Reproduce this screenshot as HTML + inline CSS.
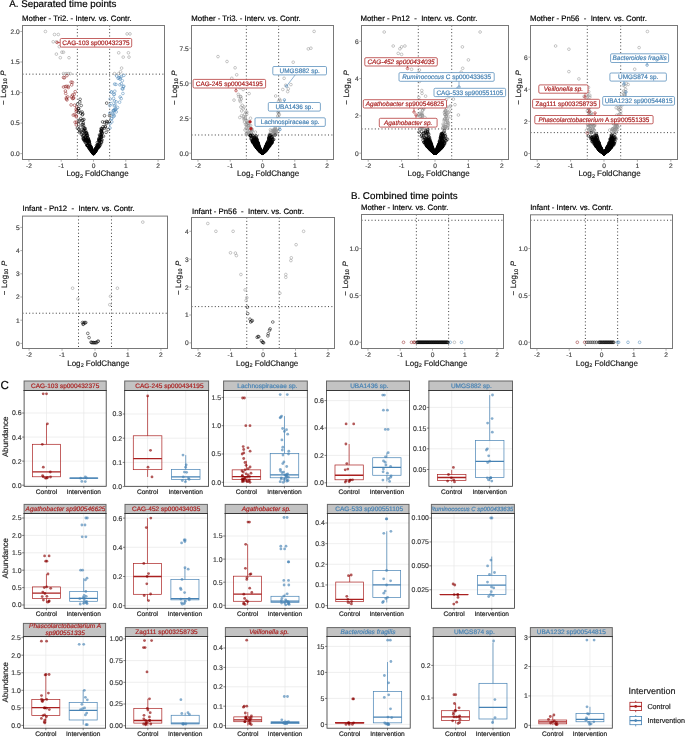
<!DOCTYPE html>
<html><head><meta charset="utf-8"><style>
html,body{margin:0;padding:0;background:#fff;width:685px;height:737px;overflow:hidden}
svg{display:block;will-change:transform}
text{font-family:"Liberation Sans", sans-serif;stroke-width:0.18px}
</style></head><body>
<svg width="685" height="737" viewBox="0 0 685 737" text-rendering="geometricPrecision">
<rect width="685" height="737" fill="#fff"/>
<text x="9.2" y="7.1" font-size="9.8" fill="#000" stroke="#000" text-anchor="start">A. Separated time points</text>
<text x="350.9" y="198.8" font-size="9.8" fill="#000" stroke="#000" text-anchor="start">B. Combined time points</text>
<text x="0.5" y="388.7" font-size="11.6" fill="#000" stroke="#000" text-anchor="start">C</text>
<g>
<clipPath id="c1"><rect x="22.5" y="25.5" width="142" height="134"/></clipPath>
<text x="22.1" y="20.7" font-size="7.8" fill="#000" stroke="#000" text-anchor="start">Mother - Tri2. - Interv. vs. Contr.</text>
<line x1="77.36" y1="25.5" x2="77.36" y2="159.5" stroke="#333" stroke-width="0.95" stroke-dasharray="1 2.33" fill="none"/>
<line x1="109.64" y1="25.5" x2="109.64" y2="159.5" stroke="#333" stroke-width="0.95" stroke-dasharray="1 2.33" fill="none"/>
<line x1="22.5" y1="74.15" x2="164.5" y2="74.15" stroke="#333" stroke-width="0.95" stroke-dasharray="1 2.33" fill="none"/>
<g clip-path="url(#c1)" fill="none" stroke-width="0.5">
<g stroke="#8E8E8E">
<circle cx="45.4" cy="31.5" r="1.35"/>
<circle cx="54.5" cy="34.5" r="1.35"/>
<circle cx="58.3" cy="34.5" r="1.35"/>
<circle cx="53.2" cy="41.8" r="1.35"/>
<circle cx="56.4" cy="41.8" r="1.35"/>
<circle cx="59.3" cy="46.7" r="1.35"/>
<circle cx="56.4" cy="54.1" r="1.35"/>
<circle cx="61.9" cy="52.2" r="1.35"/>
<circle cx="63.5" cy="52.2" r="1.35"/>
<circle cx="60.3" cy="57.7" r="1.35"/>
<circle cx="69.0" cy="57.7" r="1.35"/>
<circle cx="63.5" cy="73.6" r="1.35"/>
<circle cx="66.1" cy="73.6" r="1.35"/>
<circle cx="68.3" cy="73.6" r="1.35"/>
<circle cx="70.3" cy="73.6" r="1.35"/>
<circle cx="127.1" cy="33.9" r="1.35"/>
<circle cx="130.0" cy="33.9" r="1.35"/>
<circle cx="118.7" cy="52.8" r="1.35"/>
<circle cx="128.4" cy="52.8" r="1.35"/>
<circle cx="123.2" cy="57.1" r="1.35"/>
<circle cx="129.0" cy="57.1" r="1.35"/>
<circle cx="121.6" cy="68.1" r="1.35"/>
<circle cx="120.6" cy="71.8" r="1.35"/>
<circle cx="118.7" cy="73.6" r="1.35"/>
<circle cx="114.5" cy="73.6" r="1.35"/>
</g>
<g stroke="#8B1A1A">
<circle cx="63.5" cy="87.0" r="1.35"/>
<circle cx="66.9" cy="75.6" r="1.35"/>
<circle cx="68.1" cy="86.4" r="1.35"/>
<circle cx="65.2" cy="86.6" r="1.35"/>
<circle cx="71.1" cy="104.9" r="1.35"/>
<circle cx="73.3" cy="115.1" r="1.35"/>
<circle cx="74.1" cy="94.4" r="1.35"/>
<circle cx="75.2" cy="91.7" r="1.35"/>
<circle cx="71.1" cy="82.1" r="1.35"/>
<circle cx="72.4" cy="82.4" r="1.35"/>
<circle cx="63.5" cy="77.5" r="1.35"/>
<circle cx="76.1" cy="109.2" r="1.35"/>
<circle cx="76.9" cy="110.6" r="1.35"/>
<circle cx="76.7" cy="122.1" r="1.35"/>
<circle cx="72.5" cy="95.0" r="1.35"/>
<circle cx="71.7" cy="84.9" r="1.35"/>
<circle cx="76.3" cy="115.8" r="1.35"/>
<circle cx="67.0" cy="99.9" r="1.35"/>
<circle cx="66.4" cy="99.0" r="1.35"/>
<circle cx="76.2" cy="111.3" r="1.35"/>
<circle cx="66.5" cy="86.4" r="1.35"/>
<circle cx="74.7" cy="114.6" r="1.35"/>
<circle cx="65.7" cy="93.4" r="1.35"/>
<circle cx="72.5" cy="98.5" r="1.35"/>
<circle cx="76.3" cy="124.9" r="1.35"/>
<circle cx="68.3" cy="87.5" r="1.35"/>
<circle cx="66.4" cy="97.8" r="1.35"/>
<circle cx="74.6" cy="105.2" r="1.35"/>
<circle cx="73.4" cy="98.3" r="1.35"/>
<circle cx="67.7" cy="96.9" r="1.35"/>
<circle cx="76.7" cy="107.1" r="1.35"/>
<circle cx="65.4" cy="91.0" r="1.35"/>
<circle cx="71.5" cy="96.9" r="1.35"/>
<circle cx="76.3" cy="116.8" r="1.35"/>
<circle cx="75.1" cy="122.2" r="1.35"/>
<circle cx="73.5" cy="97.7" r="1.35"/>
<circle cx="64.4" cy="77.8" r="1.35"/>
</g>
<g stroke="#4682B4">
<circle cx="110.0" cy="128.0" r="1.35"/>
<circle cx="109.9" cy="113.0" r="1.35"/>
<circle cx="113.2" cy="114.3" r="1.35"/>
<circle cx="113.9" cy="110.8" r="1.35"/>
<circle cx="114.9" cy="109.3" r="1.35"/>
<circle cx="113.8" cy="116.3" r="1.35"/>
<circle cx="111.6" cy="91.9" r="1.35"/>
<circle cx="116.7" cy="76.0" r="1.35"/>
<circle cx="114.8" cy="91.2" r="1.35"/>
<circle cx="115.9" cy="84.4" r="1.35"/>
<circle cx="123.2" cy="86.8" r="1.35"/>
<circle cx="116.1" cy="108.8" r="1.35"/>
<circle cx="121.3" cy="83.8" r="1.35"/>
<circle cx="113.8" cy="94.6" r="1.35"/>
<circle cx="113.6" cy="98.4" r="1.35"/>
<circle cx="114.2" cy="115.5" r="1.35"/>
<circle cx="120.1" cy="97.0" r="1.35"/>
<circle cx="110.2" cy="99.0" r="1.35"/>
<circle cx="114.3" cy="105.8" r="1.35"/>
<circle cx="121.2" cy="98.6" r="1.35"/>
<circle cx="114.3" cy="94.3" r="1.35"/>
<circle cx="120.4" cy="77.7" r="1.35"/>
<circle cx="115.0" cy="105.0" r="1.35"/>
<circle cx="114.0" cy="110.0" r="1.35"/>
<circle cx="112.1" cy="113.2" r="1.35"/>
<circle cx="122.3" cy="80.7" r="1.35"/>
<circle cx="119.6" cy="102.2" r="1.35"/>
<circle cx="122.2" cy="88.8" r="1.35"/>
<circle cx="115.3" cy="110.1" r="1.35"/>
<circle cx="111.6" cy="118.3" r="1.35"/>
<circle cx="119.9" cy="84.8" r="1.35"/>
<circle cx="114.6" cy="84.1" r="1.35"/>
<circle cx="111.2" cy="92.1" r="1.35"/>
<circle cx="116.1" cy="101.8" r="1.35"/>
<circle cx="111.2" cy="103.6" r="1.35"/>
<circle cx="117.5" cy="107.5" r="1.35"/>
<circle cx="118.1" cy="78.3" r="1.35"/>
<circle cx="111.7" cy="118.7" r="1.35"/>
<circle cx="122.9" cy="88.9" r="1.35"/>
<circle cx="120.0" cy="79.1" r="1.35"/>
<circle cx="113.1" cy="110.7" r="1.35"/>
<circle cx="121.3" cy="76.5" r="1.35"/>
<circle cx="119.0" cy="77.7" r="1.35"/>
<circle cx="116.2" cy="111.9" r="1.35"/>
<circle cx="123.8" cy="86.2" r="1.35"/>
<circle cx="122.9" cy="93.5" r="1.35"/>
<circle cx="111.8" cy="121.9" r="1.35"/>
<circle cx="123.8" cy="75.4" r="1.35"/>
<circle cx="110.0" cy="123.6" r="1.35"/>
<circle cx="109.8" cy="105.5" r="1.35"/>
<circle cx="114.4" cy="101.1" r="1.35"/>
</g>
<g stroke="#000">
<circle cx="96.6" cy="149.1" r="1.35"/>
<circle cx="100.9" cy="130.9" r="1.35"/>
<circle cx="96.5" cy="149.5" r="1.35"/>
<circle cx="81.7" cy="134.5" r="1.35"/>
<circle cx="101.7" cy="129.1" r="1.35"/>
<circle cx="97.5" cy="146.9" r="1.35"/>
<circle cx="88.6" cy="141.0" r="1.35"/>
<circle cx="98.8" cy="140.3" r="1.35"/>
<circle cx="96.8" cy="147.5" r="1.35"/>
<circle cx="96.2" cy="148.9" r="1.35"/>
<circle cx="93.8" cy="153.2" r="1.35"/>
<circle cx="98.4" cy="144.5" r="1.35"/>
<circle cx="86.8" cy="135.4" r="1.35"/>
<circle cx="92.0" cy="151.6" r="1.35"/>
<circle cx="89.1" cy="143.3" r="1.35"/>
<circle cx="98.9" cy="146.5" r="1.35"/>
<circle cx="93.9" cy="153.0" r="1.35"/>
<circle cx="90.9" cy="147.9" r="1.35"/>
<circle cx="86.4" cy="133.2" r="1.35"/>
<circle cx="91.2" cy="149.4" r="1.35"/>
<circle cx="93.6" cy="153.5" r="1.35"/>
<circle cx="91.0" cy="149.6" r="1.35"/>
<circle cx="105.2" cy="126.4" r="1.35"/>
<circle cx="102.6" cy="121.9" r="1.35"/>
<circle cx="91.9" cy="151.5" r="1.35"/>
<circle cx="89.7" cy="148.3" r="1.35"/>
<circle cx="95.4" cy="151.3" r="1.35"/>
<circle cx="95.5" cy="150.6" r="1.35"/>
<circle cx="83.5" cy="129.7" r="1.35"/>
<circle cx="90.1" cy="146.9" r="1.35"/>
<circle cx="99.3" cy="140.5" r="1.35"/>
<circle cx="99.5" cy="143.6" r="1.35"/>
<circle cx="88.9" cy="141.7" r="1.35"/>
<circle cx="78.6" cy="108.6" r="1.35"/>
<circle cx="95.0" cy="151.1" r="1.35"/>
<circle cx="94.5" cy="151.8" r="1.35"/>
<circle cx="82.4" cy="114.8" r="1.35"/>
<circle cx="87.3" cy="145.7" r="1.35"/>
<circle cx="92.8" cy="152.7" r="1.35"/>
<circle cx="85.0" cy="140.7" r="1.35"/>
<circle cx="92.6" cy="151.9" r="1.35"/>
<circle cx="94.4" cy="152.6" r="1.35"/>
<circle cx="93.8" cy="153.2" r="1.35"/>
<circle cx="88.9" cy="148.0" r="1.35"/>
<circle cx="98.9" cy="139.4" r="1.35"/>
<circle cx="101.6" cy="136.2" r="1.35"/>
<circle cx="96.4" cy="147.7" r="1.35"/>
<circle cx="86.1" cy="140.0" r="1.35"/>
<circle cx="100.1" cy="136.2" r="1.35"/>
<circle cx="89.0" cy="140.9" r="1.35"/>
<circle cx="101.4" cy="136.5" r="1.35"/>
<circle cx="83.8" cy="135.3" r="1.35"/>
<circle cx="101.8" cy="133.7" r="1.35"/>
<circle cx="93.3" cy="153.4" r="1.35"/>
<circle cx="82.2" cy="124.7" r="1.35"/>
<circle cx="90.7" cy="147.4" r="1.35"/>
<circle cx="94.0" cy="153.0" r="1.35"/>
<circle cx="96.0" cy="149.0" r="1.35"/>
<circle cx="84.6" cy="129.0" r="1.35"/>
<circle cx="83.5" cy="125.3" r="1.35"/>
<circle cx="95.3" cy="151.5" r="1.35"/>
<circle cx="89.3" cy="148.4" r="1.35"/>
<circle cx="95.6" cy="150.3" r="1.35"/>
<circle cx="100.4" cy="135.9" r="1.35"/>
<circle cx="78.6" cy="124.3" r="1.35"/>
<circle cx="95.8" cy="148.3" r="1.35"/>
<circle cx="104.6" cy="122.5" r="1.35"/>
<circle cx="90.8" cy="148.9" r="1.35"/>
<circle cx="86.2" cy="136.8" r="1.35"/>
<circle cx="100.3" cy="137.4" r="1.35"/>
<circle cx="95.8" cy="150.9" r="1.35"/>
<circle cx="101.6" cy="129.3" r="1.35"/>
<circle cx="90.4" cy="148.5" r="1.35"/>
<circle cx="80.1" cy="99.3" r="1.35"/>
<circle cx="92.5" cy="151.2" r="1.35"/>
<circle cx="89.5" cy="143.5" r="1.35"/>
<circle cx="100.5" cy="144.7" r="1.35"/>
<circle cx="95.2" cy="151.1" r="1.35"/>
<circle cx="78.8" cy="129.2" r="1.35"/>
<circle cx="82.7" cy="113.9" r="1.35"/>
<circle cx="101.5" cy="139.7" r="1.35"/>
<circle cx="99.6" cy="140.5" r="1.35"/>
<circle cx="87.7" cy="141.1" r="1.35"/>
<circle cx="93.5" cy="153.6" r="1.35"/>
<circle cx="97.5" cy="144.5" r="1.35"/>
<circle cx="97.7" cy="145.7" r="1.35"/>
<circle cx="101.4" cy="132.0" r="1.35"/>
<circle cx="95.8" cy="149.0" r="1.35"/>
<circle cx="92.6" cy="152.2" r="1.35"/>
<circle cx="91.2" cy="147.9" r="1.35"/>
<circle cx="103.0" cy="126.7" r="1.35"/>
<circle cx="92.2" cy="151.4" r="1.35"/>
<circle cx="93.8" cy="153.2" r="1.35"/>
<circle cx="80.6" cy="127.4" r="1.35"/>
<circle cx="96.5" cy="148.4" r="1.35"/>
<circle cx="87.6" cy="145.5" r="1.35"/>
<circle cx="101.3" cy="131.0" r="1.35"/>
<circle cx="92.4" cy="150.8" r="1.35"/>
<circle cx="99.5" cy="140.2" r="1.35"/>
<circle cx="104.5" cy="115.7" r="1.35"/>
<circle cx="97.0" cy="147.6" r="1.35"/>
<circle cx="85.6" cy="138.3" r="1.35"/>
<circle cx="79.8" cy="102.0" r="1.35"/>
<circle cx="109.3" cy="121.9" r="1.35"/>
<circle cx="92.5" cy="152.0" r="1.35"/>
<circle cx="87.3" cy="140.1" r="1.35"/>
<circle cx="94.8" cy="152.0" r="1.35"/>
<circle cx="91.8" cy="151.4" r="1.35"/>
<circle cx="101.2" cy="131.9" r="1.35"/>
<circle cx="93.8" cy="152.9" r="1.35"/>
<circle cx="93.6" cy="153.5" r="1.35"/>
<circle cx="87.0" cy="135.1" r="1.35"/>
<circle cx="97.7" cy="147.3" r="1.35"/>
<circle cx="84.2" cy="128.4" r="1.35"/>
<circle cx="99.5" cy="139.8" r="1.35"/>
<circle cx="107.3" cy="121.9" r="1.35"/>
<circle cx="79.7" cy="132.5" r="1.35"/>
<circle cx="99.1" cy="138.2" r="1.35"/>
<circle cx="84.5" cy="131.6" r="1.35"/>
<circle cx="82.2" cy="120.3" r="1.35"/>
<circle cx="98.8" cy="146.9" r="1.35"/>
<circle cx="85.9" cy="133.2" r="1.35"/>
<circle cx="88.9" cy="146.5" r="1.35"/>
<circle cx="90.4" cy="149.8" r="1.35"/>
<circle cx="98.3" cy="146.5" r="1.35"/>
<circle cx="89.8" cy="148.0" r="1.35"/>
<circle cx="96.0" cy="149.9" r="1.35"/>
<circle cx="91.9" cy="151.5" r="1.35"/>
<circle cx="85.9" cy="133.2" r="1.35"/>
<circle cx="90.6" cy="149.0" r="1.35"/>
<circle cx="84.9" cy="140.2" r="1.35"/>
<circle cx="93.6" cy="153.5" r="1.35"/>
<circle cx="83.3" cy="138.8" r="1.35"/>
<circle cx="83.6" cy="139.3" r="1.35"/>
<circle cx="106.7" cy="103.1" r="1.35"/>
<circle cx="93.0" cy="152.7" r="1.35"/>
<circle cx="93.0" cy="152.7" r="1.35"/>
<circle cx="98.1" cy="147.5" r="1.35"/>
<circle cx="89.7" cy="145.9" r="1.35"/>
<circle cx="91.4" cy="149.0" r="1.35"/>
<circle cx="97.3" cy="142.6" r="1.35"/>
<circle cx="96.1" cy="148.0" r="1.35"/>
<circle cx="83.0" cy="136.2" r="1.35"/>
<circle cx="101.0" cy="128.6" r="1.35"/>
<circle cx="88.2" cy="139.0" r="1.35"/>
<circle cx="84.0" cy="127.7" r="1.35"/>
<circle cx="85.4" cy="137.0" r="1.35"/>
<circle cx="90.0" cy="146.1" r="1.35"/>
<circle cx="108.2" cy="129.6" r="1.35"/>
<circle cx="82.9" cy="120.1" r="1.35"/>
<circle cx="94.9" cy="151.2" r="1.35"/>
<circle cx="93.5" cy="153.6" r="1.35"/>
<circle cx="101.6" cy="141.9" r="1.35"/>
<circle cx="91.4" cy="148.3" r="1.35"/>
<circle cx="87.8" cy="145.2" r="1.35"/>
<circle cx="95.6" cy="150.5" r="1.35"/>
<circle cx="99.8" cy="139.8" r="1.35"/>
<circle cx="99.5" cy="134.9" r="1.35"/>
<circle cx="95.4" cy="151.0" r="1.35"/>
<circle cx="88.1" cy="137.9" r="1.35"/>
<circle cx="92.4" cy="151.3" r="1.35"/>
<circle cx="92.8" cy="152.2" r="1.35"/>
<circle cx="94.5" cy="152.2" r="1.35"/>
<circle cx="93.2" cy="153.1" r="1.35"/>
<circle cx="95.1" cy="149.7" r="1.35"/>
<circle cx="78.4" cy="108.7" r="1.35"/>
<circle cx="101.0" cy="134.8" r="1.35"/>
<circle cx="88.3" cy="145.5" r="1.35"/>
<circle cx="82.9" cy="124.2" r="1.35"/>
<circle cx="99.3" cy="144.2" r="1.35"/>
<circle cx="105.4" cy="127.0" r="1.35"/>
<circle cx="98.0" cy="147.7" r="1.35"/>
<circle cx="95.0" cy="151.6" r="1.35"/>
<circle cx="85.1" cy="133.8" r="1.35"/>
<circle cx="101.5" cy="136.4" r="1.35"/>
<circle cx="83.2" cy="138.0" r="1.35"/>
<circle cx="86.5" cy="132.6" r="1.35"/>
<circle cx="94.3" cy="152.2" r="1.35"/>
<circle cx="79.5" cy="120.3" r="1.35"/>
<circle cx="95.0" cy="150.8" r="1.35"/>
<circle cx="89.4" cy="146.5" r="1.35"/>
<circle cx="104.6" cy="128.2" r="1.35"/>
<circle cx="102.2" cy="133.1" r="1.35"/>
<circle cx="93.9" cy="152.9" r="1.35"/>
<circle cx="78.9" cy="121.4" r="1.35"/>
<circle cx="103.5" cy="136.2" r="1.35"/>
<circle cx="95.0" cy="149.9" r="1.35"/>
<circle cx="98.5" cy="142.2" r="1.35"/>
<circle cx="83.9" cy="140.2" r="1.35"/>
<circle cx="83.9" cy="119.5" r="1.35"/>
<circle cx="96.9" cy="149.0" r="1.35"/>
<circle cx="87.4" cy="145.7" r="1.35"/>
<circle cx="93.3" cy="153.3" r="1.35"/>
<circle cx="82.1" cy="132.8" r="1.35"/>
<circle cx="84.7" cy="138.7" r="1.35"/>
<circle cx="90.8" cy="149.1" r="1.35"/>
<circle cx="98.0" cy="147.1" r="1.35"/>
<circle cx="87.6" cy="142.0" r="1.35"/>
<circle cx="91.3" cy="148.6" r="1.35"/>
<circle cx="88.4" cy="139.0" r="1.35"/>
<circle cx="92.3" cy="152.1" r="1.35"/>
<circle cx="82.9" cy="135.5" r="1.35"/>
<circle cx="89.5" cy="143.4" r="1.35"/>
<circle cx="91.6" cy="151.1" r="1.35"/>
<circle cx="90.5" cy="146.9" r="1.35"/>
<circle cx="94.0" cy="152.8" r="1.35"/>
<circle cx="90.9" cy="148.1" r="1.35"/>
<circle cx="100.3" cy="134.9" r="1.35"/>
<circle cx="90.6" cy="146.4" r="1.35"/>
<circle cx="92.3" cy="150.5" r="1.35"/>
<circle cx="87.5" cy="135.4" r="1.35"/>
<circle cx="88.7" cy="139.9" r="1.35"/>
<circle cx="82.1" cy="112.0" r="1.35"/>
<circle cx="98.2" cy="147.1" r="1.35"/>
<circle cx="83.2" cy="130.9" r="1.35"/>
<circle cx="86.8" cy="133.5" r="1.35"/>
<circle cx="96.7" cy="147.8" r="1.35"/>
<circle cx="97.1" cy="147.1" r="1.35"/>
<circle cx="89.9" cy="146.9" r="1.35"/>
<circle cx="97.3" cy="146.0" r="1.35"/>
<circle cx="95.8" cy="150.6" r="1.35"/>
<circle cx="80.7" cy="118.6" r="1.35"/>
<circle cx="100.5" cy="139.4" r="1.35"/>
<circle cx="87.2" cy="145.2" r="1.35"/>
<circle cx="83.3" cy="122.8" r="1.35"/>
<circle cx="94.4" cy="152.4" r="1.35"/>
<circle cx="91.9" cy="150.7" r="1.35"/>
<circle cx="95.3" cy="151.1" r="1.35"/>
<circle cx="79.0" cy="110.6" r="1.35"/>
<circle cx="88.1" cy="141.4" r="1.35"/>
<circle cx="79.6" cy="130.9" r="1.35"/>
<circle cx="99.1" cy="146.2" r="1.35"/>
<circle cx="90.3" cy="148.4" r="1.35"/>
<circle cx="96.4" cy="150.1" r="1.35"/>
<circle cx="90.4" cy="149.1" r="1.35"/>
<circle cx="93.0" cy="152.9" r="1.35"/>
<circle cx="95.7" cy="150.8" r="1.35"/>
<circle cx="86.8" cy="136.1" r="1.35"/>
<circle cx="99.6" cy="145.9" r="1.35"/>
<circle cx="89.3" cy="144.6" r="1.35"/>
<circle cx="85.6" cy="137.1" r="1.35"/>
<circle cx="94.2" cy="152.0" r="1.35"/>
<circle cx="97.5" cy="148.0" r="1.35"/>
<circle cx="91.4" cy="149.3" r="1.35"/>
<circle cx="85.7" cy="140.2" r="1.35"/>
<circle cx="99.1" cy="138.9" r="1.35"/>
<circle cx="77.6" cy="104.1" r="1.35"/>
<circle cx="84.2" cy="130.5" r="1.35"/>
<circle cx="93.9" cy="152.8" r="1.35"/>
<circle cx="81.2" cy="105.5" r="1.35"/>
<circle cx="93.8" cy="153.3" r="1.35"/>
<circle cx="93.0" cy="153.0" r="1.35"/>
<circle cx="101.6" cy="130.5" r="1.35"/>
<circle cx="85.2" cy="128.4" r="1.35"/>
<circle cx="87.8" cy="140.6" r="1.35"/>
<circle cx="96.5" cy="145.6" r="1.35"/>
<circle cx="87.2" cy="141.7" r="1.35"/>
<circle cx="86.9" cy="144.7" r="1.35"/>
<circle cx="101.3" cy="142.3" r="1.35"/>
<circle cx="93.1" cy="153.2" r="1.35"/>
<circle cx="77.4" cy="128.1" r="1.35"/>
<circle cx="99.2" cy="143.4" r="1.35"/>
<circle cx="101.2" cy="137.5" r="1.35"/>
<circle cx="89.4" cy="142.0" r="1.35"/>
<circle cx="91.0" cy="147.0" r="1.35"/>
<circle cx="97.9" cy="145.5" r="1.35"/>
<circle cx="85.3" cy="141.5" r="1.35"/>
<circle cx="97.5" cy="145.7" r="1.35"/>
<circle cx="95.3" cy="148.9" r="1.35"/>
<circle cx="87.4" cy="137.2" r="1.35"/>
<circle cx="80.9" cy="131.3" r="1.35"/>
<circle cx="91.5" cy="148.7" r="1.35"/>
<circle cx="85.6" cy="130.7" r="1.35"/>
<circle cx="102.5" cy="128.7" r="1.35"/>
<circle cx="94.8" cy="151.6" r="1.35"/>
<circle cx="100.6" cy="143.3" r="1.35"/>
<circle cx="94.7" cy="150.9" r="1.35"/>
<circle cx="95.9" cy="149.7" r="1.35"/>
<circle cx="86.4" cy="139.6" r="1.35"/>
<circle cx="99.5" cy="140.9" r="1.35"/>
<circle cx="109.6" cy="115.6" r="1.35"/>
<circle cx="90.7" cy="149.8" r="1.35"/>
<circle cx="88.1" cy="139.7" r="1.35"/>
<circle cx="92.1" cy="151.1" r="1.35"/>
<circle cx="89.2" cy="141.5" r="1.35"/>
<circle cx="87.2" cy="141.1" r="1.35"/>
<circle cx="94.7" cy="151.9" r="1.35"/>
<circle cx="90.9" cy="150.6" r="1.35"/>
<circle cx="106.5" cy="121.4" r="1.35"/>
<circle cx="93.5" cy="153.6" r="1.35"/>
<circle cx="96.4" cy="148.7" r="1.35"/>
<circle cx="102.1" cy="132.4" r="1.35"/>
<circle cx="90.8" cy="146.6" r="1.35"/>
<circle cx="106.5" cy="123.3" r="1.35"/>
<circle cx="87.8" cy="145.2" r="1.35"/>
<circle cx="86.2" cy="143.4" r="1.35"/>
<circle cx="90.2" cy="149.7" r="1.35"/>
<circle cx="92.5" cy="151.6" r="1.35"/>
<circle cx="80.8" cy="113.1" r="1.35"/>
<circle cx="93.2" cy="152.9" r="1.35"/>
<circle cx="78.4" cy="112.3" r="1.35"/>
<circle cx="106.1" cy="132.3" r="1.35"/>
<circle cx="92.8" cy="152.0" r="1.35"/>
<circle cx="87.7" cy="145.5" r="1.35"/>
<circle cx="85.3" cy="139.7" r="1.35"/>
<circle cx="90.0" cy="145.0" r="1.35"/>
<circle cx="91.5" cy="150.4" r="1.35"/>
<circle cx="84.1" cy="138.9" r="1.35"/>
<circle cx="85.2" cy="142.2" r="1.35"/>
<circle cx="91.8" cy="149.6" r="1.35"/>
<circle cx="88.8" cy="147.0" r="1.35"/>
<circle cx="102.0" cy="140.0" r="1.35"/>
</g>
</g>
<rect x="22.5" y="25.5" width="142" height="134" fill="none" stroke="#787878" stroke-width="1"/>
<line x1="28.95" y1="159.5" x2="28.95" y2="161.7" stroke="#787878" stroke-width="0.6"/>
<text x="28.95" y="167.6" font-size="6.6" fill="#444" stroke="#444" text-anchor="middle">-2</text>
<line x1="61.23" y1="159.5" x2="61.23" y2="161.7" stroke="#787878" stroke-width="0.6"/>
<text x="61.23" y="167.6" font-size="6.6" fill="#444" stroke="#444" text-anchor="middle">-1</text>
<line x1="93.5" y1="159.5" x2="93.5" y2="161.7" stroke="#787878" stroke-width="0.6"/>
<text x="93.5" y="167.6" font-size="6.6" fill="#444" stroke="#444" text-anchor="middle">0</text>
<line x1="125.77" y1="159.5" x2="125.77" y2="161.7" stroke="#787878" stroke-width="0.6"/>
<text x="125.77" y="167.6" font-size="6.6" fill="#444" stroke="#444" text-anchor="middle">1</text>
<line x1="158.05" y1="159.5" x2="158.05" y2="161.7" stroke="#787878" stroke-width="0.6"/>
<text x="158.05" y="167.6" font-size="6.6" fill="#444" stroke="#444" text-anchor="middle">2</text>
<line x1="20.3" y1="153.6" x2="22.5" y2="153.6" stroke="#787878" stroke-width="0.6"/>
<text x="19.7" y="156" font-size="6.6" fill="#444" stroke="#444" text-anchor="end">0.0</text>
<line x1="20.3" y1="123.06" x2="22.5" y2="123.06" stroke="#787878" stroke-width="0.6"/>
<text x="19.7" y="125.47" font-size="6.6" fill="#444" stroke="#444" text-anchor="end">0.5</text>
<line x1="20.3" y1="92.53" x2="22.5" y2="92.53" stroke="#787878" stroke-width="0.6"/>
<text x="19.7" y="94.93" font-size="6.6" fill="#444" stroke="#444" text-anchor="end">1.0</text>
<line x1="20.3" y1="61.99" x2="22.5" y2="61.99" stroke="#787878" stroke-width="0.6"/>
<text x="19.7" y="64.39" font-size="6.6" fill="#444" stroke="#444" text-anchor="end">1.5</text>
<line x1="20.3" y1="31.46" x2="22.5" y2="31.46" stroke="#787878" stroke-width="0.6"/>
<text x="19.7" y="33.86" font-size="6.6" fill="#444" stroke="#444" text-anchor="end">2.0</text>
<text y="176.4" font-size="8" fill="#1a1a1a" stroke="#1a1a1a"><tspan x="66.4">Log</tspan><tspan x="79.9" dy="1.4" font-size="5.4">2</tspan><tspan x="85" dy="-1.4">FoldChange</tspan></text>
<text transform="translate(5.9,104.9) rotate(-90)" font-size="7.85" fill="#1a1a1a" stroke="#1a1a1a"><tspan x="0">−</tspan><tspan x="7.2">Log</tspan><tspan x="20.6" dy="1.5" font-size="5.3">10</tspan><tspan x="29.2" dy="-1.5" font-style="italic">P</tspan></text>
<line x1="60.2" y1="42.5" x2="57.2" y2="42.5" stroke="#AA2020" stroke-width="0.6"/>
<circle cx="57.2" cy="42.5" r="1.25" fill="none" stroke="#AA2020" stroke-width="0.6"/>
<rect x="60.2" y="38.5" width="71.5" height="8.6" rx="1.2" fill="#fff" stroke="#AA2020" stroke-width="0.7"/>
<text x="95.95" y="45" font-size="6.4" fill="#AA2020" stroke="#AA2020" text-anchor="middle">CAG-103 sp000432375</text>
</g>
<g>
<clipPath id="c2"><rect x="191.5" y="25.5" width="142" height="134"/></clipPath>
<text x="191.3" y="20.7" font-size="7.8" fill="#000" stroke="#000" text-anchor="start">Mother - Tri3. - Interv. vs. Contr.</text>
<line x1="246.36" y1="25.5" x2="246.36" y2="159.5" stroke="#333" stroke-width="0.95" stroke-dasharray="1 2.33" fill="none"/>
<line x1="278.64" y1="25.5" x2="278.64" y2="159.5" stroke="#333" stroke-width="0.95" stroke-dasharray="1 2.33" fill="none"/>
<line x1="191.5" y1="134.99" x2="333.5" y2="134.99" stroke="#333" stroke-width="0.95" stroke-dasharray="1 2.33" fill="none"/>
<g clip-path="url(#c2)" fill="none" stroke-width="0.5">
<g stroke="#8E8E8E">
<circle cx="252.2" cy="131.0" r="1.35"/>
<circle cx="249.1" cy="93.6" r="1.35"/>
<circle cx="251.7" cy="129.9" r="1.35"/>
<circle cx="251.7" cy="128.8" r="1.35"/>
<circle cx="274.2" cy="132.1" r="1.35"/>
<circle cx="270.4" cy="129.7" r="1.35"/>
<circle cx="248.4" cy="133.8" r="1.35"/>
<circle cx="279.3" cy="124.4" r="1.35"/>
<circle cx="270.5" cy="132.7" r="1.35"/>
<circle cx="251.4" cy="131.6" r="1.35"/>
<circle cx="269.1" cy="134.8" r="1.35"/>
<circle cx="255.4" cy="132.1" r="1.35"/>
<circle cx="270.6" cy="134.4" r="1.35"/>
<circle cx="278.2" cy="108.2" r="1.35"/>
<circle cx="275.7" cy="96.0" r="1.35"/>
<circle cx="271.1" cy="130.8" r="1.35"/>
<circle cx="269.9" cy="134.2" r="1.35"/>
<circle cx="218.0" cy="56.6" r="1.35"/>
<circle cx="227.0" cy="61.5" r="1.35"/>
<circle cx="235.1" cy="67.8" r="1.35"/>
<circle cx="236.7" cy="74.8" r="1.35"/>
<circle cx="231.8" cy="78.3" r="1.35"/>
<circle cx="314.1" cy="31.4" r="1.35"/>
<circle cx="310.9" cy="48.2" r="1.35"/>
<circle cx="308.3" cy="48.9" r="1.35"/>
<circle cx="293.2" cy="62.2" r="1.35"/>
<circle cx="284.1" cy="78.3" r="1.35"/>
<circle cx="285.7" cy="85.3" r="1.35"/>
<circle cx="290.9" cy="84.6" r="1.35"/>
<circle cx="288.3" cy="88.8" r="1.35"/>
<circle cx="282.8" cy="89.5" r="1.35"/>
<circle cx="287.7" cy="91.6" r="1.35"/>
<circle cx="243.1" cy="89.5" r="1.35"/>
<circle cx="238.3" cy="94.4" r="1.35"/>
<circle cx="240.6" cy="96.5" r="1.35"/>
<circle cx="277.7" cy="116.1" r="1.35"/>
<circle cx="278.6" cy="114.0" r="1.35"/>
<circle cx="279.3" cy="114.7" r="1.35"/>
<circle cx="278.3" cy="112.6" r="1.35"/>
<circle cx="280.2" cy="100.7" r="1.35"/>
<circle cx="279.6" cy="99.3" r="1.35"/>
<circle cx="278.6" cy="101.4" r="1.35"/>
<circle cx="277.0" cy="119.6" r="1.35"/>
<circle cx="245.0" cy="130.0" r="1.35"/>
<circle cx="251.6" cy="129.5" r="1.35"/>
<circle cx="246.8" cy="133.5" r="1.35"/>
<circle cx="245.6" cy="124.5" r="1.35"/>
<circle cx="243.2" cy="108.9" r="1.35"/>
<circle cx="243.9" cy="118.3" r="1.35"/>
<circle cx="247.0" cy="132.8" r="1.35"/>
<circle cx="246.3" cy="127.5" r="1.35"/>
<circle cx="240.9" cy="107.1" r="1.35"/>
<circle cx="248.1" cy="134.2" r="1.35"/>
<circle cx="247.1" cy="124.6" r="1.35"/>
<circle cx="251.5" cy="128.7" r="1.35"/>
<circle cx="249.1" cy="130.3" r="1.35"/>
<circle cx="250.6" cy="125.4" r="1.35"/>
<circle cx="248.0" cy="123.3" r="1.35"/>
<circle cx="251.0" cy="133.2" r="1.35"/>
<circle cx="248.4" cy="126.0" r="1.35"/>
<circle cx="248.1" cy="132.0" r="1.35"/>
<circle cx="244.8" cy="114.3" r="1.35"/>
<circle cx="250.1" cy="134.3" r="1.35"/>
<circle cx="241.7" cy="115.6" r="1.35"/>
<circle cx="248.6" cy="125.3" r="1.35"/>
<circle cx="247.7" cy="123.4" r="1.35"/>
<circle cx="242.2" cy="105.3" r="1.35"/>
<circle cx="244.1" cy="119.6" r="1.35"/>
<circle cx="234.0" cy="100.1" r="1.35"/>
<circle cx="239.9" cy="87.8" r="1.35"/>
<circle cx="239.8" cy="100.1" r="1.35"/>
<circle cx="239.8" cy="117.5" r="1.35"/>
<circle cx="249.5" cy="129.2" r="1.35"/>
<circle cx="246.2" cy="128.5" r="1.35"/>
<circle cx="240.6" cy="96.9" r="1.35"/>
<circle cx="238.7" cy="96.5" r="1.35"/>
<circle cx="249.5" cy="125.5" r="1.35"/>
<circle cx="248.2" cy="128.2" r="1.35"/>
<circle cx="246.7" cy="122.3" r="1.35"/>
<circle cx="245.2" cy="117.8" r="1.35"/>
<circle cx="246.7" cy="114.4" r="1.35"/>
<circle cx="246.3" cy="133.8" r="1.35"/>
<circle cx="245.9" cy="112.1" r="1.35"/>
<circle cx="247.2" cy="120.7" r="1.35"/>
<circle cx="241.7" cy="110.9" r="1.35"/>
<circle cx="240.4" cy="101.6" r="1.35"/>
<circle cx="243.4" cy="116.4" r="1.35"/>
<circle cx="245.1" cy="118.4" r="1.35"/>
<circle cx="251.1" cy="132.6" r="1.35"/>
<circle cx="244.5" cy="122.1" r="1.35"/>
<circle cx="241.3" cy="98.9" r="1.35"/>
<circle cx="244.0" cy="107.0" r="1.35"/>
<circle cx="249.8" cy="130.4" r="1.35"/>
<circle cx="246.8" cy="112.2" r="1.35"/>
<circle cx="246.6" cy="124.9" r="1.35"/>
<circle cx="247.5" cy="121.8" r="1.35"/>
<circle cx="250.5" cy="118.2" r="1.35"/>
<circle cx="275.1" cy="133.5" r="1.35"/>
<circle cx="274.3" cy="130.3" r="1.35"/>
<circle cx="280.4" cy="124.2" r="1.35"/>
<circle cx="273.9" cy="129.8" r="1.35"/>
<circle cx="274.8" cy="134.4" r="1.35"/>
<circle cx="276.9" cy="119.2" r="1.35"/>
<circle cx="273.2" cy="131.3" r="1.35"/>
<circle cx="276.7" cy="130.2" r="1.35"/>
<circle cx="277.5" cy="127.9" r="1.35"/>
<circle cx="275.4" cy="129.8" r="1.35"/>
<circle cx="275.6" cy="129.9" r="1.35"/>
<circle cx="275.0" cy="131.1" r="1.35"/>
<circle cx="272.5" cy="130.5" r="1.35"/>
<circle cx="275.2" cy="134.7" r="1.35"/>
<circle cx="273.3" cy="131.2" r="1.35"/>
<circle cx="275.3" cy="120.0" r="1.35"/>
<circle cx="276.0" cy="131.0" r="1.35"/>
<circle cx="278.6" cy="117.7" r="1.35"/>
<circle cx="273.6" cy="133.5" r="1.35"/>
<circle cx="276.7" cy="134.0" r="1.35"/>
<circle cx="278.1" cy="131.6" r="1.35"/>
<circle cx="275.3" cy="132.8" r="1.35"/>
<circle cx="274.7" cy="134.3" r="1.35"/>
<circle cx="278.3" cy="112.1" r="1.35"/>
<circle cx="275.1" cy="128.1" r="1.35"/>
<circle cx="274.2" cy="129.2" r="1.35"/>
<circle cx="276.3" cy="131.6" r="1.35"/>
<circle cx="277.8" cy="121.4" r="1.35"/>
<circle cx="275.2" cy="126.1" r="1.35"/>
<circle cx="274.4" cy="133.0" r="1.35"/>
<circle cx="273.9" cy="134.2" r="1.35"/>
<circle cx="274.2" cy="130.7" r="1.35"/>
<circle cx="273.6" cy="132.5" r="1.35"/>
</g>
<g stroke="#8B1A1A">
</g>
<g stroke="#4682B4">
</g>
<g stroke="#000">
<circle cx="263.5" cy="152.4" r="1.35"/>
<circle cx="259.6" cy="150.1" r="1.35"/>
<circle cx="260.2" cy="151.4" r="1.35"/>
<circle cx="268.8" cy="142.7" r="1.35"/>
<circle cx="260.7" cy="151.8" r="1.35"/>
<circle cx="266.7" cy="147.9" r="1.35"/>
<circle cx="264.0" cy="151.4" r="1.35"/>
<circle cx="259.5" cy="148.0" r="1.35"/>
<circle cx="267.9" cy="142.0" r="1.35"/>
<circle cx="260.8" cy="151.2" r="1.35"/>
<circle cx="260.7" cy="151.2" r="1.35"/>
<circle cx="258.2" cy="148.9" r="1.35"/>
<circle cx="265.0" cy="149.0" r="1.35"/>
<circle cx="262.0" cy="152.6" r="1.35"/>
<circle cx="265.5" cy="148.0" r="1.35"/>
<circle cx="259.2" cy="148.1" r="1.35"/>
<circle cx="263.2" cy="152.5" r="1.35"/>
<circle cx="257.6" cy="148.5" r="1.35"/>
<circle cx="267.1" cy="143.9" r="1.35"/>
<circle cx="263.5" cy="151.8" r="1.35"/>
<circle cx="264.3" cy="151.5" r="1.35"/>
<circle cx="264.8" cy="150.8" r="1.35"/>
<circle cx="257.0" cy="140.3" r="1.35"/>
<circle cx="266.8" cy="148.5" r="1.35"/>
<circle cx="273.8" cy="139.4" r="1.35"/>
<circle cx="253.5" cy="141.2" r="1.35"/>
<circle cx="253.0" cy="142.8" r="1.35"/>
<circle cx="254.2" cy="142.6" r="1.35"/>
<circle cx="267.1" cy="146.0" r="1.35"/>
<circle cx="263.2" cy="152.6" r="1.35"/>
<circle cx="268.4" cy="145.4" r="1.35"/>
<circle cx="266.5" cy="145.2" r="1.35"/>
<circle cx="263.7" cy="151.9" r="1.35"/>
<circle cx="264.1" cy="152.0" r="1.35"/>
<circle cx="261.6" cy="152.4" r="1.35"/>
<circle cx="267.3" cy="146.0" r="1.35"/>
<circle cx="256.3" cy="145.9" r="1.35"/>
<circle cx="260.2" cy="151.0" r="1.35"/>
<circle cx="263.8" cy="151.3" r="1.35"/>
<circle cx="258.3" cy="149.1" r="1.35"/>
<circle cx="256.6" cy="139.6" r="1.35"/>
<circle cx="259.4" cy="149.7" r="1.35"/>
<circle cx="267.8" cy="141.6" r="1.35"/>
<circle cx="261.2" cy="151.6" r="1.35"/>
<circle cx="269.8" cy="144.5" r="1.35"/>
<circle cx="268.7" cy="146.5" r="1.35"/>
<circle cx="268.2" cy="146.8" r="1.35"/>
<circle cx="254.7" cy="142.5" r="1.35"/>
<circle cx="263.3" cy="152.0" r="1.35"/>
<circle cx="269.2" cy="142.8" r="1.35"/>
<circle cx="263.0" cy="152.8" r="1.35"/>
<circle cx="268.0" cy="146.5" r="1.35"/>
<circle cx="264.0" cy="151.6" r="1.35"/>
<circle cx="261.0" cy="151.5" r="1.35"/>
<circle cx="258.3" cy="147.8" r="1.35"/>
<circle cx="266.1" cy="148.5" r="1.35"/>
<circle cx="261.4" cy="152.3" r="1.35"/>
<circle cx="261.5" cy="152.2" r="1.35"/>
<circle cx="261.9" cy="152.8" r="1.35"/>
<circle cx="266.1" cy="150.2" r="1.35"/>
<circle cx="256.6" cy="147.4" r="1.35"/>
<circle cx="254.1" cy="142.7" r="1.35"/>
<circle cx="262.9" cy="152.7" r="1.35"/>
<circle cx="270.8" cy="140.0" r="1.35"/>
<circle cx="262.5" cy="153.1" r="1.35"/>
<circle cx="258.4" cy="145.4" r="1.35"/>
<circle cx="265.1" cy="151.0" r="1.35"/>
<circle cx="262.1" cy="152.8" r="1.35"/>
<circle cx="255.6" cy="138.2" r="1.35"/>
<circle cx="257.6" cy="146.8" r="1.35"/>
<circle cx="272.2" cy="142.4" r="1.35"/>
<circle cx="264.4" cy="151.4" r="1.35"/>
<circle cx="264.8" cy="151.3" r="1.35"/>
<circle cx="261.0" cy="150.9" r="1.35"/>
<circle cx="258.7" cy="149.4" r="1.35"/>
<circle cx="267.4" cy="145.5" r="1.35"/>
<circle cx="261.9" cy="152.6" r="1.35"/>
<circle cx="258.3" cy="147.7" r="1.35"/>
<circle cx="261.8" cy="152.4" r="1.35"/>
<circle cx="257.5" cy="148.1" r="1.35"/>
<circle cx="263.5" cy="151.9" r="1.35"/>
<circle cx="268.7" cy="143.9" r="1.35"/>
<circle cx="257.9" cy="146.8" r="1.35"/>
<circle cx="270.3" cy="142.2" r="1.35"/>
<circle cx="258.8" cy="148.9" r="1.35"/>
<circle cx="263.3" cy="151.9" r="1.35"/>
<circle cx="257.9" cy="148.8" r="1.35"/>
<circle cx="261.3" cy="152.1" r="1.35"/>
<circle cx="262.8" cy="152.9" r="1.35"/>
<circle cx="260.1" cy="150.5" r="1.35"/>
<circle cx="258.6" cy="149.7" r="1.35"/>
<circle cx="258.8" cy="149.8" r="1.35"/>
<circle cx="258.0" cy="146.8" r="1.35"/>
<circle cx="261.1" cy="152.1" r="1.35"/>
<circle cx="264.7" cy="151.2" r="1.35"/>
<circle cx="267.5" cy="147.5" r="1.35"/>
<circle cx="266.1" cy="148.5" r="1.35"/>
<circle cx="264.2" cy="150.7" r="1.35"/>
<circle cx="260.0" cy="151.0" r="1.35"/>
<circle cx="272.8" cy="139.5" r="1.35"/>
<circle cx="256.8" cy="145.3" r="1.35"/>
<circle cx="267.8" cy="144.8" r="1.35"/>
<circle cx="257.3" cy="147.2" r="1.35"/>
<circle cx="264.4" cy="150.9" r="1.35"/>
<circle cx="267.4" cy="144.7" r="1.35"/>
<circle cx="261.6" cy="152.5" r="1.35"/>
<circle cx="257.2" cy="142.2" r="1.35"/>
<circle cx="271.7" cy="137.3" r="1.35"/>
<circle cx="266.7" cy="147.6" r="1.35"/>
<circle cx="262.8" cy="153.0" r="1.35"/>
<circle cx="258.4" cy="145.1" r="1.35"/>
<circle cx="262.3" cy="153.0" r="1.35"/>
<circle cx="261.6" cy="152.0" r="1.35"/>
<circle cx="266.5" cy="149.7" r="1.35"/>
<circle cx="266.9" cy="144.5" r="1.35"/>
<circle cx="258.8" cy="150.0" r="1.35"/>
<circle cx="259.5" cy="150.1" r="1.35"/>
<circle cx="259.6" cy="148.5" r="1.35"/>
<circle cx="255.1" cy="140.6" r="1.35"/>
<circle cx="259.3" cy="148.3" r="1.35"/>
<circle cx="262.0" cy="152.7" r="1.35"/>
<circle cx="266.3" cy="149.6" r="1.35"/>
<circle cx="269.7" cy="141.9" r="1.35"/>
<circle cx="258.1" cy="149.3" r="1.35"/>
<circle cx="265.5" cy="150.6" r="1.35"/>
<circle cx="260.1" cy="149.5" r="1.35"/>
<circle cx="262.2" cy="153.0" r="1.35"/>
<circle cx="265.3" cy="149.6" r="1.35"/>
<circle cx="257.4" cy="144.2" r="1.35"/>
<circle cx="258.1" cy="149.2" r="1.35"/>
<circle cx="263.6" cy="152.1" r="1.35"/>
<circle cx="260.4" cy="150.3" r="1.35"/>
<circle cx="264.4" cy="151.2" r="1.35"/>
<circle cx="253.9" cy="139.8" r="1.35"/>
<circle cx="266.1" cy="149.7" r="1.35"/>
<circle cx="257.6" cy="146.0" r="1.35"/>
<circle cx="271.9" cy="136.9" r="1.35"/>
<circle cx="260.9" cy="150.8" r="1.35"/>
<circle cx="268.5" cy="146.9" r="1.35"/>
<circle cx="254.8" cy="145.0" r="1.35"/>
<circle cx="264.9" cy="148.6" r="1.35"/>
<circle cx="257.6" cy="148.0" r="1.35"/>
<circle cx="259.8" cy="151.1" r="1.35"/>
<circle cx="262.6" cy="153.1" r="1.35"/>
<circle cx="260.8" cy="151.7" r="1.35"/>
<circle cx="263.9" cy="151.2" r="1.35"/>
<circle cx="266.6" cy="149.7" r="1.35"/>
<circle cx="266.1" cy="148.3" r="1.35"/>
<circle cx="262.0" cy="152.8" r="1.35"/>
<circle cx="255.0" cy="144.3" r="1.35"/>
<circle cx="258.1" cy="148.0" r="1.35"/>
<circle cx="261.4" cy="152.4" r="1.35"/>
<circle cx="250.9" cy="138.8" r="1.35"/>
<circle cx="266.6" cy="147.7" r="1.35"/>
<circle cx="261.2" cy="151.8" r="1.35"/>
<circle cx="261.1" cy="152.1" r="1.35"/>
<circle cx="267.7" cy="145.8" r="1.35"/>
<circle cx="266.2" cy="149.9" r="1.35"/>
<circle cx="263.7" cy="151.6" r="1.35"/>
<circle cx="257.0" cy="143.1" r="1.35"/>
<circle cx="264.2" cy="151.2" r="1.35"/>
<circle cx="264.4" cy="150.7" r="1.35"/>
<circle cx="257.6" cy="146.5" r="1.35"/>
<circle cx="268.2" cy="142.1" r="1.35"/>
<circle cx="265.3" cy="148.6" r="1.35"/>
<circle cx="263.2" cy="152.3" r="1.35"/>
<circle cx="255.6" cy="140.7" r="1.35"/>
<circle cx="268.7" cy="143.1" r="1.35"/>
<circle cx="266.9" cy="149.2" r="1.35"/>
<circle cx="256.4" cy="143.7" r="1.35"/>
<circle cx="257.6" cy="147.3" r="1.35"/>
<circle cx="263.1" cy="152.8" r="1.35"/>
<circle cx="261.2" cy="151.8" r="1.35"/>
<circle cx="270.9" cy="135.1" r="1.35"/>
<circle cx="266.6" cy="148.4" r="1.35"/>
<circle cx="261.0" cy="151.9" r="1.35"/>
<circle cx="265.7" cy="148.5" r="1.35"/>
<circle cx="251.4" cy="136.7" r="1.35"/>
<circle cx="264.2" cy="151.4" r="1.35"/>
<circle cx="267.3" cy="147.1" r="1.35"/>
<circle cx="261.5" cy="152.3" r="1.35"/>
<circle cx="258.6" cy="148.2" r="1.35"/>
<circle cx="265.6" cy="148.1" r="1.35"/>
<circle cx="263.6" cy="151.4" r="1.35"/>
<circle cx="256.4" cy="146.9" r="1.35"/>
<circle cx="270.4" cy="142.3" r="1.35"/>
<circle cx="252.2" cy="140.9" r="1.35"/>
<circle cx="265.3" cy="149.4" r="1.35"/>
<circle cx="259.3" cy="149.6" r="1.35"/>
<circle cx="267.6" cy="146.8" r="1.35"/>
<circle cx="257.8" cy="143.9" r="1.35"/>
<circle cx="269.8" cy="142.7" r="1.35"/>
<circle cx="264.1" cy="151.6" r="1.35"/>
<circle cx="253.0" cy="135.4" r="1.35"/>
<circle cx="260.8" cy="150.8" r="1.35"/>
<circle cx="263.2" cy="152.6" r="1.35"/>
<circle cx="262.9" cy="152.7" r="1.35"/>
<circle cx="261.2" cy="151.2" r="1.35"/>
<circle cx="266.5" cy="149.7" r="1.35"/>
<circle cx="264.6" cy="151.5" r="1.35"/>
<circle cx="264.0" cy="151.4" r="1.35"/>
<circle cx="257.1" cy="145.6" r="1.35"/>
<circle cx="269.0" cy="139.5" r="1.35"/>
<circle cx="270.0" cy="145.6" r="1.35"/>
<circle cx="255.4" cy="139.4" r="1.35"/>
<circle cx="275.1" cy="135.1" r="1.35"/>
<circle cx="266.5" cy="149.2" r="1.35"/>
<circle cx="259.8" cy="147.9" r="1.35"/>
<circle cx="266.1" cy="148.5" r="1.35"/>
<circle cx="265.6" cy="147.0" r="1.35"/>
<circle cx="259.2" cy="150.4" r="1.35"/>
<circle cx="252.7" cy="142.0" r="1.35"/>
<circle cx="268.7" cy="145.3" r="1.35"/>
<circle cx="259.3" cy="148.5" r="1.35"/>
<circle cx="259.9" cy="149.3" r="1.35"/>
<circle cx="267.7" cy="142.5" r="1.35"/>
<circle cx="260.0" cy="149.5" r="1.35"/>
<circle cx="266.1" cy="149.6" r="1.35"/>
<circle cx="250.0" cy="135.8" r="1.35"/>
<circle cx="263.1" cy="152.7" r="1.35"/>
<circle cx="258.3" cy="149.5" r="1.35"/>
<circle cx="255.4" cy="145.2" r="1.35"/>
<circle cx="253.8" cy="137.6" r="1.35"/>
<circle cx="265.4" cy="149.4" r="1.35"/>
<circle cx="263.0" cy="152.6" r="1.35"/>
<circle cx="263.4" cy="152.5" r="1.35"/>
<circle cx="267.1" cy="147.2" r="1.35"/>
<circle cx="257.9" cy="148.8" r="1.35"/>
<circle cx="255.7" cy="143.0" r="1.35"/>
<circle cx="252.8" cy="141.3" r="1.35"/>
<circle cx="260.7" cy="151.5" r="1.35"/>
<circle cx="266.7" cy="148.2" r="1.35"/>
<circle cx="261.7" cy="152.5" r="1.35"/>
<circle cx="266.0" cy="149.7" r="1.35"/>
<circle cx="256.0" cy="135.8" r="1.35"/>
<circle cx="259.9" cy="150.9" r="1.35"/>
<circle cx="258.3" cy="144.8" r="1.35"/>
<circle cx="255.7" cy="143.4" r="1.35"/>
<circle cx="267.2" cy="148.3" r="1.35"/>
<circle cx="258.3" cy="146.0" r="1.35"/>
<circle cx="258.3" cy="148.7" r="1.35"/>
<circle cx="262.2" cy="153.0" r="1.35"/>
<circle cx="254.6" cy="138.1" r="1.35"/>
<circle cx="264.9" cy="150.7" r="1.35"/>
<circle cx="255.4" cy="141.3" r="1.35"/>
<circle cx="260.5" cy="151.4" r="1.35"/>
<circle cx="256.9" cy="147.6" r="1.35"/>
<circle cx="259.9" cy="150.2" r="1.35"/>
<circle cx="253.9" cy="143.5" r="1.35"/>
<circle cx="257.2" cy="146.6" r="1.35"/>
<circle cx="258.8" cy="146.7" r="1.35"/>
<circle cx="260.9" cy="151.8" r="1.35"/>
<circle cx="262.9" cy="152.8" r="1.35"/>
<circle cx="267.0" cy="146.4" r="1.35"/>
<circle cx="261.1" cy="151.9" r="1.35"/>
<circle cx="266.5" cy="147.3" r="1.35"/>
<circle cx="258.7" cy="146.2" r="1.35"/>
<circle cx="265.5" cy="149.3" r="1.35"/>
<circle cx="255.1" cy="144.0" r="1.35"/>
<circle cx="266.6" cy="147.1" r="1.35"/>
<circle cx="267.0" cy="146.9" r="1.35"/>
<circle cx="258.4" cy="148.6" r="1.35"/>
<circle cx="259.9" cy="151.1" r="1.35"/>
<circle cx="251.9" cy="139.3" r="1.35"/>
<circle cx="256.6" cy="147.5" r="1.35"/>
<circle cx="257.3" cy="146.2" r="1.35"/>
<circle cx="265.3" cy="150.6" r="1.35"/>
<circle cx="264.1" cy="152.0" r="1.35"/>
<circle cx="260.3" cy="150.7" r="1.35"/>
<circle cx="268.8" cy="145.9" r="1.35"/>
<circle cx="262.9" cy="152.7" r="1.35"/>
<circle cx="264.0" cy="150.8" r="1.35"/>
<circle cx="256.1" cy="144.0" r="1.35"/>
<circle cx="258.3" cy="145.3" r="1.35"/>
<circle cx="266.7" cy="144.0" r="1.35"/>
<circle cx="271.2" cy="141.7" r="1.35"/>
<circle cx="265.8" cy="146.5" r="1.35"/>
<circle cx="265.2" cy="150.9" r="1.35"/>
<circle cx="257.9" cy="147.5" r="1.35"/>
<circle cx="270.9" cy="137.7" r="1.35"/>
<circle cx="269.9" cy="135.3" r="1.35"/>
<circle cx="259.6" cy="149.4" r="1.35"/>
<circle cx="262.2" cy="152.9" r="1.35"/>
<circle cx="257.0" cy="147.7" r="1.35"/>
<circle cx="270.5" cy="140.4" r="1.35"/>
<circle cx="264.7" cy="149.0" r="1.35"/>
<circle cx="262.0" cy="152.8" r="1.35"/>
<circle cx="264.7" cy="151.5" r="1.35"/>
<circle cx="264.9" cy="151.3" r="1.35"/>
<circle cx="260.2" cy="150.1" r="1.35"/>
<circle cx="255.7" cy="143.0" r="1.35"/>
<circle cx="255.5" cy="144.5" r="1.35"/>
<circle cx="265.0" cy="150.1" r="1.35"/>
<circle cx="253.2" cy="141.9" r="1.35"/>
<circle cx="263.3" cy="152.0" r="1.35"/>
<circle cx="264.8" cy="151.4" r="1.35"/>
<circle cx="257.1" cy="139.3" r="1.35"/>
<circle cx="263.6" cy="152.3" r="1.35"/>
<circle cx="256.5" cy="144.2" r="1.35"/>
<circle cx="269.1" cy="138.9" r="1.35"/>
<circle cx="259.2" cy="148.5" r="1.35"/>
<circle cx="263.1" cy="152.8" r="1.35"/>
<circle cx="266.3" cy="146.7" r="1.35"/>
<circle cx="260.1" cy="151.1" r="1.35"/>
<circle cx="252.7" cy="141.3" r="1.35"/>
<circle cx="259.6" cy="149.1" r="1.35"/>
<circle cx="266.7" cy="148.3" r="1.35"/>
<circle cx="262.0" cy="152.8" r="1.35"/>
<circle cx="263.8" cy="152.2" r="1.35"/>
<circle cx="256.6" cy="140.9" r="1.35"/>
<circle cx="263.3" cy="152.3" r="1.35"/>
<circle cx="266.5" cy="148.9" r="1.35"/>
<circle cx="262.7" cy="152.9" r="1.35"/>
<circle cx="261.4" cy="152.2" r="1.35"/>
<circle cx="256.8" cy="146.2" r="1.35"/>
<circle cx="253.6" cy="139.3" r="1.35"/>
<circle cx="268.8" cy="146.6" r="1.35"/>
<circle cx="262.2" cy="152.8" r="1.35"/>
<circle cx="268.1" cy="147.8" r="1.35"/>
<circle cx="265.0" cy="149.8" r="1.35"/>
<circle cx="271.4" cy="143.1" r="1.35"/>
<circle cx="269.4" cy="144.8" r="1.35"/>
<circle cx="260.4" cy="151.3" r="1.35"/>
<circle cx="264.0" cy="151.8" r="1.35"/>
<circle cx="268.5" cy="146.6" r="1.35"/>
<circle cx="255.7" cy="140.6" r="1.35"/>
<circle cx="270.5" cy="143.1" r="1.35"/>
<circle cx="269.1" cy="137.1" r="1.35"/>
<circle cx="267.9" cy="146.8" r="1.35"/>
<circle cx="261.4" cy="152.4" r="1.35"/>
<circle cx="264.2" cy="151.9" r="1.35"/>
<circle cx="256.4" cy="141.3" r="1.35"/>
<circle cx="262.8" cy="153.0" r="1.35"/>
<circle cx="259.3" cy="149.7" r="1.35"/>
<circle cx="263.0" cy="152.7" r="1.35"/>
<circle cx="259.8" cy="149.7" r="1.35"/>
<circle cx="264.1" cy="151.5" r="1.35"/>
<circle cx="269.0" cy="143.2" r="1.35"/>
<circle cx="255.3" cy="145.8" r="1.35"/>
<circle cx="267.6" cy="147.8" r="1.35"/>
<circle cx="250.6" cy="135.9" r="1.35"/>
<circle cx="261.8" cy="152.6" r="1.35"/>
<circle cx="262.5" cy="153.2" r="1.35"/>
<circle cx="264.9" cy="149.8" r="1.35"/>
<circle cx="253.5" cy="141.2" r="1.35"/>
<circle cx="262.2" cy="152.9" r="1.35"/>
<circle cx="263.2" cy="152.3" r="1.35"/>
<circle cx="269.4" cy="136.3" r="1.35"/>
<circle cx="261.9" cy="152.8" r="1.35"/>
<circle cx="265.4" cy="147.3" r="1.35"/>
<circle cx="257.1" cy="143.5" r="1.35"/>
<circle cx="261.5" cy="152.1" r="1.35"/>
<circle cx="260.1" cy="149.8" r="1.35"/>
<circle cx="266.4" cy="148.6" r="1.35"/>
<circle cx="257.1" cy="142.3" r="1.35"/>
<circle cx="257.9" cy="148.5" r="1.35"/>
<circle cx="265.7" cy="149.7" r="1.35"/>
<circle cx="272.3" cy="138.3" r="1.35"/>
<circle cx="264.6" cy="151.6" r="1.35"/>
<circle cx="264.2" cy="150.7" r="1.35"/>
<circle cx="260.6" cy="151.1" r="1.35"/>
<circle cx="268.5" cy="140.3" r="1.35"/>
<circle cx="265.5" cy="149.0" r="1.35"/>
<circle cx="272.0" cy="136.7" r="1.35"/>
<circle cx="264.3" cy="151.6" r="1.35"/>
<circle cx="257.3" cy="143.0" r="1.35"/>
<circle cx="259.4" cy="150.3" r="1.35"/>
<circle cx="257.1" cy="147.2" r="1.35"/>
<circle cx="255.6" cy="142.6" r="1.35"/>
<circle cx="269.4" cy="145.8" r="1.35"/>
<circle cx="266.9" cy="147.0" r="1.35"/>
<circle cx="255.7" cy="146.5" r="1.35"/>
<circle cx="272.3" cy="142.1" r="1.35"/>
<circle cx="263.8" cy="151.7" r="1.35"/>
<circle cx="257.3" cy="148.3" r="1.35"/>
<circle cx="264.6" cy="151.3" r="1.35"/>
<circle cx="262.1" cy="152.8" r="1.35"/>
<circle cx="258.3" cy="148.3" r="1.35"/>
<circle cx="251.8" cy="138.7" r="1.35"/>
<circle cx="262.7" cy="153.1" r="1.35"/>
<circle cx="264.1" cy="151.9" r="1.35"/>
<circle cx="265.5" cy="149.3" r="1.35"/>
<circle cx="265.9" cy="145.8" r="1.35"/>
<circle cx="259.9" cy="148.9" r="1.35"/>
<circle cx="263.1" cy="152.5" r="1.35"/>
<circle cx="261.0" cy="150.8" r="1.35"/>
<circle cx="257.9" cy="147.5" r="1.35"/>
<circle cx="260.5" cy="150.0" r="1.35"/>
<circle cx="269.9" cy="138.7" r="1.35"/>
<circle cx="254.5" cy="137.1" r="1.35"/>
<circle cx="263.8" cy="152.2" r="1.35"/>
<circle cx="263.5" cy="152.1" r="1.35"/>
<circle cx="258.6" cy="145.7" r="1.35"/>
<circle cx="260.1" cy="151.0" r="1.35"/>
<circle cx="254.8" cy="145.1" r="1.35"/>
<circle cx="257.8" cy="148.1" r="1.35"/>
<circle cx="262.6" cy="153.1" r="1.35"/>
<circle cx="264.3" cy="151.7" r="1.35"/>
<circle cx="257.6" cy="144.1" r="1.35"/>
<circle cx="259.4" cy="150.3" r="1.35"/>
<circle cx="263.2" cy="152.6" r="1.35"/>
<circle cx="261.2" cy="151.2" r="1.35"/>
<circle cx="260.3" cy="150.5" r="1.35"/>
<circle cx="269.6" cy="135.6" r="1.35"/>
<circle cx="259.9" cy="150.8" r="1.35"/>
<circle cx="268.8" cy="143.6" r="1.35"/>
<circle cx="256.8" cy="146.8" r="1.35"/>
<circle cx="268.2" cy="147.3" r="1.35"/>
<circle cx="258.9" cy="148.5" r="1.35"/>
<circle cx="260.4" cy="151.4" r="1.35"/>
<circle cx="257.3" cy="144.5" r="1.35"/>
<circle cx="259.3" cy="148.6" r="1.35"/>
<circle cx="257.0" cy="148.0" r="1.35"/>
<circle cx="255.8" cy="145.1" r="1.35"/>
<circle cx="258.7" cy="149.3" r="1.35"/>
<circle cx="261.4" cy="152.1" r="1.35"/>
<circle cx="259.5" cy="150.7" r="1.35"/>
<circle cx="257.3" cy="141.8" r="1.35"/>
<circle cx="254.2" cy="141.7" r="1.35"/>
<circle cx="255.6" cy="141.1" r="1.35"/>
<circle cx="257.5" cy="147.8" r="1.35"/>
<circle cx="266.4" cy="145.9" r="1.35"/>
<circle cx="261.4" cy="151.6" r="1.35"/>
<circle cx="259.5" cy="149.9" r="1.35"/>
<circle cx="265.9" cy="148.0" r="1.35"/>
<circle cx="264.0" cy="151.9" r="1.35"/>
<circle cx="261.3" cy="152.3" r="1.35"/>
<circle cx="264.6" cy="149.8" r="1.35"/>
<circle cx="258.0" cy="145.4" r="1.35"/>
<circle cx="265.9" cy="147.3" r="1.35"/>
<circle cx="265.1" cy="150.0" r="1.35"/>
<circle cx="260.2" cy="149.9" r="1.35"/>
<circle cx="255.8" cy="144.3" r="1.35"/>
<circle cx="270.8" cy="137.5" r="1.35"/>
<circle cx="263.0" cy="152.7" r="1.35"/>
<circle cx="258.9" cy="149.9" r="1.35"/>
<circle cx="267.2" cy="144.3" r="1.35"/>
<circle cx="260.1" cy="149.8" r="1.35"/>
<circle cx="263.9" cy="151.8" r="1.35"/>
<circle cx="267.1" cy="147.1" r="1.35"/>
<circle cx="258.1" cy="143.1" r="1.35"/>
<circle cx="262.0" cy="152.7" r="1.35"/>
<circle cx="263.4" cy="152.5" r="1.35"/>
<circle cx="263.1" cy="152.6" r="1.35"/>
<circle cx="265.8" cy="147.3" r="1.35"/>
<circle cx="268.1" cy="146.7" r="1.35"/>
<circle cx="267.1" cy="143.1" r="1.35"/>
<circle cx="263.9" cy="150.8" r="1.35"/>
<circle cx="260.6" cy="151.3" r="1.35"/>
<circle cx="256.3" cy="143.6" r="1.35"/>
<circle cx="258.5" cy="149.7" r="1.35"/>
<circle cx="259.6" cy="148.9" r="1.35"/>
<circle cx="266.2" cy="146.7" r="1.35"/>
<circle cx="260.5" cy="150.6" r="1.35"/>
<circle cx="255.7" cy="145.9" r="1.35"/>
<circle cx="265.9" cy="149.7" r="1.35"/>
<circle cx="258.1" cy="142.6" r="1.35"/>
<circle cx="258.3" cy="145.0" r="1.35"/>
<circle cx="261.3" cy="152.3" r="1.35"/>
<circle cx="265.1" cy="150.4" r="1.35"/>
<circle cx="256.3" cy="137.9" r="1.35"/>
<circle cx="263.5" cy="151.9" r="1.35"/>
<circle cx="260.5" cy="149.5" r="1.35"/>
<circle cx="257.8" cy="148.6" r="1.35"/>
<circle cx="259.5" cy="150.7" r="1.35"/>
<circle cx="270.1" cy="141.7" r="1.35"/>
<circle cx="260.0" cy="151.0" r="1.35"/>
<circle cx="266.4" cy="145.8" r="1.35"/>
<circle cx="266.8" cy="146.1" r="1.35"/>
<circle cx="260.0" cy="150.7" r="1.35"/>
<circle cx="264.9" cy="150.8" r="1.35"/>
<circle cx="260.0" cy="150.6" r="1.35"/>
<circle cx="259.2" cy="146.8" r="1.35"/>
<circle cx="256.3" cy="147.1" r="1.35"/>
<circle cx="267.3" cy="144.8" r="1.35"/>
<circle cx="260.3" cy="151.1" r="1.35"/>
<circle cx="259.5" cy="150.5" r="1.35"/>
<circle cx="256.3" cy="139.1" r="1.35"/>
<circle cx="266.6" cy="148.6" r="1.35"/>
<circle cx="261.8" cy="152.7" r="1.35"/>
<circle cx="258.7" cy="149.3" r="1.35"/>
<circle cx="254.1" cy="138.3" r="1.35"/>
<circle cx="264.1" cy="151.7" r="1.35"/>
<circle cx="264.1" cy="151.5" r="1.35"/>
<circle cx="268.9" cy="140.2" r="1.35"/>
<circle cx="266.8" cy="148.4" r="1.35"/>
<circle cx="257.2" cy="147.1" r="1.35"/>
<circle cx="259.5" cy="149.4" r="1.35"/>
<circle cx="260.2" cy="149.9" r="1.35"/>
<circle cx="263.4" cy="151.8" r="1.35"/>
<circle cx="261.7" cy="152.5" r="1.35"/>
<circle cx="270.6" cy="142.7" r="1.35"/>
<circle cx="264.2" cy="151.8" r="1.35"/>
<circle cx="269.4" cy="145.5" r="1.35"/>
<circle cx="269.4" cy="143.8" r="1.35"/>
<circle cx="261.4" cy="151.4" r="1.35"/>
<circle cx="264.4" cy="151.5" r="1.35"/>
<circle cx="266.5" cy="149.7" r="1.35"/>
<circle cx="266.7" cy="146.6" r="1.35"/>
<circle cx="261.6" cy="152.5" r="1.35"/>
<circle cx="259.1" cy="149.3" r="1.35"/>
<circle cx="262.7" cy="153.0" r="1.35"/>
<circle cx="258.1" cy="148.6" r="1.35"/>
<circle cx="259.4" cy="148.8" r="1.35"/>
<circle cx="263.0" cy="152.5" r="1.35"/>
<circle cx="256.9" cy="140.6" r="1.35"/>
<circle cx="259.5" cy="148.8" r="1.35"/>
<circle cx="262.2" cy="153.0" r="1.35"/>
<circle cx="264.2" cy="151.2" r="1.35"/>
<circle cx="272.9" cy="140.0" r="1.35"/>
<circle cx="263.6" cy="152.2" r="1.35"/>
<circle cx="254.7" cy="144.8" r="1.35"/>
<circle cx="263.2" cy="152.6" r="1.35"/>
<circle cx="259.2" cy="149.1" r="1.35"/>
<circle cx="264.7" cy="149.5" r="1.35"/>
<circle cx="258.7" cy="148.5" r="1.35"/>
<circle cx="258.6" cy="148.4" r="1.35"/>
<circle cx="259.7" cy="148.3" r="1.35"/>
<circle cx="259.1" cy="147.1" r="1.35"/>
<circle cx="252.5" cy="141.8" r="1.35"/>
<circle cx="258.8" cy="149.8" r="1.35"/>
<circle cx="262.4" cy="153.1" r="1.35"/>
<circle cx="260.9" cy="151.1" r="1.35"/>
<circle cx="260.5" cy="151.1" r="1.35"/>
<circle cx="265.7" cy="150.6" r="1.35"/>
<circle cx="265.5" cy="147.2" r="1.35"/>
<circle cx="271.3" cy="141.4" r="1.35"/>
<circle cx="265.7" cy="150.5" r="1.35"/>
<circle cx="262.4" cy="153.1" r="1.35"/>
<circle cx="269.8" cy="142.9" r="1.35"/>
<circle cx="270.9" cy="142.8" r="1.35"/>
<circle cx="259.9" cy="150.6" r="1.35"/>
<circle cx="263.4" cy="151.8" r="1.35"/>
<circle cx="260.5" cy="151.6" r="1.35"/>
<circle cx="257.7" cy="142.8" r="1.35"/>
<circle cx="261.3" cy="151.5" r="1.35"/>
<circle cx="259.9" cy="150.5" r="1.35"/>
<circle cx="261.6" cy="152.5" r="1.35"/>
<circle cx="261.9" cy="152.6" r="1.35"/>
<circle cx="265.2" cy="150.4" r="1.35"/>
<circle cx="263.8" cy="152.3" r="1.35"/>
<circle cx="259.4" cy="150.4" r="1.35"/>
<circle cx="269.3" cy="144.7" r="1.35"/>
<circle cx="260.0" cy="151.2" r="1.35"/>
<circle cx="265.6" cy="150.2" r="1.35"/>
<circle cx="254.1" cy="143.8" r="1.35"/>
<circle cx="253.9" cy="138.9" r="1.35"/>
<circle cx="261.0" cy="150.8" r="1.35"/>
<circle cx="256.8" cy="139.5" r="1.35"/>
<circle cx="257.9" cy="148.4" r="1.35"/>
<circle cx="271.3" cy="142.9" r="1.35"/>
<circle cx="266.0" cy="149.9" r="1.35"/>
<circle cx="265.2" cy="149.1" r="1.35"/>
<circle cx="261.4" cy="152.0" r="1.35"/>
<circle cx="263.5" cy="152.1" r="1.35"/>
<circle cx="256.3" cy="136.5" r="1.35"/>
<circle cx="260.8" cy="150.7" r="1.35"/>
<circle cx="261.2" cy="151.2" r="1.35"/>
<circle cx="258.7" cy="149.1" r="1.35"/>
<circle cx="255.1" cy="141.6" r="1.35"/>
<circle cx="271.2" cy="143.9" r="1.35"/>
<circle cx="263.7" cy="152.1" r="1.35"/>
<circle cx="258.6" cy="145.7" r="1.35"/>
<circle cx="264.7" cy="151.1" r="1.35"/>
<circle cx="264.7" cy="151.3" r="1.35"/>
<circle cx="262.0" cy="152.7" r="1.35"/>
<circle cx="263.9" cy="152.1" r="1.35"/>
<circle cx="264.7" cy="151.4" r="1.35"/>
<circle cx="264.7" cy="149.6" r="1.35"/>
<circle cx="252.5" cy="135.2" r="1.35"/>
<circle cx="272.6" cy="140.6" r="1.35"/>
<circle cx="263.7" cy="152.1" r="1.35"/>
<circle cx="261.6" cy="152.1" r="1.35"/>
<circle cx="255.7" cy="141.1" r="1.35"/>
<circle cx="267.2" cy="149.0" r="1.35"/>
<circle cx="261.5" cy="152.4" r="1.35"/>
<circle cx="260.0" cy="151.3" r="1.35"/>
<circle cx="256.8" cy="147.1" r="1.35"/>
<circle cx="271.8" cy="142.9" r="1.35"/>
<circle cx="260.1" cy="150.3" r="1.35"/>
<circle cx="254.8" cy="145.1" r="1.35"/>
<circle cx="260.0" cy="150.5" r="1.35"/>
<circle cx="256.2" cy="146.3" r="1.35"/>
<circle cx="263.4" cy="152.1" r="1.35"/>
<circle cx="260.2" cy="151.3" r="1.35"/>
<circle cx="256.7" cy="144.1" r="1.35"/>
<circle cx="265.8" cy="150.4" r="1.35"/>
<circle cx="259.0" cy="148.0" r="1.35"/>
<circle cx="266.5" cy="147.7" r="1.35"/>
<circle cx="269.4" cy="142.9" r="1.35"/>
<circle cx="260.5" cy="151.6" r="1.35"/>
<circle cx="259.0" cy="149.7" r="1.35"/>
<circle cx="263.6" cy="151.8" r="1.35"/>
<circle cx="267.4" cy="146.7" r="1.35"/>
<circle cx="262.5" cy="153.2" r="1.35"/>
<circle cx="263.3" cy="152.6" r="1.35"/>
<circle cx="262.4" cy="153.1" r="1.35"/>
<circle cx="264.2" cy="151.1" r="1.35"/>
<circle cx="265.9" cy="150.2" r="1.35"/>
<circle cx="258.6" cy="147.8" r="1.35"/>
<circle cx="259.9" cy="150.7" r="1.35"/>
<circle cx="262.7" cy="153.0" r="1.35"/>
<circle cx="258.8" cy="149.4" r="1.35"/>
<circle cx="263.2" cy="152.1" r="1.35"/>
<circle cx="265.4" cy="148.6" r="1.35"/>
<circle cx="262.4" cy="153.1" r="1.35"/>
<circle cx="259.2" cy="149.7" r="1.35"/>
<circle cx="258.2" cy="149.1" r="1.35"/>
<circle cx="272.1" cy="139.6" r="1.35"/>
<circle cx="267.3" cy="147.8" r="1.35"/>
<circle cx="256.4" cy="146.9" r="1.35"/>
<circle cx="257.9" cy="149.0" r="1.35"/>
<circle cx="270.8" cy="143.4" r="1.35"/>
<circle cx="263.2" cy="152.7" r="1.35"/>
<circle cx="268.9" cy="138.2" r="1.35"/>
<circle cx="254.3" cy="139.1" r="1.35"/>
<circle cx="262.5" cy="153.2" r="1.35"/>
<circle cx="266.6" cy="148.4" r="1.35"/>
<circle cx="252.3" cy="140.4" r="1.35"/>
<circle cx="258.2" cy="143.0" r="1.35"/>
<circle cx="266.8" cy="143.9" r="1.35"/>
<circle cx="268.7" cy="146.3" r="1.35"/>
<circle cx="259.2" cy="148.3" r="1.35"/>
<circle cx="264.1" cy="151.5" r="1.35"/>
<circle cx="260.4" cy="151.6" r="1.35"/>
<circle cx="255.2" cy="141.8" r="1.35"/>
<circle cx="262.2" cy="152.7" r="1.35"/>
<circle cx="260.3" cy="151.4" r="1.35"/>
<circle cx="269.6" cy="143.3" r="1.35"/>
<circle cx="263.4" cy="152.1" r="1.35"/>
<circle cx="258.1" cy="144.0" r="1.35"/>
<circle cx="259.8" cy="150.8" r="1.35"/>
<circle cx="265.1" cy="148.8" r="1.35"/>
<circle cx="266.2" cy="147.0" r="1.35"/>
<circle cx="266.8" cy="148.0" r="1.35"/>
<circle cx="263.4" cy="151.7" r="1.35"/>
<circle cx="265.7" cy="150.0" r="1.35"/>
<circle cx="262.1" cy="152.9" r="1.35"/>
<circle cx="254.7" cy="142.6" r="1.35"/>
<circle cx="261.3" cy="151.8" r="1.35"/>
<circle cx="261.4" cy="151.9" r="1.35"/>
<circle cx="261.5" cy="152.4" r="1.35"/>
<circle cx="263.2" cy="152.7" r="1.35"/>
<circle cx="259.1" cy="149.4" r="1.35"/>
<circle cx="269.8" cy="145.5" r="1.35"/>
<circle cx="250.4" cy="135.1" r="1.35"/>
<circle cx="262.6" cy="153.1" r="1.35"/>
<circle cx="258.6" cy="147.1" r="1.35"/>
<circle cx="264.8" cy="151.4" r="1.35"/>
<circle cx="259.1" cy="147.2" r="1.35"/>
<circle cx="260.4" cy="150.3" r="1.35"/>
<circle cx="258.9" cy="148.1" r="1.35"/>
<circle cx="268.5" cy="144.1" r="1.35"/>
<circle cx="269.3" cy="145.6" r="1.35"/>
<circle cx="264.0" cy="150.7" r="1.35"/>
<circle cx="266.3" cy="145.4" r="1.35"/>
<circle cx="261.9" cy="152.4" r="1.35"/>
<circle cx="263.3" cy="152.6" r="1.35"/>
<circle cx="258.4" cy="149.3" r="1.35"/>
<circle cx="262.7" cy="153.1" r="1.35"/>
<circle cx="258.6" cy="148.4" r="1.35"/>
<circle cx="264.5" cy="149.3" r="1.35"/>
<circle cx="267.0" cy="147.9" r="1.35"/>
<circle cx="264.2" cy="151.0" r="1.35"/>
<circle cx="269.0" cy="138.0" r="1.35"/>
<circle cx="250.9" cy="135.6" r="1.35"/>
<circle cx="262.6" cy="153.1" r="1.35"/>
<circle cx="259.4" cy="150.2" r="1.35"/>
<circle cx="260.0" cy="150.6" r="1.35"/>
<circle cx="255.0" cy="142.6" r="1.35"/>
<circle cx="262.8" cy="152.9" r="1.35"/>
<circle cx="261.1" cy="152.0" r="1.35"/>
<circle cx="259.0" cy="149.6" r="1.35"/>
<circle cx="261.1" cy="151.9" r="1.35"/>
<circle cx="259.2" cy="148.7" r="1.35"/>
<circle cx="268.4" cy="146.7" r="1.35"/>
<circle cx="260.8" cy="151.6" r="1.35"/>
<circle cx="257.3" cy="147.6" r="1.35"/>
<circle cx="264.2" cy="151.1" r="1.35"/>
<circle cx="258.9" cy="145.2" r="1.35"/>
<circle cx="250.6" cy="135.7" r="1.35"/>
<circle cx="267.4" cy="143.7" r="1.35"/>
<circle cx="253.3" cy="141.0" r="1.35"/>
<circle cx="261.3" cy="151.3" r="1.35"/>
<circle cx="263.2" cy="152.2" r="1.35"/>
<circle cx="269.0" cy="138.2" r="1.35"/>
<circle cx="263.4" cy="152.5" r="1.35"/>
<circle cx="258.3" cy="143.6" r="1.35"/>
</g>
<circle cx="250.1" cy="121.8" r="1.35" fill="#B22222" stroke="#B22222"/>
<circle cx="250.9" cy="128.7" r="1.35" fill="#B22222" stroke="#B22222"/>
</g>
<rect x="191.5" y="25.5" width="142" height="134" fill="none" stroke="#787878" stroke-width="1"/>
<line x1="197.95" y1="159.5" x2="197.95" y2="161.7" stroke="#787878" stroke-width="0.6"/>
<text x="197.95" y="167.6" font-size="6.6" fill="#444" stroke="#444" text-anchor="middle">-2</text>
<line x1="230.23" y1="159.5" x2="230.23" y2="161.7" stroke="#787878" stroke-width="0.6"/>
<text x="230.23" y="167.6" font-size="6.6" fill="#444" stroke="#444" text-anchor="middle">-1</text>
<line x1="262.5" y1="159.5" x2="262.5" y2="161.7" stroke="#787878" stroke-width="0.6"/>
<text x="262.5" y="167.6" font-size="6.6" fill="#444" stroke="#444" text-anchor="middle">0</text>
<line x1="294.77" y1="159.5" x2="294.77" y2="161.7" stroke="#787878" stroke-width="0.6"/>
<text x="294.77" y="167.6" font-size="6.6" fill="#444" stroke="#444" text-anchor="middle">1</text>
<line x1="327.05" y1="159.5" x2="327.05" y2="161.7" stroke="#787878" stroke-width="0.6"/>
<text x="327.05" y="167.6" font-size="6.6" fill="#444" stroke="#444" text-anchor="middle">2</text>
<line x1="189.3" y1="153.2" x2="191.5" y2="153.2" stroke="#787878" stroke-width="0.6"/>
<text x="188.7" y="155.6" font-size="6.6" fill="#444" stroke="#444" text-anchor="end">0.0</text>
<line x1="189.3" y1="118.2" x2="191.5" y2="118.2" stroke="#787878" stroke-width="0.6"/>
<text x="188.7" y="120.6" font-size="6.6" fill="#444" stroke="#444" text-anchor="end">2.5</text>
<line x1="189.3" y1="83.2" x2="191.5" y2="83.2" stroke="#787878" stroke-width="0.6"/>
<text x="188.7" y="85.6" font-size="6.6" fill="#444" stroke="#444" text-anchor="end">5.0</text>
<line x1="189.3" y1="48.2" x2="191.5" y2="48.2" stroke="#787878" stroke-width="0.6"/>
<text x="188.7" y="50.6" font-size="6.6" fill="#444" stroke="#444" text-anchor="end">7.5</text>
<text y="176.4" font-size="8" fill="#1a1a1a" stroke="#1a1a1a"><tspan x="237">Log</tspan><tspan x="250.5" dy="1.4" font-size="5.4">2</tspan><tspan x="255.6" dy="-1.4">FoldChange</tspan></text>
<text transform="translate(176.7,104.9) rotate(-90)" font-size="7.85" fill="#1a1a1a" stroke="#1a1a1a"><tspan x="0">−</tspan><tspan x="7.2">Log</tspan><tspan x="20.6" dy="1.5" font-size="5.3">10</tspan><tspan x="29.2" dy="-1.5" font-style="italic">P</tspan></text>
<line x1="236" y1="88" x2="236" y2="90.7" stroke="#AA2020" stroke-width="0.6"/>
<circle cx="236" cy="90.7" r="1.25" fill="none" stroke="#AA2020" stroke-width="0.6"/>
<rect x="193.1" y="79.4" width="72.5" height="8.6" rx="1.2" fill="#fff" stroke="#AA2020" stroke-width="0.7"/>
<text x="229.35" y="85.9" font-size="6.4" fill="#AA2020" stroke="#AA2020" text-anchor="middle">CAG-245 sp000434195</text>
<line x1="295.2" y1="74.9" x2="286.5" y2="86.2" stroke="#4682B4" stroke-width="0.6"/>
<circle cx="286.5" cy="86.2" r="1.25" fill="none" stroke="#4682B4" stroke-width="0.6"/>
<rect x="272.8" y="66.5" width="53.7" height="8.4" rx="1.2" fill="#fff" stroke="#4682B4" stroke-width="0.7"/>
<text x="299.65" y="72.9" font-size="6.4" fill="#4682B4" stroke="#4682B4" text-anchor="middle">UMGS882 sp.</text>
<line x1="284.4" y1="102.5" x2="284.4" y2="99.9" stroke="#4682B4" stroke-width="0.6"/>
<circle cx="284.4" cy="99.9" r="1.25" fill="none" stroke="#4682B4" stroke-width="0.6"/>
<rect x="268.3" y="102.5" width="52.1" height="8.6" rx="1.2" fill="#fff" stroke="#4682B4" stroke-width="0.7"/>
<text x="294.35" y="109" font-size="6.4" fill="#4682B4" stroke="#4682B4" text-anchor="middle">UBA1436 sp.</text>
<line x1="280" y1="126.4" x2="280" y2="129.5" stroke="#4682B4" stroke-width="0.6"/>
<circle cx="280" cy="129.5" r="1.25" fill="none" stroke="#4682B4" stroke-width="0.6"/>
<rect x="255" y="117.8" width="70.3" height="8.6" rx="1.2" fill="#fff" stroke="#4682B4" stroke-width="0.7"/>
<text x="290.15" y="124.3" font-size="6.4" fill="#4682B4" stroke="#4682B4" text-anchor="middle">Lachnospiraceae sp.</text>
</g>
<g>
<clipPath id="c3"><rect x="361.5" y="25.5" width="147" height="134"/></clipPath>
<text x="360.5" y="20.7" font-size="7.8" fill="#000" stroke="#000" text-anchor="start">Mother - Pn12  -  Interv. vs. Contr.</text>
<line x1="418.3" y1="25.5" x2="418.3" y2="159.5" stroke="#333" stroke-width="0.95" stroke-dasharray="1 2.33" fill="none"/>
<line x1="451.7" y1="25.5" x2="451.7" y2="159.5" stroke="#333" stroke-width="0.95" stroke-dasharray="1 2.33" fill="none"/>
<line x1="361.5" y1="128.94" x2="508.5" y2="128.94" stroke="#333" stroke-width="0.95" stroke-dasharray="1 2.33" fill="none"/>
<g clip-path="url(#c3)" fill="none" stroke-width="0.5">
<g stroke="#8E8E8E">
<circle cx="423.8" cy="108.8" r="1.35"/>
<circle cx="423.6" cy="102.6" r="1.35"/>
<circle cx="443.1" cy="124.1" r="1.35"/>
<circle cx="422.4" cy="116.3" r="1.35"/>
<circle cx="446.0" cy="110.8" r="1.35"/>
<circle cx="423.4" cy="123.3" r="1.35"/>
<circle cx="426.5" cy="124.6" r="1.35"/>
<circle cx="427.3" cy="127.7" r="1.35"/>
<circle cx="446.3" cy="116.3" r="1.35"/>
<circle cx="442.9" cy="128.0" r="1.35"/>
<circle cx="448.6" cy="112.4" r="1.35"/>
<circle cx="384.2" cy="32.0" r="1.35"/>
<circle cx="393.2" cy="46.0" r="1.35"/>
<circle cx="401.6" cy="46.9" r="1.35"/>
<circle cx="399.9" cy="48.8" r="1.35"/>
<circle cx="398.2" cy="53.4" r="1.35"/>
<circle cx="401.6" cy="54.4" r="1.35"/>
<circle cx="404.9" cy="46.0" r="1.35"/>
<circle cx="480.1" cy="32.0" r="1.35"/>
<circle cx="462.4" cy="46.9" r="1.35"/>
<circle cx="468.4" cy="59.9" r="1.35"/>
<circle cx="462.7" cy="68.3" r="1.35"/>
<circle cx="461.1" cy="72.1" r="1.35"/>
<circle cx="409.9" cy="63.7" r="1.35"/>
<circle cx="411.6" cy="69.3" r="1.35"/>
<circle cx="458.4" cy="115.0" r="1.35"/>
<circle cx="453.4" cy="99.1" r="1.35"/>
<circle cx="455.0" cy="104.7" r="1.35"/>
<circle cx="422.4" cy="127.6" r="1.35"/>
<circle cx="421.4" cy="102.8" r="1.35"/>
<circle cx="420.7" cy="105.7" r="1.35"/>
<circle cx="419.8" cy="113.3" r="1.35"/>
<circle cx="422.5" cy="115.5" r="1.35"/>
<circle cx="421.3" cy="104.6" r="1.35"/>
<circle cx="418.3" cy="115.6" r="1.35"/>
<circle cx="422.0" cy="123.3" r="1.35"/>
<circle cx="422.0" cy="93.4" r="1.35"/>
<circle cx="424.9" cy="117.5" r="1.35"/>
<circle cx="420.0" cy="127.8" r="1.35"/>
<circle cx="422.4" cy="128.0" r="1.35"/>
<circle cx="422.9" cy="122.6" r="1.35"/>
<circle cx="423.5" cy="127.5" r="1.35"/>
<circle cx="420.7" cy="120.7" r="1.35"/>
<circle cx="422.3" cy="113.5" r="1.35"/>
<circle cx="421.5" cy="127.4" r="1.35"/>
<circle cx="421.0" cy="106.3" r="1.35"/>
<circle cx="420.3" cy="107.2" r="1.35"/>
<circle cx="422.1" cy="115.3" r="1.35"/>
<circle cx="421.6" cy="128.3" r="1.35"/>
<circle cx="420.1" cy="78.3" r="1.35"/>
<circle cx="421.9" cy="123.1" r="1.35"/>
<circle cx="421.8" cy="90.5" r="1.35"/>
<circle cx="423.9" cy="105.7" r="1.35"/>
<circle cx="421.7" cy="119.2" r="1.35"/>
<circle cx="420.7" cy="122.5" r="1.35"/>
<circle cx="421.1" cy="113.1" r="1.35"/>
<circle cx="418.7" cy="78.5" r="1.35"/>
<circle cx="419.2" cy="121.9" r="1.35"/>
<circle cx="422.1" cy="124.6" r="1.35"/>
<circle cx="421.3" cy="126.1" r="1.35"/>
<circle cx="421.1" cy="79.1" r="1.35"/>
<circle cx="419.4" cy="77.9" r="1.35"/>
<circle cx="422.5" cy="104.4" r="1.35"/>
<circle cx="422.6" cy="109.9" r="1.35"/>
<circle cx="420.9" cy="118.6" r="1.35"/>
<circle cx="418.7" cy="72.6" r="1.35"/>
<circle cx="421.2" cy="125.3" r="1.35"/>
<circle cx="420.0" cy="100.9" r="1.35"/>
<circle cx="423.4" cy="124.3" r="1.35"/>
<circle cx="420.0" cy="101.9" r="1.35"/>
<circle cx="421.5" cy="127.2" r="1.35"/>
<circle cx="420.9" cy="128.1" r="1.35"/>
<circle cx="423.5" cy="107.8" r="1.35"/>
<circle cx="421.6" cy="126.3" r="1.35"/>
<circle cx="419.5" cy="81.4" r="1.35"/>
<circle cx="419.7" cy="107.2" r="1.35"/>
<circle cx="422.4" cy="123.4" r="1.35"/>
<circle cx="420.8" cy="125.1" r="1.35"/>
<circle cx="420.8" cy="122.9" r="1.35"/>
<circle cx="418.6" cy="123.4" r="1.35"/>
<circle cx="418.7" cy="114.3" r="1.35"/>
<circle cx="419.4" cy="70.0" r="1.35"/>
<circle cx="422.3" cy="106.6" r="1.35"/>
<circle cx="419.1" cy="122.4" r="1.35"/>
<circle cx="421.8" cy="115.0" r="1.35"/>
<circle cx="421.2" cy="103.2" r="1.35"/>
<circle cx="425.6" cy="96.2" r="1.35"/>
<circle cx="418.9" cy="97.4" r="1.35"/>
<circle cx="420.5" cy="116.3" r="1.35"/>
<circle cx="420.3" cy="125.9" r="1.35"/>
<circle cx="422.6" cy="110.4" r="1.35"/>
<circle cx="424.0" cy="128.5" r="1.35"/>
<circle cx="421.1" cy="114.8" r="1.35"/>
<circle cx="446.9" cy="113.1" r="1.35"/>
<circle cx="445.0" cy="114.7" r="1.35"/>
<circle cx="446.3" cy="106.6" r="1.35"/>
<circle cx="444.4" cy="112.5" r="1.35"/>
<circle cx="446.9" cy="118.9" r="1.35"/>
<circle cx="445.1" cy="114.5" r="1.35"/>
<circle cx="447.4" cy="120.2" r="1.35"/>
<circle cx="445.0" cy="118.9" r="1.35"/>
<circle cx="449.8" cy="106.8" r="1.35"/>
<circle cx="447.7" cy="127.9" r="1.35"/>
<circle cx="449.5" cy="111.1" r="1.35"/>
<circle cx="447.6" cy="122.3" r="1.35"/>
<circle cx="444.8" cy="126.6" r="1.35"/>
<circle cx="444.5" cy="128.4" r="1.35"/>
<circle cx="445.3" cy="114.5" r="1.35"/>
<circle cx="445.8" cy="126.6" r="1.35"/>
<circle cx="448.5" cy="123.0" r="1.35"/>
<circle cx="444.1" cy="120.8" r="1.35"/>
<circle cx="450.4" cy="116.7" r="1.35"/>
<circle cx="444.3" cy="127.1" r="1.35"/>
<circle cx="443.2" cy="127.3" r="1.35"/>
<circle cx="449.0" cy="96.7" r="1.35"/>
<circle cx="447.3" cy="124.4" r="1.35"/>
<circle cx="446.7" cy="108.1" r="1.35"/>
<circle cx="445.3" cy="110.5" r="1.35"/>
<circle cx="448.3" cy="125.2" r="1.35"/>
<circle cx="446.3" cy="99.6" r="1.35"/>
<circle cx="447.4" cy="121.9" r="1.35"/>
<circle cx="446.7" cy="115.6" r="1.35"/>
<circle cx="444.9" cy="124.3" r="1.35"/>
<circle cx="445.8" cy="122.2" r="1.35"/>
<circle cx="443.6" cy="125.5" r="1.35"/>
<circle cx="445.0" cy="111.5" r="1.35"/>
<circle cx="447.1" cy="114.4" r="1.35"/>
<circle cx="444.3" cy="119.3" r="1.35"/>
<circle cx="445.6" cy="111.5" r="1.35"/>
<circle cx="447.7" cy="126.0" r="1.35"/>
<circle cx="450.5" cy="105.8" r="1.35"/>
<circle cx="447.0" cy="128.0" r="1.35"/>
<circle cx="447.6" cy="118.4" r="1.35"/>
<circle cx="446.0" cy="115.9" r="1.35"/>
<circle cx="445.3" cy="127.8" r="1.35"/>
<circle cx="444.9" cy="118.9" r="1.35"/>
</g>
<g stroke="#8B1A1A">
</g>
<g stroke="#4682B4">
</g>
<g stroke="#000">
<circle cx="443.7" cy="142.9" r="1.35"/>
<circle cx="421.3" cy="136.2" r="1.35"/>
<circle cx="436.8" cy="151.2" r="1.35"/>
<circle cx="432.0" cy="148.2" r="1.35"/>
<circle cx="432.6" cy="149.6" r="1.35"/>
<circle cx="433.8" cy="151.7" r="1.35"/>
<circle cx="433.8" cy="151.8" r="1.35"/>
<circle cx="430.4" cy="148.4" r="1.35"/>
<circle cx="436.0" cy="152.5" r="1.35"/>
<circle cx="433.1" cy="151.8" r="1.35"/>
<circle cx="433.5" cy="152.0" r="1.35"/>
<circle cx="431.4" cy="150.1" r="1.35"/>
<circle cx="429.4" cy="144.0" r="1.35"/>
<circle cx="432.9" cy="151.4" r="1.35"/>
<circle cx="437.1" cy="149.2" r="1.35"/>
<circle cx="433.7" cy="150.7" r="1.35"/>
<circle cx="439.1" cy="143.9" r="1.35"/>
<circle cx="433.9" cy="151.9" r="1.35"/>
<circle cx="435.1" cy="153.1" r="1.35"/>
<circle cx="441.6" cy="133.5" r="1.35"/>
<circle cx="437.3" cy="150.3" r="1.35"/>
<circle cx="432.3" cy="150.5" r="1.35"/>
<circle cx="434.0" cy="152.5" r="1.35"/>
<circle cx="437.3" cy="150.9" r="1.35"/>
<circle cx="443.3" cy="135.6" r="1.35"/>
<circle cx="433.6" cy="150.7" r="1.35"/>
<circle cx="433.7" cy="151.9" r="1.35"/>
<circle cx="439.3" cy="149.4" r="1.35"/>
<circle cx="430.3" cy="149.0" r="1.35"/>
<circle cx="433.4" cy="151.8" r="1.35"/>
<circle cx="438.8" cy="146.4" r="1.35"/>
<circle cx="437.5" cy="148.4" r="1.35"/>
<circle cx="435.4" cy="152.5" r="1.35"/>
<circle cx="437.9" cy="149.0" r="1.35"/>
<circle cx="439.4" cy="144.6" r="1.35"/>
<circle cx="429.9" cy="147.6" r="1.35"/>
<circle cx="426.1" cy="135.7" r="1.35"/>
<circle cx="436.2" cy="152.3" r="1.35"/>
<circle cx="438.0" cy="150.0" r="1.35"/>
<circle cx="432.6" cy="151.2" r="1.35"/>
<circle cx="429.2" cy="142.8" r="1.35"/>
<circle cx="435.1" cy="153.1" r="1.35"/>
<circle cx="434.7" cy="153.0" r="1.35"/>
<circle cx="441.0" cy="135.5" r="1.35"/>
<circle cx="438.2" cy="150.8" r="1.35"/>
<circle cx="435.8" cy="152.4" r="1.35"/>
<circle cx="439.8" cy="149.5" r="1.35"/>
<circle cx="433.9" cy="151.8" r="1.35"/>
<circle cx="430.1" cy="147.0" r="1.35"/>
<circle cx="437.5" cy="150.9" r="1.35"/>
<circle cx="437.5" cy="150.7" r="1.35"/>
<circle cx="433.9" cy="152.2" r="1.35"/>
<circle cx="430.8" cy="149.7" r="1.35"/>
<circle cx="436.0" cy="151.7" r="1.35"/>
<circle cx="421.7" cy="135.0" r="1.35"/>
<circle cx="438.0" cy="149.7" r="1.35"/>
<circle cx="437.1" cy="151.6" r="1.35"/>
<circle cx="426.2" cy="145.1" r="1.35"/>
<circle cx="435.3" cy="152.9" r="1.35"/>
<circle cx="429.8" cy="145.5" r="1.35"/>
<circle cx="438.2" cy="150.7" r="1.35"/>
<circle cx="424.1" cy="142.3" r="1.35"/>
<circle cx="430.1" cy="148.6" r="1.35"/>
<circle cx="438.0" cy="150.8" r="1.35"/>
<circle cx="439.9" cy="149.2" r="1.35"/>
<circle cx="423.5" cy="133.5" r="1.35"/>
<circle cx="432.3" cy="149.8" r="1.35"/>
<circle cx="436.4" cy="150.6" r="1.35"/>
<circle cx="431.7" cy="149.3" r="1.35"/>
<circle cx="441.8" cy="139.2" r="1.35"/>
<circle cx="428.6" cy="146.6" r="1.35"/>
<circle cx="436.5" cy="151.8" r="1.35"/>
<circle cx="429.4" cy="148.5" r="1.35"/>
<circle cx="441.0" cy="146.8" r="1.35"/>
<circle cx="434.9" cy="153.1" r="1.35"/>
<circle cx="433.0" cy="150.8" r="1.35"/>
<circle cx="425.8" cy="139.3" r="1.35"/>
<circle cx="442.2" cy="143.7" r="1.35"/>
<circle cx="438.2" cy="150.7" r="1.35"/>
<circle cx="438.2" cy="150.0" r="1.35"/>
<circle cx="439.9" cy="145.7" r="1.35"/>
<circle cx="436.5" cy="151.2" r="1.35"/>
<circle cx="431.6" cy="149.6" r="1.35"/>
<circle cx="430.7" cy="143.7" r="1.35"/>
<circle cx="430.7" cy="147.8" r="1.35"/>
<circle cx="440.9" cy="148.1" r="1.35"/>
<circle cx="427.2" cy="146.0" r="1.35"/>
<circle cx="431.8" cy="149.8" r="1.35"/>
<circle cx="433.3" cy="151.5" r="1.35"/>
<circle cx="436.0" cy="152.1" r="1.35"/>
<circle cx="437.5" cy="150.8" r="1.35"/>
<circle cx="428.3" cy="143.7" r="1.35"/>
<circle cx="425.8" cy="141.5" r="1.35"/>
<circle cx="435.0" cy="153.2" r="1.35"/>
<circle cx="440.2" cy="148.2" r="1.35"/>
<circle cx="438.2" cy="147.2" r="1.35"/>
<circle cx="435.9" cy="151.9" r="1.35"/>
<circle cx="433.3" cy="151.7" r="1.35"/>
<circle cx="436.3" cy="152.3" r="1.35"/>
<circle cx="433.7" cy="152.0" r="1.35"/>
<circle cx="438.5" cy="150.3" r="1.35"/>
<circle cx="430.8" cy="146.5" r="1.35"/>
<circle cx="435.6" cy="152.5" r="1.35"/>
<circle cx="434.4" cy="152.8" r="1.35"/>
<circle cx="437.3" cy="151.4" r="1.35"/>
<circle cx="436.0" cy="152.2" r="1.35"/>
<circle cx="445.9" cy="140.9" r="1.35"/>
<circle cx="441.4" cy="145.9" r="1.35"/>
<circle cx="441.4" cy="146.9" r="1.35"/>
<circle cx="424.1" cy="137.3" r="1.35"/>
<circle cx="433.2" cy="151.6" r="1.35"/>
<circle cx="431.7" cy="150.7" r="1.35"/>
<circle cx="437.3" cy="150.6" r="1.35"/>
<circle cx="422.8" cy="137.5" r="1.35"/>
<circle cx="440.0" cy="149.2" r="1.35"/>
<circle cx="439.6" cy="141.8" r="1.35"/>
<circle cx="428.0" cy="139.6" r="1.35"/>
<circle cx="429.8" cy="145.3" r="1.35"/>
<circle cx="430.7" cy="148.5" r="1.35"/>
<circle cx="435.2" cy="153.0" r="1.35"/>
<circle cx="437.7" cy="151.2" r="1.35"/>
<circle cx="443.8" cy="132.0" r="1.35"/>
<circle cx="433.9" cy="151.9" r="1.35"/>
<circle cx="438.3" cy="146.4" r="1.35"/>
<circle cx="435.7" cy="152.3" r="1.35"/>
<circle cx="442.5" cy="143.8" r="1.35"/>
<circle cx="438.2" cy="146.3" r="1.35"/>
<circle cx="440.9" cy="148.3" r="1.35"/>
<circle cx="429.2" cy="147.5" r="1.35"/>
<circle cx="434.0" cy="151.5" r="1.35"/>
<circle cx="430.7" cy="149.3" r="1.35"/>
<circle cx="441.4" cy="137.7" r="1.35"/>
<circle cx="437.8" cy="150.1" r="1.35"/>
<circle cx="433.4" cy="150.8" r="1.35"/>
<circle cx="432.6" cy="149.2" r="1.35"/>
<circle cx="437.1" cy="151.1" r="1.35"/>
<circle cx="431.3" cy="150.2" r="1.35"/>
<circle cx="430.0" cy="141.5" r="1.35"/>
<circle cx="437.1" cy="150.1" r="1.35"/>
<circle cx="445.5" cy="136.0" r="1.35"/>
<circle cx="433.7" cy="152.3" r="1.35"/>
<circle cx="432.0" cy="149.3" r="1.35"/>
<circle cx="428.7" cy="147.5" r="1.35"/>
<circle cx="427.9" cy="143.9" r="1.35"/>
<circle cx="437.2" cy="150.7" r="1.35"/>
<circle cx="438.6" cy="149.9" r="1.35"/>
<circle cx="435.0" cy="153.1" r="1.35"/>
<circle cx="436.4" cy="151.8" r="1.35"/>
<circle cx="435.5" cy="152.3" r="1.35"/>
<circle cx="435.6" cy="152.6" r="1.35"/>
<circle cx="426.8" cy="146.1" r="1.35"/>
<circle cx="432.6" cy="148.4" r="1.35"/>
<circle cx="435.5" cy="152.5" r="1.35"/>
<circle cx="430.8" cy="148.6" r="1.35"/>
<circle cx="432.5" cy="151.3" r="1.35"/>
<circle cx="430.6" cy="148.3" r="1.35"/>
<circle cx="433.2" cy="151.9" r="1.35"/>
<circle cx="438.6" cy="147.9" r="1.35"/>
<circle cx="432.8" cy="151.7" r="1.35"/>
<circle cx="434.2" cy="152.1" r="1.35"/>
<circle cx="438.5" cy="150.1" r="1.35"/>
<circle cx="437.8" cy="149.5" r="1.35"/>
<circle cx="442.2" cy="146.2" r="1.35"/>
<circle cx="438.7" cy="147.9" r="1.35"/>
<circle cx="432.4" cy="151.3" r="1.35"/>
<circle cx="435.6" cy="152.8" r="1.35"/>
<circle cx="438.6" cy="149.0" r="1.35"/>
<circle cx="439.6" cy="146.7" r="1.35"/>
<circle cx="439.4" cy="149.7" r="1.35"/>
<circle cx="435.7" cy="152.3" r="1.35"/>
<circle cx="441.9" cy="138.3" r="1.35"/>
<circle cx="433.5" cy="150.4" r="1.35"/>
<circle cx="434.2" cy="152.6" r="1.35"/>
<circle cx="438.4" cy="150.5" r="1.35"/>
<circle cx="432.1" cy="147.8" r="1.35"/>
<circle cx="444.2" cy="142.8" r="1.35"/>
<circle cx="439.4" cy="149.2" r="1.35"/>
<circle cx="444.3" cy="130.6" r="1.35"/>
<circle cx="434.9" cy="153.1" r="1.35"/>
<circle cx="433.0" cy="151.2" r="1.35"/>
<circle cx="435.7" cy="152.0" r="1.35"/>
<circle cx="438.1" cy="150.8" r="1.35"/>
<circle cx="431.9" cy="147.4" r="1.35"/>
<circle cx="436.6" cy="150.6" r="1.35"/>
<circle cx="434.9" cy="153.1" r="1.35"/>
<circle cx="441.9" cy="143.8" r="1.35"/>
<circle cx="431.5" cy="150.1" r="1.35"/>
<circle cx="439.5" cy="148.6" r="1.35"/>
<circle cx="431.6" cy="146.2" r="1.35"/>
<circle cx="429.9" cy="146.4" r="1.35"/>
<circle cx="431.2" cy="150.3" r="1.35"/>
<circle cx="428.6" cy="142.2" r="1.35"/>
<circle cx="435.6" cy="152.3" r="1.35"/>
<circle cx="439.4" cy="149.5" r="1.35"/>
<circle cx="435.7" cy="152.0" r="1.35"/>
<circle cx="437.7" cy="150.0" r="1.35"/>
<circle cx="442.0" cy="147.3" r="1.35"/>
<circle cx="436.2" cy="152.3" r="1.35"/>
<circle cx="435.8" cy="151.9" r="1.35"/>
<circle cx="433.5" cy="150.6" r="1.35"/>
<circle cx="426.4" cy="140.2" r="1.35"/>
<circle cx="438.2" cy="150.1" r="1.35"/>
<circle cx="425.6" cy="143.1" r="1.35"/>
<circle cx="437.8" cy="148.7" r="1.35"/>
<circle cx="434.9" cy="153.1" r="1.35"/>
<circle cx="439.8" cy="146.9" r="1.35"/>
<circle cx="434.6" cy="152.8" r="1.35"/>
<circle cx="430.6" cy="148.8" r="1.35"/>
<circle cx="436.5" cy="151.7" r="1.35"/>
<circle cx="432.0" cy="149.5" r="1.35"/>
<circle cx="434.0" cy="152.4" r="1.35"/>
<circle cx="435.2" cy="153.0" r="1.35"/>
<circle cx="434.3" cy="152.6" r="1.35"/>
<circle cx="434.0" cy="152.4" r="1.35"/>
<circle cx="430.6" cy="146.6" r="1.35"/>
<circle cx="434.0" cy="151.3" r="1.35"/>
<circle cx="434.2" cy="152.5" r="1.35"/>
<circle cx="428.6" cy="147.1" r="1.35"/>
<circle cx="439.8" cy="148.5" r="1.35"/>
<circle cx="440.4" cy="138.1" r="1.35"/>
<circle cx="435.6" cy="152.8" r="1.35"/>
<circle cx="434.3" cy="152.6" r="1.35"/>
<circle cx="429.4" cy="145.4" r="1.35"/>
<circle cx="437.3" cy="151.6" r="1.35"/>
<circle cx="432.5" cy="151.4" r="1.35"/>
<circle cx="425.6" cy="132.0" r="1.35"/>
<circle cx="433.6" cy="152.0" r="1.35"/>
<circle cx="434.2" cy="152.6" r="1.35"/>
<circle cx="435.5" cy="152.9" r="1.35"/>
<circle cx="428.4" cy="147.4" r="1.35"/>
<circle cx="437.6" cy="150.9" r="1.35"/>
<circle cx="438.1" cy="146.6" r="1.35"/>
<circle cx="428.9" cy="142.8" r="1.35"/>
<circle cx="431.5" cy="147.2" r="1.35"/>
<circle cx="434.6" cy="152.8" r="1.35"/>
<circle cx="432.0" cy="150.0" r="1.35"/>
<circle cx="442.5" cy="146.7" r="1.35"/>
<circle cx="435.9" cy="152.0" r="1.35"/>
<circle cx="429.6" cy="141.2" r="1.35"/>
<circle cx="430.8" cy="142.8" r="1.35"/>
<circle cx="434.7" cy="152.8" r="1.35"/>
<circle cx="444.8" cy="143.3" r="1.35"/>
<circle cx="434.0" cy="152.3" r="1.35"/>
<circle cx="435.5" cy="152.5" r="1.35"/>
<circle cx="437.2" cy="151.0" r="1.35"/>
<circle cx="434.8" cy="153.0" r="1.35"/>
<circle cx="444.8" cy="133.9" r="1.35"/>
<circle cx="432.2" cy="146.8" r="1.35"/>
<circle cx="438.2" cy="150.3" r="1.35"/>
<circle cx="435.7" cy="152.6" r="1.35"/>
<circle cx="437.7" cy="148.0" r="1.35"/>
<circle cx="428.7" cy="144.9" r="1.35"/>
<circle cx="442.6" cy="134.5" r="1.35"/>
<circle cx="434.4" cy="152.5" r="1.35"/>
<circle cx="435.1" cy="153.1" r="1.35"/>
<circle cx="430.0" cy="147.7" r="1.35"/>
<circle cx="431.1" cy="147.6" r="1.35"/>
<circle cx="437.4" cy="151.2" r="1.35"/>
<circle cx="439.2" cy="146.3" r="1.35"/>
<circle cx="438.2" cy="150.1" r="1.35"/>
<circle cx="440.2" cy="144.7" r="1.35"/>
<circle cx="438.1" cy="150.2" r="1.35"/>
<circle cx="435.1" cy="153.1" r="1.35"/>
<circle cx="438.6" cy="149.5" r="1.35"/>
<circle cx="437.5" cy="151.2" r="1.35"/>
<circle cx="434.5" cy="152.8" r="1.35"/>
<circle cx="438.1" cy="150.9" r="1.35"/>
<circle cx="440.5" cy="142.9" r="1.35"/>
<circle cx="436.0" cy="152.5" r="1.35"/>
<circle cx="433.1" cy="151.5" r="1.35"/>
<circle cx="438.1" cy="147.7" r="1.35"/>
<circle cx="433.9" cy="151.7" r="1.35"/>
<circle cx="434.5" cy="152.7" r="1.35"/>
<circle cx="434.3" cy="152.6" r="1.35"/>
<circle cx="440.2" cy="148.7" r="1.35"/>
<circle cx="425.2" cy="142.7" r="1.35"/>
<circle cx="436.6" cy="152.1" r="1.35"/>
<circle cx="440.1" cy="148.8" r="1.35"/>
<circle cx="430.7" cy="149.5" r="1.35"/>
<circle cx="441.4" cy="147.9" r="1.35"/>
<circle cx="437.3" cy="151.3" r="1.35"/>
<circle cx="432.1" cy="148.0" r="1.35"/>
<circle cx="435.9" cy="152.4" r="1.35"/>
<circle cx="426.8" cy="140.5" r="1.35"/>
<circle cx="432.0" cy="150.4" r="1.35"/>
<circle cx="442.8" cy="138.1" r="1.35"/>
<circle cx="430.2" cy="149.3" r="1.35"/>
<circle cx="442.9" cy="137.8" r="1.35"/>
<circle cx="434.6" cy="152.8" r="1.35"/>
<circle cx="439.3" cy="145.2" r="1.35"/>
<circle cx="435.2" cy="153.1" r="1.35"/>
<circle cx="423.0" cy="140.2" r="1.35"/>
<circle cx="431.9" cy="150.9" r="1.35"/>
<circle cx="435.8" cy="152.1" r="1.35"/>
<circle cx="428.8" cy="143.1" r="1.35"/>
<circle cx="427.8" cy="146.7" r="1.35"/>
<circle cx="436.6" cy="152.0" r="1.35"/>
<circle cx="431.5" cy="146.4" r="1.35"/>
<circle cx="425.9" cy="138.9" r="1.35"/>
<circle cx="431.3" cy="145.0" r="1.35"/>
<circle cx="438.7" cy="150.1" r="1.35"/>
<circle cx="432.5" cy="151.2" r="1.35"/>
<circle cx="439.0" cy="150.1" r="1.35"/>
<circle cx="441.5" cy="146.9" r="1.35"/>
<circle cx="435.1" cy="153.1" r="1.35"/>
<circle cx="429.0" cy="144.0" r="1.35"/>
<circle cx="428.0" cy="145.3" r="1.35"/>
<circle cx="434.9" cy="153.1" r="1.35"/>
<circle cx="438.8" cy="150.3" r="1.35"/>
<circle cx="436.2" cy="152.0" r="1.35"/>
<circle cx="437.3" cy="150.6" r="1.35"/>
<circle cx="432.6" cy="151.5" r="1.35"/>
<circle cx="436.3" cy="151.5" r="1.35"/>
<circle cx="432.5" cy="149.9" r="1.35"/>
<circle cx="433.3" cy="150.0" r="1.35"/>
<circle cx="428.1" cy="147.1" r="1.35"/>
<circle cx="426.6" cy="141.3" r="1.35"/>
<circle cx="432.4" cy="150.2" r="1.35"/>
<circle cx="429.1" cy="148.0" r="1.35"/>
<circle cx="429.9" cy="148.9" r="1.35"/>
<circle cx="437.9" cy="148.6" r="1.35"/>
<circle cx="434.4" cy="152.3" r="1.35"/>
<circle cx="447.5" cy="139.2" r="1.35"/>
<circle cx="439.0" cy="150.1" r="1.35"/>
<circle cx="431.6" cy="149.5" r="1.35"/>
<circle cx="438.3" cy="150.2" r="1.35"/>
<circle cx="436.5" cy="150.2" r="1.35"/>
<circle cx="431.3" cy="148.9" r="1.35"/>
<circle cx="439.7" cy="142.3" r="1.35"/>
<circle cx="430.9" cy="144.9" r="1.35"/>
<circle cx="438.4" cy="149.5" r="1.35"/>
<circle cx="431.7" cy="149.7" r="1.35"/>
<circle cx="441.4" cy="144.0" r="1.35"/>
<circle cx="431.5" cy="150.0" r="1.35"/>
<circle cx="428.7" cy="136.9" r="1.35"/>
<circle cx="441.6" cy="140.1" r="1.35"/>
<circle cx="429.3" cy="141.3" r="1.35"/>
<circle cx="435.9" cy="152.3" r="1.35"/>
<circle cx="441.2" cy="147.2" r="1.35"/>
<circle cx="435.5" cy="152.5" r="1.35"/>
<circle cx="434.6" cy="152.9" r="1.35"/>
<circle cx="435.4" cy="152.7" r="1.35"/>
<circle cx="438.6" cy="147.0" r="1.35"/>
<circle cx="430.7" cy="146.1" r="1.35"/>
<circle cx="437.6" cy="151.0" r="1.35"/>
<circle cx="437.5" cy="147.7" r="1.35"/>
<circle cx="445.0" cy="135.9" r="1.35"/>
<circle cx="433.2" cy="150.8" r="1.35"/>
<circle cx="430.1" cy="147.4" r="1.35"/>
<circle cx="438.1" cy="149.2" r="1.35"/>
<circle cx="432.9" cy="149.3" r="1.35"/>
<circle cx="436.2" cy="151.3" r="1.35"/>
<circle cx="435.6" cy="152.8" r="1.35"/>
<circle cx="440.0" cy="147.4" r="1.35"/>
<circle cx="431.5" cy="150.4" r="1.35"/>
<circle cx="434.5" cy="152.9" r="1.35"/>
<circle cx="421.4" cy="131.5" r="1.35"/>
<circle cx="430.2" cy="149.3" r="1.35"/>
<circle cx="441.6" cy="143.5" r="1.35"/>
<circle cx="431.4" cy="147.8" r="1.35"/>
<circle cx="431.3" cy="150.0" r="1.35"/>
<circle cx="428.5" cy="142.2" r="1.35"/>
<circle cx="437.5" cy="149.6" r="1.35"/>
<circle cx="435.8" cy="152.4" r="1.35"/>
<circle cx="428.7" cy="143.7" r="1.35"/>
<circle cx="437.9" cy="151.1" r="1.35"/>
<circle cx="436.1" cy="152.4" r="1.35"/>
<circle cx="438.2" cy="150.3" r="1.35"/>
<circle cx="431.6" cy="150.5" r="1.35"/>
<circle cx="442.4" cy="138.3" r="1.35"/>
<circle cx="436.8" cy="150.8" r="1.35"/>
<circle cx="434.4" cy="152.5" r="1.35"/>
<circle cx="432.2" cy="150.4" r="1.35"/>
<circle cx="433.7" cy="150.7" r="1.35"/>
<circle cx="438.7" cy="145.6" r="1.35"/>
<circle cx="433.6" cy="151.2" r="1.35"/>
<circle cx="439.6" cy="143.0" r="1.35"/>
<circle cx="437.5" cy="149.6" r="1.35"/>
<circle cx="440.8" cy="139.4" r="1.35"/>
<circle cx="438.5" cy="148.1" r="1.35"/>
<circle cx="434.7" cy="152.9" r="1.35"/>
<circle cx="424.8" cy="138.0" r="1.35"/>
<circle cx="436.3" cy="152.2" r="1.35"/>
<circle cx="438.4" cy="148.2" r="1.35"/>
<circle cx="435.7" cy="152.4" r="1.35"/>
<circle cx="437.4" cy="151.3" r="1.35"/>
<circle cx="432.5" cy="147.7" r="1.35"/>
<circle cx="433.0" cy="151.1" r="1.35"/>
<circle cx="430.0" cy="142.1" r="1.35"/>
<circle cx="440.8" cy="136.1" r="1.35"/>
<circle cx="435.7" cy="152.7" r="1.35"/>
<circle cx="432.4" cy="150.8" r="1.35"/>
<circle cx="427.9" cy="143.0" r="1.35"/>
<circle cx="434.2" cy="152.6" r="1.35"/>
<circle cx="441.2" cy="148.0" r="1.35"/>
<circle cx="437.0" cy="151.3" r="1.35"/>
<circle cx="431.1" cy="148.4" r="1.35"/>
<circle cx="441.1" cy="134.3" r="1.35"/>
<circle cx="441.1" cy="148.0" r="1.35"/>
<circle cx="439.2" cy="149.4" r="1.35"/>
<circle cx="438.4" cy="146.5" r="1.35"/>
<circle cx="439.9" cy="146.7" r="1.35"/>
<circle cx="437.3" cy="149.8" r="1.35"/>
<circle cx="438.3" cy="150.7" r="1.35"/>
<circle cx="430.8" cy="146.8" r="1.35"/>
<circle cx="441.4" cy="138.4" r="1.35"/>
<circle cx="436.0" cy="152.5" r="1.35"/>
<circle cx="443.7" cy="136.2" r="1.35"/>
<circle cx="438.0" cy="146.9" r="1.35"/>
<circle cx="439.2" cy="145.2" r="1.35"/>
<circle cx="433.2" cy="151.1" r="1.35"/>
<circle cx="436.9" cy="150.5" r="1.35"/>
<circle cx="438.2" cy="150.2" r="1.35"/>
<circle cx="437.5" cy="151.3" r="1.35"/>
<circle cx="432.1" cy="148.1" r="1.35"/>
<circle cx="434.2" cy="151.8" r="1.35"/>
<circle cx="439.4" cy="149.2" r="1.35"/>
<circle cx="440.5" cy="147.4" r="1.35"/>
<circle cx="435.4" cy="152.9" r="1.35"/>
<circle cx="435.3" cy="152.7" r="1.35"/>
<circle cx="435.9" cy="152.5" r="1.35"/>
<circle cx="439.4" cy="146.1" r="1.35"/>
<circle cx="429.4" cy="141.8" r="1.35"/>
<circle cx="427.9" cy="141.7" r="1.35"/>
<circle cx="435.5" cy="152.8" r="1.35"/>
<circle cx="429.1" cy="147.7" r="1.35"/>
<circle cx="431.9" cy="150.6" r="1.35"/>
<circle cx="435.4" cy="152.7" r="1.35"/>
<circle cx="437.1" cy="150.9" r="1.35"/>
<circle cx="429.3" cy="141.4" r="1.35"/>
<circle cx="438.4" cy="147.6" r="1.35"/>
<circle cx="425.5" cy="143.3" r="1.35"/>
<circle cx="437.3" cy="149.0" r="1.35"/>
<circle cx="426.6" cy="145.2" r="1.35"/>
<circle cx="428.2" cy="147.4" r="1.35"/>
<circle cx="437.7" cy="150.0" r="1.35"/>
<circle cx="432.8" cy="151.1" r="1.35"/>
<circle cx="430.7" cy="149.9" r="1.35"/>
<circle cx="432.6" cy="151.1" r="1.35"/>
<circle cx="437.0" cy="151.6" r="1.35"/>
<circle cx="434.7" cy="153.0" r="1.35"/>
<circle cx="434.8" cy="152.9" r="1.35"/>
<circle cx="439.5" cy="149.1" r="1.35"/>
<circle cx="431.2" cy="149.5" r="1.35"/>
<circle cx="432.5" cy="149.9" r="1.35"/>
<circle cx="432.2" cy="147.3" r="1.35"/>
<circle cx="440.0" cy="145.7" r="1.35"/>
<circle cx="439.2" cy="148.4" r="1.35"/>
<circle cx="440.5" cy="144.8" r="1.35"/>
<circle cx="434.8" cy="153.0" r="1.35"/>
<circle cx="434.2" cy="152.3" r="1.35"/>
<circle cx="438.6" cy="149.7" r="1.35"/>
<circle cx="432.9" cy="151.7" r="1.35"/>
<circle cx="438.6" cy="144.6" r="1.35"/>
<circle cx="438.1" cy="150.1" r="1.35"/>
<circle cx="431.3" cy="150.0" r="1.35"/>
<circle cx="434.6" cy="152.4" r="1.35"/>
<circle cx="434.4" cy="152.6" r="1.35"/>
<circle cx="442.4" cy="145.8" r="1.35"/>
<circle cx="446.1" cy="138.7" r="1.35"/>
<circle cx="434.5" cy="152.6" r="1.35"/>
<circle cx="435.1" cy="153.1" r="1.35"/>
<circle cx="435.9" cy="152.3" r="1.35"/>
<circle cx="435.0" cy="153.2" r="1.35"/>
<circle cx="429.3" cy="147.9" r="1.35"/>
<circle cx="438.4" cy="150.1" r="1.35"/>
<circle cx="426.6" cy="140.9" r="1.35"/>
<circle cx="433.9" cy="151.7" r="1.35"/>
<circle cx="435.6" cy="152.5" r="1.35"/>
<circle cx="428.3" cy="138.4" r="1.35"/>
<circle cx="438.7" cy="148.0" r="1.35"/>
<circle cx="439.5" cy="141.1" r="1.35"/>
<circle cx="427.6" cy="142.2" r="1.35"/>
<circle cx="427.5" cy="145.4" r="1.35"/>
<circle cx="437.6" cy="149.8" r="1.35"/>
<circle cx="434.8" cy="153.1" r="1.35"/>
<circle cx="428.5" cy="145.1" r="1.35"/>
<circle cx="433.4" cy="151.9" r="1.35"/>
<circle cx="434.4" cy="152.8" r="1.35"/>
<circle cx="434.2" cy="152.0" r="1.35"/>
<circle cx="438.5" cy="148.7" r="1.35"/>
<circle cx="436.6" cy="150.6" r="1.35"/>
<circle cx="442.6" cy="134.1" r="1.35"/>
<circle cx="440.9" cy="147.2" r="1.35"/>
<circle cx="437.9" cy="146.4" r="1.35"/>
<circle cx="439.6" cy="148.2" r="1.35"/>
<circle cx="440.7" cy="148.4" r="1.35"/>
<circle cx="438.0" cy="149.5" r="1.35"/>
<circle cx="428.4" cy="146.1" r="1.35"/>
<circle cx="438.7" cy="146.1" r="1.35"/>
<circle cx="435.3" cy="153.0" r="1.35"/>
<circle cx="441.9" cy="146.2" r="1.35"/>
<circle cx="435.4" cy="152.8" r="1.35"/>
<circle cx="437.2" cy="151.5" r="1.35"/>
<circle cx="436.4" cy="151.8" r="1.35"/>
<circle cx="442.2" cy="144.3" r="1.35"/>
<circle cx="435.8" cy="151.8" r="1.35"/>
<circle cx="433.6" cy="152.1" r="1.35"/>
<circle cx="436.3" cy="151.6" r="1.35"/>
<circle cx="432.7" cy="151.1" r="1.35"/>
<circle cx="435.7" cy="152.5" r="1.35"/>
<circle cx="435.0" cy="153.1" r="1.35"/>
<circle cx="436.2" cy="152.0" r="1.35"/>
<circle cx="443.2" cy="145.6" r="1.35"/>
<circle cx="432.8" cy="151.2" r="1.35"/>
<circle cx="435.2" cy="153.0" r="1.35"/>
<circle cx="433.9" cy="152.2" r="1.35"/>
<circle cx="437.9" cy="151.0" r="1.35"/>
<circle cx="428.7" cy="134.6" r="1.35"/>
<circle cx="431.3" cy="143.8" r="1.35"/>
<circle cx="434.8" cy="153.0" r="1.35"/>
<circle cx="437.3" cy="150.9" r="1.35"/>
<circle cx="434.8" cy="153.0" r="1.35"/>
<circle cx="432.3" cy="149.6" r="1.35"/>
<circle cx="430.4" cy="147.9" r="1.35"/>
<circle cx="437.2" cy="149.5" r="1.35"/>
<circle cx="441.2" cy="138.5" r="1.35"/>
<circle cx="436.4" cy="151.9" r="1.35"/>
<circle cx="435.8" cy="152.6" r="1.35"/>
<circle cx="436.9" cy="151.3" r="1.35"/>
<circle cx="430.0" cy="139.4" r="1.35"/>
<circle cx="433.3" cy="149.7" r="1.35"/>
<circle cx="433.6" cy="152.0" r="1.35"/>
<circle cx="436.3" cy="151.7" r="1.35"/>
<circle cx="434.8" cy="153.0" r="1.35"/>
<circle cx="428.5" cy="141.0" r="1.35"/>
<circle cx="439.8" cy="149.2" r="1.35"/>
<circle cx="442.2" cy="142.9" r="1.35"/>
<circle cx="433.6" cy="150.9" r="1.35"/>
<circle cx="436.7" cy="150.6" r="1.35"/>
<circle cx="436.1" cy="151.2" r="1.35"/>
<circle cx="438.4" cy="150.6" r="1.35"/>
<circle cx="427.1" cy="141.3" r="1.35"/>
<circle cx="441.9" cy="143.2" r="1.35"/>
<circle cx="432.5" cy="148.2" r="1.35"/>
<circle cx="440.4" cy="143.9" r="1.35"/>
<circle cx="435.3" cy="152.9" r="1.35"/>
<circle cx="432.9" cy="151.6" r="1.35"/>
<circle cx="434.2" cy="152.4" r="1.35"/>
<circle cx="438.8" cy="147.3" r="1.35"/>
<circle cx="430.4" cy="149.5" r="1.35"/>
<circle cx="433.0" cy="150.6" r="1.35"/>
<circle cx="432.4" cy="149.5" r="1.35"/>
<circle cx="440.6" cy="146.0" r="1.35"/>
<circle cx="437.5" cy="151.2" r="1.35"/>
<circle cx="434.9" cy="153.1" r="1.35"/>
<circle cx="440.0" cy="148.7" r="1.35"/>
<circle cx="429.9" cy="145.2" r="1.35"/>
<circle cx="434.6" cy="152.9" r="1.35"/>
<circle cx="442.4" cy="136.3" r="1.35"/>
<circle cx="439.2" cy="148.0" r="1.35"/>
<circle cx="429.5" cy="147.8" r="1.35"/>
<circle cx="439.5" cy="145.1" r="1.35"/>
<circle cx="432.5" cy="150.5" r="1.35"/>
<circle cx="433.8" cy="151.8" r="1.35"/>
<circle cx="437.6" cy="151.2" r="1.35"/>
<circle cx="430.3" cy="144.8" r="1.35"/>
<circle cx="435.9" cy="152.1" r="1.35"/>
<circle cx="438.4" cy="150.1" r="1.35"/>
<circle cx="437.0" cy="150.5" r="1.35"/>
<circle cx="436.7" cy="151.8" r="1.35"/>
<circle cx="431.8" cy="150.8" r="1.35"/>
<circle cx="437.2" cy="150.5" r="1.35"/>
<circle cx="432.7" cy="150.8" r="1.35"/>
<circle cx="440.6" cy="137.4" r="1.35"/>
<circle cx="446.0" cy="140.5" r="1.35"/>
<circle cx="431.0" cy="147.8" r="1.35"/>
<circle cx="423.4" cy="136.3" r="1.35"/>
<circle cx="432.7" cy="149.7" r="1.35"/>
<circle cx="436.6" cy="151.8" r="1.35"/>
<circle cx="439.5" cy="147.8" r="1.35"/>
<circle cx="439.6" cy="149.6" r="1.35"/>
<circle cx="430.8" cy="149.9" r="1.35"/>
<circle cx="430.8" cy="148.5" r="1.35"/>
<circle cx="440.4" cy="142.1" r="1.35"/>
<circle cx="429.2" cy="143.1" r="1.35"/>
<circle cx="439.7" cy="147.8" r="1.35"/>
<circle cx="433.8" cy="152.3" r="1.35"/>
<circle cx="438.3" cy="150.6" r="1.35"/>
<circle cx="438.0" cy="150.8" r="1.35"/>
<circle cx="438.3" cy="150.3" r="1.35"/>
<circle cx="438.5" cy="149.0" r="1.35"/>
<circle cx="429.7" cy="147.1" r="1.35"/>
<circle cx="436.3" cy="151.5" r="1.35"/>
<circle cx="435.1" cy="153.1" r="1.35"/>
<circle cx="436.3" cy="151.7" r="1.35"/>
<circle cx="440.3" cy="147.0" r="1.35"/>
<circle cx="433.6" cy="150.4" r="1.35"/>
<circle cx="431.2" cy="145.2" r="1.35"/>
<circle cx="431.1" cy="149.3" r="1.35"/>
<circle cx="433.3" cy="151.3" r="1.35"/>
<circle cx="438.2" cy="148.0" r="1.35"/>
<circle cx="430.6" cy="149.8" r="1.35"/>
<circle cx="440.0" cy="139.8" r="1.35"/>
<circle cx="436.2" cy="152.3" r="1.35"/>
<circle cx="433.8" cy="152.3" r="1.35"/>
<circle cx="427.9" cy="129.4" r="1.35"/>
<circle cx="436.0" cy="152.4" r="1.35"/>
<circle cx="438.0" cy="150.5" r="1.35"/>
<circle cx="425.6" cy="130.8" r="1.35"/>
<circle cx="440.1" cy="148.0" r="1.35"/>
<circle cx="442.0" cy="147.0" r="1.35"/>
<circle cx="436.4" cy="150.6" r="1.35"/>
<circle cx="437.1" cy="150.4" r="1.35"/>
<circle cx="440.3" cy="148.6" r="1.35"/>
<circle cx="430.2" cy="143.0" r="1.35"/>
<circle cx="434.9" cy="153.1" r="1.35"/>
<circle cx="434.2" cy="151.8" r="1.35"/>
<circle cx="434.2" cy="152.6" r="1.35"/>
<circle cx="438.2" cy="150.8" r="1.35"/>
<circle cx="431.6" cy="145.4" r="1.35"/>
<circle cx="435.7" cy="152.5" r="1.35"/>
<circle cx="434.3" cy="152.1" r="1.35"/>
<circle cx="438.7" cy="146.6" r="1.35"/>
<circle cx="433.4" cy="150.8" r="1.35"/>
<circle cx="430.7" cy="148.5" r="1.35"/>
<circle cx="437.3" cy="149.7" r="1.35"/>
<circle cx="441.0" cy="143.5" r="1.35"/>
<circle cx="433.3" cy="151.9" r="1.35"/>
<circle cx="440.9" cy="146.5" r="1.35"/>
<circle cx="436.1" cy="151.0" r="1.35"/>
<circle cx="432.2" cy="149.0" r="1.35"/>
<circle cx="441.5" cy="145.5" r="1.35"/>
<circle cx="430.6" cy="146.6" r="1.35"/>
<circle cx="439.3" cy="143.7" r="1.35"/>
<circle cx="432.3" cy="148.2" r="1.35"/>
<circle cx="436.9" cy="150.8" r="1.35"/>
<circle cx="428.4" cy="145.5" r="1.35"/>
<circle cx="430.5" cy="147.6" r="1.35"/>
<circle cx="439.6" cy="145.3" r="1.35"/>
<circle cx="435.8" cy="152.0" r="1.35"/>
<circle cx="435.2" cy="153.0" r="1.35"/>
<circle cx="432.6" cy="151.4" r="1.35"/>
<circle cx="436.9" cy="149.7" r="1.35"/>
<circle cx="427.5" cy="131.7" r="1.35"/>
<circle cx="429.0" cy="138.2" r="1.35"/>
<circle cx="434.2" cy="152.4" r="1.35"/>
<circle cx="430.5" cy="141.8" r="1.35"/>
<circle cx="431.3" cy="147.7" r="1.35"/>
<circle cx="434.6" cy="152.7" r="1.35"/>
<circle cx="434.3" cy="152.4" r="1.35"/>
<circle cx="433.8" cy="151.9" r="1.35"/>
<circle cx="442.1" cy="146.3" r="1.35"/>
<circle cx="439.3" cy="146.5" r="1.35"/>
<circle cx="440.3" cy="142.4" r="1.35"/>
<circle cx="434.8" cy="153.1" r="1.35"/>
<circle cx="432.3" cy="149.0" r="1.35"/>
<circle cx="427.2" cy="133.6" r="1.35"/>
<circle cx="433.1" cy="149.4" r="1.35"/>
<circle cx="423.8" cy="142.1" r="1.35"/>
<circle cx="431.9" cy="150.2" r="1.35"/>
<circle cx="438.3" cy="150.0" r="1.35"/>
<circle cx="441.9" cy="134.7" r="1.35"/>
<circle cx="439.1" cy="149.7" r="1.35"/>
<circle cx="430.4" cy="142.2" r="1.35"/>
<circle cx="437.1" cy="151.3" r="1.35"/>
<circle cx="430.8" cy="149.6" r="1.35"/>
<circle cx="438.5" cy="149.0" r="1.35"/>
<circle cx="434.4" cy="152.4" r="1.35"/>
<circle cx="438.7" cy="150.4" r="1.35"/>
<circle cx="438.9" cy="147.0" r="1.35"/>
<circle cx="445.0" cy="139.7" r="1.35"/>
<circle cx="435.8" cy="152.5" r="1.35"/>
<circle cx="433.2" cy="150.5" r="1.35"/>
<circle cx="440.7" cy="143.1" r="1.35"/>
<circle cx="442.4" cy="141.5" r="1.35"/>
<circle cx="432.0" cy="151.0" r="1.35"/>
<circle cx="435.3" cy="153.0" r="1.35"/>
<circle cx="427.3" cy="132.2" r="1.35"/>
<circle cx="433.9" cy="152.4" r="1.35"/>
<circle cx="438.8" cy="148.2" r="1.35"/>
<circle cx="434.5" cy="152.6" r="1.35"/>
<circle cx="432.0" cy="149.5" r="1.35"/>
<circle cx="427.5" cy="130.6" r="1.35"/>
<circle cx="436.6" cy="151.9" r="1.35"/>
<circle cx="438.4" cy="150.0" r="1.35"/>
<circle cx="437.6" cy="149.4" r="1.35"/>
<circle cx="436.1" cy="151.2" r="1.35"/>
<circle cx="428.2" cy="146.1" r="1.35"/>
<circle cx="442.5" cy="146.7" r="1.35"/>
<circle cx="434.7" cy="152.8" r="1.35"/>
<circle cx="434.2" cy="152.7" r="1.35"/>
<circle cx="438.1" cy="149.9" r="1.35"/>
<circle cx="434.7" cy="152.9" r="1.35"/>
<circle cx="434.3" cy="152.6" r="1.35"/>
<circle cx="436.6" cy="151.3" r="1.35"/>
<circle cx="440.8" cy="146.4" r="1.35"/>
<circle cx="437.0" cy="150.2" r="1.35"/>
<circle cx="425.2" cy="139.6" r="1.35"/>
<circle cx="433.2" cy="150.5" r="1.35"/>
<circle cx="435.9" cy="152.2" r="1.35"/>
<circle cx="435.6" cy="152.7" r="1.35"/>
<circle cx="428.2" cy="146.4" r="1.35"/>
<circle cx="426.1" cy="142.3" r="1.35"/>
<circle cx="437.3" cy="151.4" r="1.35"/>
<circle cx="436.5" cy="152.0" r="1.35"/>
<circle cx="434.9" cy="153.1" r="1.35"/>
<circle cx="425.8" cy="141.8" r="1.35"/>
<circle cx="442.6" cy="133.9" r="1.35"/>
<circle cx="433.1" cy="150.4" r="1.35"/>
<circle cx="443.9" cy="143.3" r="1.35"/>
<circle cx="434.2" cy="152.6" r="1.35"/>
<circle cx="436.0" cy="151.8" r="1.35"/>
<circle cx="428.7" cy="148.0" r="1.35"/>
<circle cx="440.8" cy="147.8" r="1.35"/>
<circle cx="428.1" cy="137.4" r="1.35"/>
<circle cx="436.1" cy="152.1" r="1.35"/>
<circle cx="435.6" cy="152.5" r="1.35"/>
<circle cx="429.4" cy="147.7" r="1.35"/>
<circle cx="438.8" cy="147.9" r="1.35"/>
<circle cx="427.4" cy="141.0" r="1.35"/>
<circle cx="431.3" cy="149.3" r="1.35"/>
<circle cx="434.8" cy="153.0" r="1.35"/>
<circle cx="432.8" cy="151.4" r="1.35"/>
<circle cx="437.0" cy="151.3" r="1.35"/>
<circle cx="439.0" cy="144.1" r="1.35"/>
<circle cx="433.4" cy="151.7" r="1.35"/>
<circle cx="432.1" cy="149.8" r="1.35"/>
<circle cx="432.2" cy="151.1" r="1.35"/>
<circle cx="433.0" cy="151.8" r="1.35"/>
<circle cx="438.5" cy="145.6" r="1.35"/>
<circle cx="433.8" cy="152.3" r="1.35"/>
<circle cx="436.7" cy="151.6" r="1.35"/>
<circle cx="434.5" cy="152.7" r="1.35"/>
<circle cx="430.5" cy="143.5" r="1.35"/>
<circle cx="438.7" cy="150.2" r="1.35"/>
<circle cx="429.5" cy="147.2" r="1.35"/>
<circle cx="435.0" cy="153.2" r="1.35"/>
<circle cx="441.4" cy="147.8" r="1.35"/>
<circle cx="429.2" cy="139.6" r="1.35"/>
<circle cx="434.7" cy="152.9" r="1.35"/>
<circle cx="432.3" cy="149.3" r="1.35"/>
<circle cx="427.0" cy="146.3" r="1.35"/>
<circle cx="433.1" cy="150.9" r="1.35"/>
<circle cx="432.1" cy="150.8" r="1.35"/>
<circle cx="435.6" cy="152.8" r="1.35"/>
<circle cx="441.8" cy="144.5" r="1.35"/>
<circle cx="436.2" cy="152.3" r="1.35"/>
<circle cx="437.8" cy="148.7" r="1.35"/>
<circle cx="434.7" cy="152.8" r="1.35"/>
<circle cx="433.7" cy="151.3" r="1.35"/>
<circle cx="430.5" cy="143.4" r="1.35"/>
<circle cx="435.3" cy="152.7" r="1.35"/>
<circle cx="442.0" cy="133.8" r="1.35"/>
<circle cx="437.0" cy="149.6" r="1.35"/>
<circle cx="432.1" cy="150.2" r="1.35"/>
<circle cx="442.1" cy="140.4" r="1.35"/>
<circle cx="432.7" cy="151.6" r="1.35"/>
<circle cx="431.7" cy="149.9" r="1.35"/>
<circle cx="428.5" cy="147.6" r="1.35"/>
<circle cx="429.9" cy="148.2" r="1.35"/>
<circle cx="433.7" cy="152.2" r="1.35"/>
<circle cx="443.5" cy="145.3" r="1.35"/>
<circle cx="433.9" cy="152.0" r="1.35"/>
<circle cx="429.5" cy="143.0" r="1.35"/>
<circle cx="431.8" cy="146.5" r="1.35"/>
<circle cx="433.8" cy="152.4" r="1.35"/>
<circle cx="425.8" cy="132.5" r="1.35"/>
<circle cx="435.5" cy="152.8" r="1.35"/>
<circle cx="438.0" cy="150.5" r="1.35"/>
<circle cx="436.4" cy="152.1" r="1.35"/>
<circle cx="437.6" cy="147.7" r="1.35"/>
<circle cx="428.1" cy="147.0" r="1.35"/>
<circle cx="440.5" cy="148.1" r="1.35"/>
<circle cx="439.7" cy="141.3" r="1.35"/>
<circle cx="426.8" cy="145.7" r="1.35"/>
<circle cx="435.9" cy="151.7" r="1.35"/>
<circle cx="435.1" cy="153.0" r="1.35"/>
<circle cx="437.3" cy="150.6" r="1.35"/>
<circle cx="435.9" cy="151.9" r="1.35"/>
<circle cx="432.3" cy="148.2" r="1.35"/>
<circle cx="435.8" cy="152.2" r="1.35"/>
<circle cx="435.7" cy="152.1" r="1.35"/>
<circle cx="434.7" cy="153.0" r="1.35"/>
<circle cx="425.1" cy="141.5" r="1.35"/>
<circle cx="430.8" cy="148.5" r="1.35"/>
<circle cx="426.3" cy="134.2" r="1.35"/>
<circle cx="436.1" cy="152.1" r="1.35"/>
<circle cx="438.1" cy="150.2" r="1.35"/>
<circle cx="436.1" cy="152.4" r="1.35"/>
<circle cx="433.0" cy="151.2" r="1.35"/>
<circle cx="435.3" cy="153.0" r="1.35"/>
<circle cx="440.0" cy="146.2" r="1.35"/>
<circle cx="431.1" cy="149.1" r="1.35"/>
<circle cx="438.9" cy="149.5" r="1.35"/>
<circle cx="438.0" cy="147.3" r="1.35"/>
<circle cx="436.1" cy="152.4" r="1.35"/>
<circle cx="441.2" cy="147.4" r="1.35"/>
<circle cx="431.2" cy="145.5" r="1.35"/>
<circle cx="439.0" cy="149.2" r="1.35"/>
<circle cx="430.0" cy="146.4" r="1.35"/>
<circle cx="430.9" cy="145.7" r="1.35"/>
<circle cx="429.3" cy="142.3" r="1.35"/>
<circle cx="436.9" cy="150.0" r="1.35"/>
<circle cx="430.0" cy="149.1" r="1.35"/>
<circle cx="435.2" cy="153.0" r="1.35"/>
<circle cx="428.9" cy="147.0" r="1.35"/>
<circle cx="439.6" cy="144.6" r="1.35"/>
<circle cx="442.9" cy="144.6" r="1.35"/>
<circle cx="436.0" cy="152.0" r="1.35"/>
<circle cx="442.0" cy="143.7" r="1.35"/>
<circle cx="437.4" cy="148.0" r="1.35"/>
<circle cx="444.3" cy="144.2" r="1.35"/>
<circle cx="435.4" cy="152.7" r="1.35"/>
<circle cx="426.6" cy="143.4" r="1.35"/>
<circle cx="441.4" cy="137.8" r="1.35"/>
<circle cx="434.3" cy="152.3" r="1.35"/>
<circle cx="429.5" cy="147.8" r="1.35"/>
<circle cx="431.5" cy="149.9" r="1.35"/>
<circle cx="426.3" cy="141.9" r="1.35"/>
<circle cx="434.1" cy="152.2" r="1.35"/>
<circle cx="429.3" cy="146.9" r="1.35"/>
<circle cx="441.3" cy="147.6" r="1.35"/>
<circle cx="437.8" cy="150.9" r="1.35"/>
<circle cx="426.1" cy="143.6" r="1.35"/>
<circle cx="426.9" cy="140.8" r="1.35"/>
<circle cx="432.0" cy="149.6" r="1.35"/>
<circle cx="424.7" cy="142.7" r="1.35"/>
<circle cx="434.4" cy="152.5" r="1.35"/>
<circle cx="434.8" cy="153.0" r="1.35"/>
<circle cx="430.9" cy="146.0" r="1.35"/>
<circle cx="432.1" cy="149.8" r="1.35"/>
<circle cx="437.1" cy="150.1" r="1.35"/>
<circle cx="441.1" cy="147.8" r="1.35"/>
<circle cx="441.4" cy="147.5" r="1.35"/>
<circle cx="435.1" cy="153.0" r="1.35"/>
<circle cx="438.7" cy="150.0" r="1.35"/>
<circle cx="431.1" cy="149.7" r="1.35"/>
<circle cx="436.8" cy="151.9" r="1.35"/>
<circle cx="429.9" cy="148.2" r="1.35"/>
<circle cx="438.1" cy="148.2" r="1.35"/>
<circle cx="428.4" cy="145.6" r="1.35"/>
<circle cx="429.8" cy="144.4" r="1.35"/>
<circle cx="435.0" cy="153.2" r="1.35"/>
<circle cx="437.4" cy="148.4" r="1.35"/>
<circle cx="432.1" cy="151.0" r="1.35"/>
<circle cx="435.6" cy="152.6" r="1.35"/>
<circle cx="436.0" cy="152.2" r="1.35"/>
<circle cx="430.5" cy="148.5" r="1.35"/>
<circle cx="435.4" cy="152.5" r="1.35"/>
<circle cx="433.6" cy="151.9" r="1.35"/>
<circle cx="441.0" cy="147.0" r="1.35"/>
<circle cx="437.4" cy="148.5" r="1.35"/>
<circle cx="427.9" cy="146.3" r="1.35"/>
<circle cx="423.2" cy="133.5" r="1.35"/>
<circle cx="435.4" cy="152.8" r="1.35"/>
<circle cx="440.1" cy="145.2" r="1.35"/>
<circle cx="435.7" cy="151.9" r="1.35"/>
<circle cx="438.8" cy="146.7" r="1.35"/>
<circle cx="432.4" cy="149.0" r="1.35"/>
<circle cx="427.7" cy="145.8" r="1.35"/>
<circle cx="438.2" cy="150.0" r="1.35"/>
<circle cx="435.4" cy="152.9" r="1.35"/>
<circle cx="437.9" cy="148.3" r="1.35"/>
<circle cx="427.6" cy="145.7" r="1.35"/>
<circle cx="435.8" cy="152.5" r="1.35"/>
<circle cx="431.7" cy="149.2" r="1.35"/>
<circle cx="438.4" cy="150.0" r="1.35"/>
<circle cx="431.9" cy="147.8" r="1.35"/>
<circle cx="431.8" cy="150.3" r="1.35"/>
<circle cx="431.9" cy="148.5" r="1.35"/>
<circle cx="440.4" cy="146.6" r="1.35"/>
<circle cx="435.1" cy="153.1" r="1.35"/>
<circle cx="430.9" cy="146.3" r="1.35"/>
<circle cx="429.5" cy="148.8" r="1.35"/>
<circle cx="429.4" cy="140.5" r="1.35"/>
<circle cx="441.3" cy="147.7" r="1.35"/>
<circle cx="425.3" cy="144.1" r="1.35"/>
<circle cx="430.5" cy="149.1" r="1.35"/>
<circle cx="437.7" cy="150.0" r="1.35"/>
<circle cx="440.0" cy="148.5" r="1.35"/>
<circle cx="434.2" cy="152.5" r="1.35"/>
<circle cx="438.4" cy="150.7" r="1.35"/>
<circle cx="438.2" cy="150.2" r="1.35"/>
<circle cx="439.2" cy="144.6" r="1.35"/>
<circle cx="435.2" cy="153.0" r="1.35"/>
<circle cx="442.1" cy="133.7" r="1.35"/>
<circle cx="435.9" cy="152.3" r="1.35"/>
<circle cx="441.6" cy="136.9" r="1.35"/>
<circle cx="429.2" cy="145.6" r="1.35"/>
<circle cx="439.1" cy="149.6" r="1.35"/>
<circle cx="428.4" cy="133.4" r="1.35"/>
<circle cx="427.1" cy="139.4" r="1.35"/>
<circle cx="437.2" cy="148.8" r="1.35"/>
<circle cx="430.7" cy="146.8" r="1.35"/>
<circle cx="437.0" cy="150.7" r="1.35"/>
<circle cx="429.4" cy="137.3" r="1.35"/>
<circle cx="442.0" cy="140.9" r="1.35"/>
<circle cx="435.2" cy="153.0" r="1.35"/>
<circle cx="429.2" cy="145.3" r="1.35"/>
<circle cx="435.9" cy="151.7" r="1.35"/>
<circle cx="439.0" cy="148.0" r="1.35"/>
<circle cx="431.1" cy="143.6" r="1.35"/>
<circle cx="437.4" cy="149.1" r="1.35"/>
<circle cx="444.0" cy="138.4" r="1.35"/>
<circle cx="438.9" cy="145.8" r="1.35"/>
<circle cx="435.2" cy="153.0" r="1.35"/>
<circle cx="432.2" cy="148.1" r="1.35"/>
<circle cx="437.7" cy="150.9" r="1.35"/>
<circle cx="427.2" cy="145.4" r="1.35"/>
<circle cx="419.0" cy="132.1" r="1.35"/>
<circle cx="431.7" cy="150.3" r="1.35"/>
<circle cx="429.5" cy="147.0" r="1.35"/>
<circle cx="442.7" cy="145.8" r="1.35"/>
<circle cx="435.8" cy="151.9" r="1.35"/>
<circle cx="430.0" cy="140.6" r="1.35"/>
<circle cx="429.1" cy="143.7" r="1.35"/>
<circle cx="437.4" cy="151.5" r="1.35"/>
<circle cx="430.9" cy="148.1" r="1.35"/>
<circle cx="432.2" cy="150.3" r="1.35"/>
<circle cx="434.8" cy="153.0" r="1.35"/>
<circle cx="435.6" cy="152.6" r="1.35"/>
<circle cx="435.7" cy="152.7" r="1.35"/>
<circle cx="435.8" cy="152.5" r="1.35"/>
<circle cx="440.8" cy="137.1" r="1.35"/>
<circle cx="442.6" cy="140.3" r="1.35"/>
<circle cx="426.5" cy="138.9" r="1.35"/>
<circle cx="435.9" cy="151.7" r="1.35"/>
<circle cx="440.6" cy="147.4" r="1.35"/>
<circle cx="431.4" cy="144.5" r="1.35"/>
<circle cx="436.7" cy="150.9" r="1.35"/>
<circle cx="436.2" cy="152.1" r="1.35"/>
<circle cx="435.8" cy="152.6" r="1.35"/>
<circle cx="439.0" cy="146.9" r="1.35"/>
<circle cx="438.0" cy="147.0" r="1.35"/>
<circle cx="430.0" cy="149.1" r="1.35"/>
<circle cx="434.8" cy="153.0" r="1.35"/>
<circle cx="438.4" cy="150.2" r="1.35"/>
<circle cx="438.3" cy="150.1" r="1.35"/>
<circle cx="433.6" cy="152.0" r="1.35"/>
<circle cx="433.9" cy="151.3" r="1.35"/>
<circle cx="434.6" cy="152.6" r="1.35"/>
<circle cx="429.5" cy="148.4" r="1.35"/>
<circle cx="428.5" cy="141.8" r="1.35"/>
<circle cx="442.0" cy="144.8" r="1.35"/>
<circle cx="433.3" cy="151.7" r="1.35"/>
<circle cx="435.7" cy="152.5" r="1.35"/>
<circle cx="431.4" cy="145.3" r="1.35"/>
<circle cx="440.9" cy="146.2" r="1.35"/>
<circle cx="442.8" cy="141.7" r="1.35"/>
<circle cx="434.2" cy="152.2" r="1.35"/>
<circle cx="437.5" cy="150.3" r="1.35"/>
<circle cx="431.4" cy="149.3" r="1.35"/>
<circle cx="439.3" cy="147.3" r="1.35"/>
<circle cx="430.9" cy="146.0" r="1.35"/>
<circle cx="440.7" cy="146.0" r="1.35"/>
<circle cx="436.9" cy="150.3" r="1.35"/>
<circle cx="437.1" cy="150.8" r="1.35"/>
<circle cx="436.8" cy="151.2" r="1.35"/>
<circle cx="431.8" cy="147.6" r="1.35"/>
<circle cx="432.5" cy="149.5" r="1.35"/>
<circle cx="438.0" cy="150.1" r="1.35"/>
<circle cx="435.1" cy="153.1" r="1.35"/>
<circle cx="430.3" cy="149.4" r="1.35"/>
<circle cx="444.0" cy="141.7" r="1.35"/>
<circle cx="434.3" cy="152.5" r="1.35"/>
<circle cx="432.4" cy="151.3" r="1.35"/>
<circle cx="431.6" cy="150.7" r="1.35"/>
<circle cx="438.3" cy="149.6" r="1.35"/>
<circle cx="439.5" cy="147.7" r="1.35"/>
<circle cx="436.3" cy="152.2" r="1.35"/>
<circle cx="439.0" cy="147.6" r="1.35"/>
<circle cx="427.4" cy="145.6" r="1.35"/>
<circle cx="433.4" cy="150.7" r="1.35"/>
<circle cx="432.8" cy="149.8" r="1.35"/>
<circle cx="435.3" cy="152.8" r="1.35"/>
<circle cx="437.4" cy="150.6" r="1.35"/>
<circle cx="424.5" cy="132.8" r="1.35"/>
<circle cx="430.7" cy="143.8" r="1.35"/>
<circle cx="436.7" cy="150.0" r="1.35"/>
<circle cx="438.8" cy="150.1" r="1.35"/>
<circle cx="438.9" cy="149.8" r="1.35"/>
<circle cx="436.3" cy="152.2" r="1.35"/>
</g>
</g>
<rect x="361.5" y="25.5" width="147" height="134" fill="none" stroke="#787878" stroke-width="1"/>
<line x1="368.18" y1="159.5" x2="368.18" y2="161.7" stroke="#787878" stroke-width="0.6"/>
<text x="368.18" y="167.6" font-size="6.6" fill="#444" stroke="#444" text-anchor="middle">-2</text>
<line x1="401.59" y1="159.5" x2="401.59" y2="161.7" stroke="#787878" stroke-width="0.6"/>
<text x="401.59" y="167.6" font-size="6.6" fill="#444" stroke="#444" text-anchor="middle">-1</text>
<line x1="435" y1="159.5" x2="435" y2="161.7" stroke="#787878" stroke-width="0.6"/>
<text x="435" y="167.6" font-size="6.6" fill="#444" stroke="#444" text-anchor="middle">0</text>
<line x1="468.41" y1="159.5" x2="468.41" y2="161.7" stroke="#787878" stroke-width="0.6"/>
<text x="468.41" y="167.6" font-size="6.6" fill="#444" stroke="#444" text-anchor="middle">1</text>
<line x1="501.82" y1="159.5" x2="501.82" y2="161.7" stroke="#787878" stroke-width="0.6"/>
<text x="501.82" y="167.6" font-size="6.6" fill="#444" stroke="#444" text-anchor="middle">2</text>
<line x1="359.3" y1="153.2" x2="361.5" y2="153.2" stroke="#787878" stroke-width="0.6"/>
<text x="358.7" y="155.6" font-size="6.6" fill="#444" stroke="#444" text-anchor="end">0</text>
<line x1="359.3" y1="115.9" x2="361.5" y2="115.9" stroke="#787878" stroke-width="0.6"/>
<text x="358.7" y="118.3" font-size="6.6" fill="#444" stroke="#444" text-anchor="end">2</text>
<line x1="359.3" y1="78.6" x2="361.5" y2="78.6" stroke="#787878" stroke-width="0.6"/>
<text x="358.7" y="81" font-size="6.6" fill="#444" stroke="#444" text-anchor="end">4</text>
<line x1="359.3" y1="41.3" x2="361.5" y2="41.3" stroke="#787878" stroke-width="0.6"/>
<text x="358.7" y="43.7" font-size="6.6" fill="#444" stroke="#444" text-anchor="end">6</text>
<text y="176.4" font-size="8" fill="#1a1a1a" stroke="#1a1a1a"><tspan x="407.5">Log</tspan><tspan x="421" dy="1.4" font-size="5.4">2</tspan><tspan x="426.1" dy="-1.4">FoldChange</tspan></text>
<text transform="translate(349.3,104.7) rotate(-90)" font-size="7.85" fill="#1a1a1a" stroke="#1a1a1a"><tspan x="0">−</tspan><tspan x="7.2">Log</tspan><tspan x="20.6" dy="1.5" font-size="5.3">10</tspan><tspan x="29.2" dy="-1.5" font-style="italic">P</tspan></text>
<line x1="407.5" y1="66" x2="407.5" y2="68.5" stroke="#AA2020" stroke-width="0.6"/>
<circle cx="407.5" cy="68.5" r="1.25" fill="none" stroke="#AA2020" stroke-width="0.6"/>
<rect x="364.8" y="57.7" width="72.5" height="8.3" rx="1.2" fill="#fff" stroke="#AA2020" stroke-width="0.7"/>
<text x="401.05" y="64.05" font-size="6.4" fill="#AA2020" stroke="#AA2020" text-anchor="middle"><tspan font-style="italic">CAG-452 sp000434035</tspan></text>
<line x1="459" y1="81.3" x2="459" y2="87" stroke="#4682B4" stroke-width="0.6"/>
<circle cx="459" cy="87" r="1.25" fill="none" stroke="#4682B4" stroke-width="0.6"/>
<rect x="399" y="72.6" width="95.2" height="8.7" rx="1.2" fill="#fff" stroke="#4682B4" stroke-width="0.7"/>
<text x="446.6" y="79.15" font-size="6.4" fill="#4682B4" stroke="#4682B4" text-anchor="middle"><tspan font-style="italic">Ruminococcus</tspan> C sp000433635</text>
<line x1="457" y1="89" x2="457" y2="89" stroke="#4682B4" stroke-width="0.6"/>
<circle cx="457" cy="89" r="1.25" fill="none" stroke="#4682B4" stroke-width="0.6"/>
<rect x="434" y="88.3" width="71.6" height="8.3" rx="1.2" fill="#fff" stroke="#4682B4" stroke-width="0.7"/>
<text x="469.8" y="94.65" font-size="6.4" fill="#4682B4" stroke="#4682B4" text-anchor="middle">CAG-533 sp900551105</text>
<line x1="414" y1="108" x2="414" y2="112" stroke="#AA2020" stroke-width="0.6"/>
<circle cx="414" cy="112" r="1.25" fill="none" stroke="#AA2020" stroke-width="0.6"/>
<rect x="363.3" y="99.7" width="83.2" height="8.3" rx="1.2" fill="#fff" stroke="#AA2020" stroke-width="0.7"/>
<text x="404.9" y="106.05" font-size="6.4" fill="#AA2020" stroke="#AA2020" text-anchor="middle"><tspan font-style="italic">Agathobacter</tspan> sp900546825</text>
<line x1="416" y1="118.3" x2="416" y2="115" stroke="#AA2020" stroke-width="0.6"/>
<circle cx="416" cy="115" r="1.25" fill="none" stroke="#AA2020" stroke-width="0.6"/>
<rect x="379.3" y="118.3" width="57.8" height="8.8" rx="1.2" fill="#fff" stroke="#AA2020" stroke-width="0.7"/>
<text x="408.2" y="124.9" font-size="6.4" fill="#AA2020" stroke="#AA2020" text-anchor="middle"><tspan font-style="italic">Agathobacter sp.</tspan></text>
</g>
<g>
<clipPath id="c4"><rect x="530.5" y="25.5" width="147" height="134"/></clipPath>
<text x="530" y="20.7" font-size="7.8" fill="#000" stroke="#000" text-anchor="start">Mother - Pn56  -  Interv. vs. Contr.</text>
<line x1="587.3" y1="25.5" x2="587.3" y2="159.5" stroke="#333" stroke-width="0.95" stroke-dasharray="1 2.33" fill="none"/>
<line x1="620.7" y1="25.5" x2="620.7" y2="159.5" stroke="#333" stroke-width="0.95" stroke-dasharray="1 2.33" fill="none"/>
<line x1="530.5" y1="132.62" x2="677.5" y2="132.62" stroke="#333" stroke-width="0.95" stroke-dasharray="1 2.33" fill="none"/>
<g clip-path="url(#c4)" fill="none" stroke-width="0.5">
<g stroke="#8E8E8E">
<circle cx="588.1" cy="99.6" r="1.35"/>
<circle cx="612.8" cy="128.8" r="1.35"/>
<circle cx="594.4" cy="126.0" r="1.35"/>
<circle cx="591.9" cy="131.9" r="1.35"/>
<circle cx="593.4" cy="122.2" r="1.35"/>
<circle cx="588.0" cy="122.6" r="1.35"/>
<circle cx="594.3" cy="130.3" r="1.35"/>
<circle cx="586.5" cy="130.2" r="1.35"/>
<circle cx="589.3" cy="111.0" r="1.35"/>
<circle cx="593.1" cy="129.0" r="1.35"/>
<circle cx="555.6" cy="46.0" r="1.35"/>
<circle cx="568.9" cy="49.2" r="1.35"/>
<circle cx="568.9" cy="71.6" r="1.35"/>
<circle cx="647.4" cy="31.5" r="1.35"/>
<circle cx="639.1" cy="47.6" r="1.35"/>
<circle cx="634.7" cy="69.2" r="1.35"/>
<circle cx="578.9" cy="78.9" r="1.35"/>
<circle cx="628.1" cy="84.5" r="1.35"/>
<circle cx="625.7" cy="89.3" r="1.35"/>
<circle cx="624.0" cy="94.1" r="1.35"/>
<circle cx="584.0" cy="96.5" r="1.35"/>
<circle cx="593.4" cy="126.4" r="1.35"/>
<circle cx="588.4" cy="124.5" r="1.35"/>
<circle cx="591.3" cy="113.0" r="1.35"/>
<circle cx="589.3" cy="115.0" r="1.35"/>
<circle cx="589.9" cy="123.1" r="1.35"/>
<circle cx="591.1" cy="130.9" r="1.35"/>
<circle cx="589.0" cy="119.6" r="1.35"/>
<circle cx="588.5" cy="102.1" r="1.35"/>
<circle cx="589.7" cy="111.3" r="1.35"/>
<circle cx="590.2" cy="104.5" r="1.35"/>
<circle cx="593.5" cy="125.9" r="1.35"/>
<circle cx="590.0" cy="120.9" r="1.35"/>
<circle cx="588.7" cy="91.7" r="1.35"/>
<circle cx="588.6" cy="120.7" r="1.35"/>
<circle cx="593.0" cy="132.0" r="1.35"/>
<circle cx="586.1" cy="100.0" r="1.35"/>
<circle cx="589.1" cy="116.9" r="1.35"/>
<circle cx="589.6" cy="105.2" r="1.35"/>
<circle cx="590.3" cy="128.8" r="1.35"/>
<circle cx="592.4" cy="129.0" r="1.35"/>
<circle cx="589.4" cy="130.5" r="1.35"/>
<circle cx="590.4" cy="128.8" r="1.35"/>
<circle cx="591.7" cy="123.7" r="1.35"/>
<circle cx="594.1" cy="130.0" r="1.35"/>
<circle cx="587.4" cy="110.9" r="1.35"/>
<circle cx="593.7" cy="125.4" r="1.35"/>
<circle cx="587.5" cy="93.2" r="1.35"/>
<circle cx="594.7" cy="125.0" r="1.35"/>
<circle cx="590.7" cy="126.0" r="1.35"/>
<circle cx="590.2" cy="125.0" r="1.35"/>
<circle cx="586.8" cy="87.1" r="1.35"/>
<circle cx="586.7" cy="104.1" r="1.35"/>
<circle cx="590.6" cy="119.5" r="1.35"/>
<circle cx="590.3" cy="120.2" r="1.35"/>
<circle cx="588.5" cy="87.4" r="1.35"/>
<circle cx="588.0" cy="96.1" r="1.35"/>
<circle cx="589.6" cy="129.5" r="1.35"/>
<circle cx="589.8" cy="132.0" r="1.35"/>
<circle cx="589.5" cy="125.0" r="1.35"/>
<circle cx="587.7" cy="124.7" r="1.35"/>
<circle cx="587.8" cy="127.4" r="1.35"/>
<circle cx="593.7" cy="118.5" r="1.35"/>
<circle cx="589.0" cy="119.8" r="1.35"/>
<circle cx="590.2" cy="101.2" r="1.35"/>
<circle cx="588.6" cy="115.4" r="1.35"/>
<circle cx="591.1" cy="130.7" r="1.35"/>
<circle cx="587.2" cy="116.6" r="1.35"/>
<circle cx="591.8" cy="115.0" r="1.35"/>
<circle cx="590.6" cy="126.7" r="1.35"/>
<circle cx="593.5" cy="123.3" r="1.35"/>
<circle cx="588.8" cy="116.7" r="1.35"/>
<circle cx="592.1" cy="116.7" r="1.35"/>
<circle cx="589.8" cy="95.3" r="1.35"/>
<circle cx="587.8" cy="118.7" r="1.35"/>
<circle cx="589.5" cy="106.8" r="1.35"/>
<circle cx="588.4" cy="117.3" r="1.35"/>
<circle cx="589.4" cy="127.0" r="1.35"/>
<circle cx="589.1" cy="108.3" r="1.35"/>
<circle cx="592.3" cy="124.1" r="1.35"/>
<circle cx="589.8" cy="97.1" r="1.35"/>
<circle cx="586.2" cy="90.7" r="1.35"/>
<circle cx="593.2" cy="129.7" r="1.35"/>
<circle cx="590.6" cy="114.0" r="1.35"/>
<circle cx="589.6" cy="113.5" r="1.35"/>
<circle cx="618.7" cy="114.8" r="1.35"/>
<circle cx="612.3" cy="129.8" r="1.35"/>
<circle cx="624.9" cy="91.5" r="1.35"/>
<circle cx="616.5" cy="122.2" r="1.35"/>
<circle cx="614.8" cy="119.9" r="1.35"/>
<circle cx="617.0" cy="123.5" r="1.35"/>
<circle cx="617.5" cy="129.5" r="1.35"/>
<circle cx="621.0" cy="102.2" r="1.35"/>
<circle cx="614.8" cy="129.0" r="1.35"/>
<circle cx="615.9" cy="124.5" r="1.35"/>
<circle cx="616.2" cy="124.1" r="1.35"/>
<circle cx="624.8" cy="94.7" r="1.35"/>
<circle cx="624.6" cy="95.9" r="1.35"/>
<circle cx="616.2" cy="107.8" r="1.35"/>
<circle cx="620.8" cy="111.6" r="1.35"/>
<circle cx="620.2" cy="103.8" r="1.35"/>
<circle cx="618.1" cy="127.0" r="1.35"/>
<circle cx="617.1" cy="122.4" r="1.35"/>
<circle cx="617.3" cy="125.3" r="1.35"/>
<circle cx="614.3" cy="127.7" r="1.35"/>
<circle cx="618.0" cy="105.5" r="1.35"/>
<circle cx="625.0" cy="86.4" r="1.35"/>
<circle cx="615.8" cy="131.9" r="1.35"/>
<circle cx="616.3" cy="128.0" r="1.35"/>
<circle cx="617.9" cy="121.2" r="1.35"/>
<circle cx="614.5" cy="132.3" r="1.35"/>
<circle cx="616.1" cy="128.9" r="1.35"/>
<circle cx="618.2" cy="108.4" r="1.35"/>
<circle cx="619.0" cy="109.7" r="1.35"/>
<circle cx="612.2" cy="129.1" r="1.35"/>
<circle cx="617.4" cy="117.3" r="1.35"/>
<circle cx="613.7" cy="131.4" r="1.35"/>
<circle cx="619.3" cy="109.7" r="1.35"/>
<circle cx="617.1" cy="126.7" r="1.35"/>
<circle cx="615.6" cy="126.1" r="1.35"/>
<circle cx="609.7" cy="130.1" r="1.35"/>
<circle cx="622.7" cy="104.6" r="1.35"/>
<circle cx="620.8" cy="104.1" r="1.35"/>
<circle cx="618.1" cy="120.3" r="1.35"/>
<circle cx="616.7" cy="115.2" r="1.35"/>
<circle cx="619.7" cy="113.9" r="1.35"/>
<circle cx="620.7" cy="114.4" r="1.35"/>
<circle cx="611.6" cy="131.3" r="1.35"/>
<circle cx="616.5" cy="130.7" r="1.35"/>
<circle cx="612.9" cy="130.5" r="1.35"/>
<circle cx="623.5" cy="85.3" r="1.35"/>
<circle cx="616.0" cy="124.0" r="1.35"/>
<circle cx="620.2" cy="120.8" r="1.35"/>
<circle cx="613.1" cy="123.3" r="1.35"/>
<circle cx="621.6" cy="94.6" r="1.35"/>
<circle cx="623.6" cy="91.1" r="1.35"/>
<circle cx="626.3" cy="83.4" r="1.35"/>
<circle cx="615.1" cy="127.0" r="1.35"/>
<circle cx="615.9" cy="127.6" r="1.35"/>
<circle cx="613.2" cy="128.5" r="1.35"/>
<circle cx="620.8" cy="108.4" r="1.35"/>
<circle cx="617.1" cy="126.6" r="1.35"/>
<circle cx="615.3" cy="118.7" r="1.35"/>
<circle cx="615.4" cy="120.8" r="1.35"/>
<circle cx="620.6" cy="106.6" r="1.35"/>
<circle cx="617.3" cy="120.7" r="1.35"/>
<circle cx="615.5" cy="129.8" r="1.35"/>
<circle cx="613.9" cy="124.2" r="1.35"/>
<circle cx="614.0" cy="129.7" r="1.35"/>
<circle cx="615.4" cy="123.1" r="1.35"/>
</g>
<g stroke="#8B1A1A">
<circle cx="587.2" cy="133.1" r="1.35"/>
</g>
<g stroke="#4682B4">
</g>
<g stroke="#000">
<circle cx="600.5" cy="151.0" r="1.35"/>
<circle cx="603.1" cy="152.8" r="1.35"/>
<circle cx="611.6" cy="137.6" r="1.35"/>
<circle cx="607.0" cy="150.8" r="1.35"/>
<circle cx="595.2" cy="145.0" r="1.35"/>
<circle cx="604.0" cy="153.5" r="1.35"/>
<circle cx="600.7" cy="148.3" r="1.35"/>
<circle cx="604.7" cy="152.7" r="1.35"/>
<circle cx="595.4" cy="143.2" r="1.35"/>
<circle cx="605.1" cy="152.6" r="1.35"/>
<circle cx="605.1" cy="152.1" r="1.35"/>
<circle cx="611.2" cy="138.8" r="1.35"/>
<circle cx="605.4" cy="151.5" r="1.35"/>
<circle cx="606.3" cy="151.1" r="1.35"/>
<circle cx="596.0" cy="139.9" r="1.35"/>
<circle cx="614.2" cy="137.5" r="1.35"/>
<circle cx="593.8" cy="143.5" r="1.35"/>
<circle cx="609.0" cy="147.9" r="1.35"/>
<circle cx="602.2" cy="151.6" r="1.35"/>
<circle cx="599.3" cy="147.7" r="1.35"/>
<circle cx="600.5" cy="150.2" r="1.35"/>
<circle cx="600.4" cy="150.8" r="1.35"/>
<circle cx="605.7" cy="151.8" r="1.35"/>
<circle cx="603.4" cy="153.1" r="1.35"/>
<circle cx="610.7" cy="146.8" r="1.35"/>
<circle cx="594.2" cy="141.7" r="1.35"/>
<circle cx="604.0" cy="153.5" r="1.35"/>
<circle cx="599.2" cy="148.7" r="1.35"/>
<circle cx="607.5" cy="149.8" r="1.35"/>
<circle cx="602.2" cy="151.9" r="1.35"/>
<circle cx="605.0" cy="152.2" r="1.35"/>
<circle cx="596.1" cy="145.4" r="1.35"/>
<circle cx="608.5" cy="147.0" r="1.35"/>
<circle cx="604.8" cy="152.9" r="1.35"/>
<circle cx="608.6" cy="148.8" r="1.35"/>
<circle cx="608.4" cy="148.1" r="1.35"/>
<circle cx="598.8" cy="148.5" r="1.35"/>
<circle cx="599.7" cy="150.3" r="1.35"/>
<circle cx="602.9" cy="152.6" r="1.35"/>
<circle cx="607.4" cy="150.1" r="1.35"/>
<circle cx="607.9" cy="149.6" r="1.35"/>
<circle cx="600.2" cy="146.4" r="1.35"/>
<circle cx="600.8" cy="149.1" r="1.35"/>
<circle cx="599.7" cy="149.9" r="1.35"/>
<circle cx="600.9" cy="148.6" r="1.35"/>
<circle cx="602.7" cy="152.1" r="1.35"/>
<circle cx="603.3" cy="153.0" r="1.35"/>
<circle cx="613.4" cy="145.1" r="1.35"/>
<circle cx="601.3" cy="150.7" r="1.35"/>
<circle cx="602.5" cy="151.4" r="1.35"/>
<circle cx="606.1" cy="151.9" r="1.35"/>
<circle cx="598.9" cy="149.5" r="1.35"/>
<circle cx="602.0" cy="151.6" r="1.35"/>
<circle cx="604.1" cy="153.5" r="1.35"/>
<circle cx="607.5" cy="148.7" r="1.35"/>
<circle cx="597.0" cy="146.8" r="1.35"/>
<circle cx="610.2" cy="139.0" r="1.35"/>
<circle cx="602.1" cy="152.2" r="1.35"/>
<circle cx="604.8" cy="152.8" r="1.35"/>
<circle cx="607.8" cy="149.7" r="1.35"/>
<circle cx="607.0" cy="150.8" r="1.35"/>
<circle cx="608.8" cy="147.8" r="1.35"/>
<circle cx="604.8" cy="152.7" r="1.35"/>
<circle cx="603.9" cy="153.4" r="1.35"/>
<circle cx="605.4" cy="152.2" r="1.35"/>
<circle cx="598.7" cy="149.2" r="1.35"/>
<circle cx="609.5" cy="148.7" r="1.35"/>
<circle cx="599.9" cy="147.2" r="1.35"/>
<circle cx="597.3" cy="146.4" r="1.35"/>
<circle cx="613.3" cy="144.1" r="1.35"/>
<circle cx="603.3" cy="152.6" r="1.35"/>
<circle cx="597.7" cy="145.7" r="1.35"/>
<circle cx="612.4" cy="142.0" r="1.35"/>
<circle cx="602.2" cy="152.0" r="1.35"/>
<circle cx="608.8" cy="144.9" r="1.35"/>
<circle cx="599.6" cy="148.7" r="1.35"/>
<circle cx="602.7" cy="152.3" r="1.35"/>
<circle cx="595.0" cy="144.1" r="1.35"/>
<circle cx="593.8" cy="140.8" r="1.35"/>
<circle cx="598.8" cy="149.0" r="1.35"/>
<circle cx="603.6" cy="153.1" r="1.35"/>
<circle cx="607.6" cy="150.0" r="1.35"/>
<circle cx="598.5" cy="148.3" r="1.35"/>
<circle cx="608.6" cy="150.0" r="1.35"/>
<circle cx="600.8" cy="150.8" r="1.35"/>
<circle cx="603.2" cy="152.9" r="1.35"/>
<circle cx="596.1" cy="143.1" r="1.35"/>
<circle cx="596.1" cy="146.4" r="1.35"/>
<circle cx="599.8" cy="149.7" r="1.35"/>
<circle cx="597.6" cy="148.1" r="1.35"/>
<circle cx="604.0" cy="153.5" r="1.35"/>
<circle cx="600.2" cy="150.1" r="1.35"/>
<circle cx="609.7" cy="145.3" r="1.35"/>
<circle cx="604.7" cy="152.6" r="1.35"/>
<circle cx="604.8" cy="152.7" r="1.35"/>
<circle cx="609.2" cy="148.3" r="1.35"/>
<circle cx="606.4" cy="149.9" r="1.35"/>
<circle cx="603.8" cy="153.2" r="1.35"/>
<circle cx="603.5" cy="153.1" r="1.35"/>
<circle cx="603.4" cy="152.9" r="1.35"/>
<circle cx="608.9" cy="147.9" r="1.35"/>
<circle cx="607.6" cy="147.5" r="1.35"/>
<circle cx="605.7" cy="150.9" r="1.35"/>
<circle cx="607.6" cy="149.1" r="1.35"/>
<circle cx="601.1" cy="151.1" r="1.35"/>
<circle cx="606.3" cy="150.7" r="1.35"/>
<circle cx="596.5" cy="144.3" r="1.35"/>
<circle cx="610.1" cy="144.8" r="1.35"/>
<circle cx="604.4" cy="153.0" r="1.35"/>
<circle cx="604.8" cy="152.8" r="1.35"/>
<circle cx="606.7" cy="149.9" r="1.35"/>
<circle cx="603.9" cy="153.5" r="1.35"/>
<circle cx="602.6" cy="151.9" r="1.35"/>
<circle cx="609.4" cy="145.1" r="1.35"/>
<circle cx="604.5" cy="152.8" r="1.35"/>
<circle cx="599.1" cy="146.2" r="1.35"/>
<circle cx="606.0" cy="151.8" r="1.35"/>
<circle cx="594.9" cy="141.8" r="1.35"/>
<circle cx="611.5" cy="145.3" r="1.35"/>
<circle cx="603.1" cy="152.8" r="1.35"/>
<circle cx="604.2" cy="153.4" r="1.35"/>
<circle cx="614.3" cy="138.0" r="1.35"/>
<circle cx="613.8" cy="139.2" r="1.35"/>
<circle cx="604.5" cy="153.1" r="1.35"/>
<circle cx="606.8" cy="148.4" r="1.35"/>
<circle cx="609.0" cy="147.5" r="1.35"/>
<circle cx="611.6" cy="141.4" r="1.35"/>
<circle cx="603.3" cy="153.0" r="1.35"/>
<circle cx="604.6" cy="152.6" r="1.35"/>
<circle cx="609.6" cy="145.8" r="1.35"/>
<circle cx="605.2" cy="152.7" r="1.35"/>
<circle cx="607.4" cy="148.4" r="1.35"/>
<circle cx="606.8" cy="151.3" r="1.35"/>
<circle cx="597.9" cy="147.8" r="1.35"/>
<circle cx="599.4" cy="146.3" r="1.35"/>
<circle cx="602.6" cy="152.4" r="1.35"/>
<circle cx="610.1" cy="140.9" r="1.35"/>
<circle cx="598.1" cy="140.8" r="1.35"/>
<circle cx="609.6" cy="148.7" r="1.35"/>
<circle cx="608.5" cy="147.1" r="1.35"/>
<circle cx="603.7" cy="153.2" r="1.35"/>
<circle cx="604.0" cy="153.5" r="1.35"/>
<circle cx="604.4" cy="153.1" r="1.35"/>
<circle cx="599.4" cy="150.0" r="1.35"/>
<circle cx="602.5" cy="152.0" r="1.35"/>
<circle cx="603.8" cy="153.3" r="1.35"/>
<circle cx="606.8" cy="150.1" r="1.35"/>
<circle cx="607.6" cy="146.7" r="1.35"/>
<circle cx="600.0" cy="150.0" r="1.35"/>
<circle cx="607.8" cy="150.8" r="1.35"/>
<circle cx="599.8" cy="147.2" r="1.35"/>
<circle cx="603.1" cy="152.8" r="1.35"/>
<circle cx="605.7" cy="152.0" r="1.35"/>
<circle cx="603.9" cy="153.4" r="1.35"/>
<circle cx="603.3" cy="152.9" r="1.35"/>
<circle cx="605.2" cy="152.5" r="1.35"/>
<circle cx="601.0" cy="150.6" r="1.35"/>
<circle cx="600.5" cy="150.3" r="1.35"/>
<circle cx="602.9" cy="152.3" r="1.35"/>
<circle cx="608.4" cy="149.9" r="1.35"/>
<circle cx="603.5" cy="153.1" r="1.35"/>
<circle cx="612.7" cy="142.3" r="1.35"/>
<circle cx="605.0" cy="152.4" r="1.35"/>
<circle cx="601.7" cy="151.6" r="1.35"/>
<circle cx="611.6" cy="146.5" r="1.35"/>
<circle cx="604.0" cy="153.5" r="1.35"/>
<circle cx="601.7" cy="151.1" r="1.35"/>
<circle cx="599.3" cy="146.6" r="1.35"/>
<circle cx="610.0" cy="145.8" r="1.35"/>
<circle cx="608.6" cy="146.6" r="1.35"/>
<circle cx="607.1" cy="148.8" r="1.35"/>
<circle cx="605.9" cy="151.9" r="1.35"/>
<circle cx="610.5" cy="139.9" r="1.35"/>
<circle cx="607.7" cy="147.6" r="1.35"/>
<circle cx="597.4" cy="145.5" r="1.35"/>
<circle cx="607.5" cy="150.4" r="1.35"/>
<circle cx="604.8" cy="153.0" r="1.35"/>
<circle cx="603.4" cy="153.0" r="1.35"/>
<circle cx="607.5" cy="150.1" r="1.35"/>
<circle cx="604.1" cy="153.4" r="1.35"/>
<circle cx="588.3" cy="136.0" r="1.35"/>
<circle cx="611.1" cy="147.2" r="1.35"/>
<circle cx="608.7" cy="149.6" r="1.35"/>
<circle cx="603.3" cy="152.9" r="1.35"/>
<circle cx="602.0" cy="151.4" r="1.35"/>
<circle cx="605.0" cy="152.4" r="1.35"/>
<circle cx="597.1" cy="142.3" r="1.35"/>
<circle cx="605.4" cy="151.9" r="1.35"/>
<circle cx="602.8" cy="151.7" r="1.35"/>
<circle cx="602.1" cy="151.7" r="1.35"/>
<circle cx="599.1" cy="148.4" r="1.35"/>
<circle cx="600.4" cy="150.5" r="1.35"/>
<circle cx="609.0" cy="148.1" r="1.35"/>
<circle cx="610.1" cy="142.9" r="1.35"/>
<circle cx="606.3" cy="151.2" r="1.35"/>
<circle cx="603.8" cy="153.3" r="1.35"/>
<circle cx="599.3" cy="146.2" r="1.35"/>
<circle cx="607.3" cy="150.9" r="1.35"/>
<circle cx="611.3" cy="139.8" r="1.35"/>
<circle cx="595.4" cy="139.0" r="1.35"/>
<circle cx="609.3" cy="149.2" r="1.35"/>
<circle cx="592.4" cy="139.6" r="1.35"/>
<circle cx="602.2" cy="152.2" r="1.35"/>
<circle cx="605.7" cy="151.6" r="1.35"/>
<circle cx="596.7" cy="146.1" r="1.35"/>
<circle cx="595.9" cy="139.5" r="1.35"/>
<circle cx="604.8" cy="152.7" r="1.35"/>
<circle cx="608.0" cy="149.3" r="1.35"/>
<circle cx="601.5" cy="151.5" r="1.35"/>
<circle cx="610.1" cy="141.8" r="1.35"/>
<circle cx="599.8" cy="150.4" r="1.35"/>
<circle cx="612.0" cy="135.1" r="1.35"/>
<circle cx="604.5" cy="153.1" r="1.35"/>
<circle cx="605.1" cy="152.3" r="1.35"/>
<circle cx="606.8" cy="149.3" r="1.35"/>
<circle cx="605.5" cy="152.5" r="1.35"/>
<circle cx="612.4" cy="141.3" r="1.35"/>
<circle cx="614.0" cy="143.1" r="1.35"/>
<circle cx="606.5" cy="150.7" r="1.35"/>
<circle cx="603.1" cy="152.4" r="1.35"/>
<circle cx="597.7" cy="143.5" r="1.35"/>
<circle cx="600.0" cy="149.4" r="1.35"/>
<circle cx="604.0" cy="153.5" r="1.35"/>
<circle cx="603.5" cy="153.0" r="1.35"/>
<circle cx="603.8" cy="153.3" r="1.35"/>
<circle cx="604.0" cy="153.5" r="1.35"/>
<circle cx="606.3" cy="151.3" r="1.35"/>
<circle cx="596.8" cy="143.1" r="1.35"/>
<circle cx="598.5" cy="146.3" r="1.35"/>
<circle cx="609.1" cy="148.2" r="1.35"/>
<circle cx="607.8" cy="150.3" r="1.35"/>
<circle cx="601.1" cy="149.7" r="1.35"/>
<circle cx="609.9" cy="145.2" r="1.35"/>
<circle cx="600.4" cy="149.8" r="1.35"/>
<circle cx="602.7" cy="152.5" r="1.35"/>
<circle cx="594.2" cy="140.4" r="1.35"/>
<circle cx="607.8" cy="147.0" r="1.35"/>
<circle cx="604.0" cy="153.5" r="1.35"/>
<circle cx="608.9" cy="146.3" r="1.35"/>
<circle cx="607.2" cy="150.6" r="1.35"/>
<circle cx="604.5" cy="153.2" r="1.35"/>
<circle cx="604.8" cy="152.4" r="1.35"/>
<circle cx="609.5" cy="148.3" r="1.35"/>
<circle cx="603.2" cy="152.9" r="1.35"/>
<circle cx="603.2" cy="152.9" r="1.35"/>
<circle cx="604.4" cy="153.2" r="1.35"/>
<circle cx="607.7" cy="148.0" r="1.35"/>
<circle cx="608.3" cy="150.3" r="1.35"/>
<circle cx="603.7" cy="153.3" r="1.35"/>
<circle cx="609.9" cy="148.2" r="1.35"/>
<circle cx="600.7" cy="151.0" r="1.35"/>
<circle cx="606.9" cy="148.6" r="1.35"/>
<circle cx="604.7" cy="153.0" r="1.35"/>
<circle cx="612.1" cy="145.5" r="1.35"/>
<circle cx="606.9" cy="151.1" r="1.35"/>
<circle cx="601.8" cy="150.9" r="1.35"/>
<circle cx="606.8" cy="149.7" r="1.35"/>
<circle cx="605.8" cy="150.9" r="1.35"/>
<circle cx="602.5" cy="152.4" r="1.35"/>
<circle cx="602.7" cy="152.5" r="1.35"/>
<circle cx="599.2" cy="144.9" r="1.35"/>
<circle cx="604.8" cy="152.6" r="1.35"/>
<circle cx="608.6" cy="146.3" r="1.35"/>
<circle cx="598.0" cy="146.0" r="1.35"/>
<circle cx="598.5" cy="148.1" r="1.35"/>
<circle cx="603.4" cy="153.1" r="1.35"/>
<circle cx="603.5" cy="152.9" r="1.35"/>
<circle cx="607.9" cy="148.9" r="1.35"/>
<circle cx="598.9" cy="143.4" r="1.35"/>
<circle cx="606.7" cy="150.5" r="1.35"/>
<circle cx="611.1" cy="138.7" r="1.35"/>
<circle cx="599.4" cy="144.9" r="1.35"/>
<circle cx="608.4" cy="147.6" r="1.35"/>
<circle cx="599.1" cy="145.3" r="1.35"/>
<circle cx="605.8" cy="150.9" r="1.35"/>
<circle cx="605.9" cy="150.8" r="1.35"/>
<circle cx="612.1" cy="144.1" r="1.35"/>
<circle cx="600.6" cy="147.9" r="1.35"/>
<circle cx="605.0" cy="152.3" r="1.35"/>
<circle cx="609.0" cy="149.2" r="1.35"/>
<circle cx="598.0" cy="145.2" r="1.35"/>
<circle cx="604.2" cy="153.3" r="1.35"/>
<circle cx="599.6" cy="150.2" r="1.35"/>
<circle cx="600.5" cy="151.0" r="1.35"/>
<circle cx="607.3" cy="150.0" r="1.35"/>
<circle cx="607.4" cy="149.3" r="1.35"/>
<circle cx="615.9" cy="139.0" r="1.35"/>
<circle cx="610.5" cy="147.8" r="1.35"/>
<circle cx="610.1" cy="145.6" r="1.35"/>
<circle cx="603.4" cy="153.1" r="1.35"/>
<circle cx="602.7" cy="152.6" r="1.35"/>
<circle cx="604.8" cy="152.2" r="1.35"/>
<circle cx="592.1" cy="141.5" r="1.35"/>
<circle cx="611.7" cy="135.7" r="1.35"/>
<circle cx="600.7" cy="149.5" r="1.35"/>
<circle cx="598.6" cy="149.0" r="1.35"/>
<circle cx="601.8" cy="151.9" r="1.35"/>
<circle cx="608.2" cy="147.3" r="1.35"/>
<circle cx="609.8" cy="145.8" r="1.35"/>
<circle cx="602.2" cy="152.1" r="1.35"/>
<circle cx="606.1" cy="152.0" r="1.35"/>
<circle cx="603.9" cy="153.4" r="1.35"/>
<circle cx="598.9" cy="147.2" r="1.35"/>
<circle cx="604.9" cy="152.9" r="1.35"/>
<circle cx="604.3" cy="153.2" r="1.35"/>
<circle cx="595.9" cy="142.0" r="1.35"/>
<circle cx="609.1" cy="149.5" r="1.35"/>
<circle cx="595.8" cy="139.2" r="1.35"/>
<circle cx="605.2" cy="151.7" r="1.35"/>
<circle cx="598.5" cy="145.5" r="1.35"/>
<circle cx="599.8" cy="149.8" r="1.35"/>
<circle cx="600.4" cy="149.9" r="1.35"/>
<circle cx="607.3" cy="147.5" r="1.35"/>
<circle cx="597.4" cy="142.2" r="1.35"/>
<circle cx="603.1" cy="152.9" r="1.35"/>
<circle cx="611.2" cy="146.7" r="1.35"/>
<circle cx="600.4" cy="149.5" r="1.35"/>
<circle cx="603.9" cy="153.4" r="1.35"/>
<circle cx="607.1" cy="150.6" r="1.35"/>
<circle cx="601.0" cy="148.2" r="1.35"/>
<circle cx="606.2" cy="151.2" r="1.35"/>
<circle cx="600.6" cy="150.5" r="1.35"/>
<circle cx="607.3" cy="150.8" r="1.35"/>
<circle cx="604.4" cy="153.1" r="1.35"/>
<circle cx="599.1" cy="143.0" r="1.35"/>
<circle cx="610.5" cy="144.8" r="1.35"/>
<circle cx="603.6" cy="153.1" r="1.35"/>
<circle cx="602.6" cy="152.2" r="1.35"/>
<circle cx="599.1" cy="145.4" r="1.35"/>
<circle cx="601.6" cy="150.6" r="1.35"/>
<circle cx="603.6" cy="153.1" r="1.35"/>
<circle cx="604.9" cy="152.5" r="1.35"/>
<circle cx="609.1" cy="147.1" r="1.35"/>
<circle cx="597.0" cy="136.5" r="1.35"/>
<circle cx="602.2" cy="151.8" r="1.35"/>
<circle cx="609.5" cy="146.3" r="1.35"/>
<circle cx="604.9" cy="152.9" r="1.35"/>
<circle cx="605.9" cy="152.1" r="1.35"/>
<circle cx="611.3" cy="135.0" r="1.35"/>
<circle cx="605.6" cy="151.7" r="1.35"/>
<circle cx="606.2" cy="150.3" r="1.35"/>
<circle cx="603.9" cy="153.4" r="1.35"/>
<circle cx="612.1" cy="140.0" r="1.35"/>
<circle cx="608.8" cy="143.7" r="1.35"/>
<circle cx="600.2" cy="148.1" r="1.35"/>
<circle cx="606.5" cy="150.4" r="1.35"/>
<circle cx="597.9" cy="148.3" r="1.35"/>
<circle cx="609.0" cy="148.6" r="1.35"/>
<circle cx="607.1" cy="150.4" r="1.35"/>
<circle cx="603.2" cy="152.5" r="1.35"/>
<circle cx="601.9" cy="152.0" r="1.35"/>
<circle cx="607.5" cy="150.9" r="1.35"/>
<circle cx="603.4" cy="153.1" r="1.35"/>
<circle cx="602.4" cy="151.2" r="1.35"/>
<circle cx="607.3" cy="147.6" r="1.35"/>
<circle cx="600.5" cy="150.0" r="1.35"/>
<circle cx="600.9" cy="150.6" r="1.35"/>
<circle cx="600.3" cy="149.5" r="1.35"/>
<circle cx="596.8" cy="146.1" r="1.35"/>
<circle cx="615.0" cy="141.4" r="1.35"/>
<circle cx="603.0" cy="152.0" r="1.35"/>
<circle cx="602.1" cy="151.8" r="1.35"/>
<circle cx="608.1" cy="146.8" r="1.35"/>
<circle cx="603.8" cy="153.4" r="1.35"/>
<circle cx="604.0" cy="153.5" r="1.35"/>
<circle cx="598.8" cy="146.7" r="1.35"/>
<circle cx="606.1" cy="151.8" r="1.35"/>
<circle cx="604.0" cy="153.5" r="1.35"/>
<circle cx="607.9" cy="147.1" r="1.35"/>
<circle cx="596.0" cy="141.8" r="1.35"/>
<circle cx="602.9" cy="152.6" r="1.35"/>
<circle cx="603.5" cy="153.0" r="1.35"/>
<circle cx="600.1" cy="148.6" r="1.35"/>
<circle cx="605.2" cy="152.2" r="1.35"/>
<circle cx="604.6" cy="153.0" r="1.35"/>
<circle cx="596.2" cy="135.4" r="1.35"/>
<circle cx="602.8" cy="152.5" r="1.35"/>
<circle cx="596.5" cy="139.5" r="1.35"/>
<circle cx="592.1" cy="136.9" r="1.35"/>
<circle cx="590.3" cy="136.5" r="1.35"/>
<circle cx="608.0" cy="150.2" r="1.35"/>
<circle cx="602.5" cy="151.5" r="1.35"/>
<circle cx="612.1" cy="144.7" r="1.35"/>
<circle cx="595.3" cy="141.9" r="1.35"/>
<circle cx="601.2" cy="148.7" r="1.35"/>
<circle cx="604.8" cy="152.5" r="1.35"/>
<circle cx="602.3" cy="151.1" r="1.35"/>
<circle cx="605.5" cy="151.8" r="1.35"/>
<circle cx="603.9" cy="153.4" r="1.35"/>
<circle cx="599.8" cy="148.9" r="1.35"/>
<circle cx="598.0" cy="144.9" r="1.35"/>
<circle cx="611.1" cy="147.2" r="1.35"/>
<circle cx="606.8" cy="151.2" r="1.35"/>
<circle cx="609.6" cy="149.0" r="1.35"/>
<circle cx="600.1" cy="149.7" r="1.35"/>
<circle cx="602.2" cy="151.8" r="1.35"/>
<circle cx="598.5" cy="147.5" r="1.35"/>
<circle cx="605.1" cy="151.9" r="1.35"/>
<circle cx="603.6" cy="153.2" r="1.35"/>
<circle cx="605.5" cy="151.6" r="1.35"/>
<circle cx="611.4" cy="147.2" r="1.35"/>
<circle cx="598.8" cy="149.2" r="1.35"/>
<circle cx="606.8" cy="149.9" r="1.35"/>
<circle cx="595.8" cy="143.5" r="1.35"/>
<circle cx="608.5" cy="149.4" r="1.35"/>
<circle cx="601.0" cy="150.9" r="1.35"/>
<circle cx="603.0" cy="152.6" r="1.35"/>
<circle cx="604.1" cy="153.4" r="1.35"/>
<circle cx="610.9" cy="147.4" r="1.35"/>
<circle cx="603.2" cy="152.7" r="1.35"/>
<circle cx="600.7" cy="147.4" r="1.35"/>
<circle cx="597.0" cy="146.8" r="1.35"/>
<circle cx="604.7" cy="153.0" r="1.35"/>
<circle cx="598.8" cy="142.6" r="1.35"/>
<circle cx="600.7" cy="149.6" r="1.35"/>
<circle cx="603.2" cy="152.8" r="1.35"/>
<circle cx="606.5" cy="150.2" r="1.35"/>
<circle cx="599.5" cy="149.7" r="1.35"/>
<circle cx="606.5" cy="149.9" r="1.35"/>
<circle cx="611.5" cy="144.3" r="1.35"/>
<circle cx="595.4" cy="145.3" r="1.35"/>
<circle cx="609.6" cy="148.5" r="1.35"/>
<circle cx="600.2" cy="148.3" r="1.35"/>
<circle cx="606.2" cy="150.0" r="1.35"/>
<circle cx="596.0" cy="140.9" r="1.35"/>
<circle cx="605.0" cy="152.8" r="1.35"/>
<circle cx="601.6" cy="149.5" r="1.35"/>
<circle cx="604.8" cy="152.6" r="1.35"/>
<circle cx="598.4" cy="146.3" r="1.35"/>
<circle cx="599.0" cy="147.5" r="1.35"/>
<circle cx="600.9" cy="149.7" r="1.35"/>
<circle cx="599.5" cy="149.1" r="1.35"/>
<circle cx="600.0" cy="147.0" r="1.35"/>
<circle cx="602.2" cy="152.1" r="1.35"/>
<circle cx="597.3" cy="144.9" r="1.35"/>
<circle cx="602.5" cy="152.2" r="1.35"/>
<circle cx="605.6" cy="152.3" r="1.35"/>
<circle cx="604.2" cy="153.3" r="1.35"/>
<circle cx="599.2" cy="149.3" r="1.35"/>
<circle cx="597.2" cy="144.2" r="1.35"/>
<circle cx="596.0" cy="143.0" r="1.35"/>
<circle cx="598.6" cy="147.9" r="1.35"/>
<circle cx="599.2" cy="146.0" r="1.35"/>
<circle cx="604.8" cy="152.9" r="1.35"/>
<circle cx="596.4" cy="136.2" r="1.35"/>
<circle cx="608.0" cy="150.5" r="1.35"/>
<circle cx="598.7" cy="148.2" r="1.35"/>
<circle cx="606.4" cy="150.4" r="1.35"/>
<circle cx="608.2" cy="149.9" r="1.35"/>
<circle cx="596.6" cy="146.4" r="1.35"/>
<circle cx="608.2" cy="148.7" r="1.35"/>
<circle cx="613.3" cy="142.3" r="1.35"/>
<circle cx="600.9" cy="148.2" r="1.35"/>
<circle cx="606.1" cy="151.4" r="1.35"/>
<circle cx="602.7" cy="152.7" r="1.35"/>
<circle cx="603.9" cy="153.4" r="1.35"/>
<circle cx="602.5" cy="152.0" r="1.35"/>
<circle cx="600.9" cy="150.9" r="1.35"/>
<circle cx="607.0" cy="149.7" r="1.35"/>
<circle cx="607.7" cy="146.6" r="1.35"/>
<circle cx="603.7" cy="153.2" r="1.35"/>
<circle cx="610.7" cy="147.8" r="1.35"/>
<circle cx="608.8" cy="149.4" r="1.35"/>
<circle cx="607.0" cy="151.3" r="1.35"/>
<circle cx="600.0" cy="146.2" r="1.35"/>
<circle cx="612.5" cy="137.5" r="1.35"/>
<circle cx="609.9" cy="148.6" r="1.35"/>
<circle cx="592.4" cy="141.8" r="1.35"/>
<circle cx="598.0" cy="146.0" r="1.35"/>
<circle cx="601.3" cy="148.8" r="1.35"/>
<circle cx="608.2" cy="149.3" r="1.35"/>
<circle cx="609.6" cy="148.8" r="1.35"/>
<circle cx="602.4" cy="151.8" r="1.35"/>
<circle cx="605.1" cy="152.8" r="1.35"/>
<circle cx="607.1" cy="147.8" r="1.35"/>
<circle cx="597.1" cy="146.8" r="1.35"/>
<circle cx="606.7" cy="149.3" r="1.35"/>
<circle cx="602.3" cy="152.3" r="1.35"/>
<circle cx="604.8" cy="152.7" r="1.35"/>
<circle cx="603.7" cy="153.3" r="1.35"/>
<circle cx="597.7" cy="139.3" r="1.35"/>
<circle cx="598.7" cy="148.3" r="1.35"/>
<circle cx="604.2" cy="153.3" r="1.35"/>
<circle cx="604.6" cy="153.0" r="1.35"/>
<circle cx="602.6" cy="152.2" r="1.35"/>
<circle cx="608.8" cy="149.3" r="1.35"/>
<circle cx="602.1" cy="151.5" r="1.35"/>
<circle cx="597.5" cy="140.3" r="1.35"/>
<circle cx="602.2" cy="151.9" r="1.35"/>
<circle cx="603.1" cy="152.1" r="1.35"/>
<circle cx="603.3" cy="152.6" r="1.35"/>
<circle cx="609.3" cy="147.4" r="1.35"/>
<circle cx="606.3" cy="151.2" r="1.35"/>
<circle cx="608.8" cy="144.4" r="1.35"/>
<circle cx="606.8" cy="149.0" r="1.35"/>
<circle cx="603.1" cy="152.9" r="1.35"/>
<circle cx="608.7" cy="148.9" r="1.35"/>
<circle cx="602.6" cy="152.0" r="1.35"/>
<circle cx="605.1" cy="152.7" r="1.35"/>
<circle cx="598.7" cy="144.4" r="1.35"/>
<circle cx="604.5" cy="153.2" r="1.35"/>
<circle cx="602.3" cy="151.1" r="1.35"/>
<circle cx="605.7" cy="152.3" r="1.35"/>
<circle cx="612.3" cy="143.1" r="1.35"/>
<circle cx="614.8" cy="134.3" r="1.35"/>
<circle cx="608.7" cy="146.2" r="1.35"/>
<circle cx="603.9" cy="153.4" r="1.35"/>
<circle cx="607.8" cy="148.9" r="1.35"/>
<circle cx="605.1" cy="152.7" r="1.35"/>
<circle cx="600.8" cy="150.5" r="1.35"/>
<circle cx="603.7" cy="153.2" r="1.35"/>
<circle cx="602.7" cy="151.9" r="1.35"/>
<circle cx="600.8" cy="151.1" r="1.35"/>
<circle cx="610.3" cy="143.2" r="1.35"/>
<circle cx="601.2" cy="149.8" r="1.35"/>
<circle cx="601.4" cy="151.3" r="1.35"/>
<circle cx="607.2" cy="150.4" r="1.35"/>
<circle cx="600.3" cy="149.1" r="1.35"/>
<circle cx="597.9" cy="144.4" r="1.35"/>
<circle cx="599.5" cy="150.0" r="1.35"/>
<circle cx="606.2" cy="151.3" r="1.35"/>
<circle cx="605.8" cy="150.9" r="1.35"/>
<circle cx="605.4" cy="151.9" r="1.35"/>
<circle cx="601.6" cy="151.8" r="1.35"/>
<circle cx="599.2" cy="144.8" r="1.35"/>
<circle cx="608.2" cy="149.2" r="1.35"/>
<circle cx="596.3" cy="133.7" r="1.35"/>
<circle cx="602.9" cy="152.7" r="1.35"/>
<circle cx="597.0" cy="143.5" r="1.35"/>
<circle cx="601.9" cy="151.8" r="1.35"/>
<circle cx="603.3" cy="153.0" r="1.35"/>
<circle cx="609.6" cy="147.5" r="1.35"/>
<circle cx="610.3" cy="143.7" r="1.35"/>
<circle cx="599.4" cy="147.9" r="1.35"/>
<circle cx="605.4" cy="152.4" r="1.35"/>
<circle cx="607.7" cy="148.4" r="1.35"/>
<circle cx="600.0" cy="147.4" r="1.35"/>
<circle cx="603.6" cy="153.1" r="1.35"/>
<circle cx="606.3" cy="151.2" r="1.35"/>
<circle cx="603.5" cy="153.1" r="1.35"/>
<circle cx="600.2" cy="150.6" r="1.35"/>
<circle cx="605.0" cy="152.7" r="1.35"/>
<circle cx="604.6" cy="153.1" r="1.35"/>
<circle cx="596.1" cy="146.5" r="1.35"/>
<circle cx="610.3" cy="146.6" r="1.35"/>
<circle cx="605.2" cy="152.7" r="1.35"/>
<circle cx="591.2" cy="132.7" r="1.35"/>
<circle cx="599.7" cy="148.9" r="1.35"/>
<circle cx="612.0" cy="143.2" r="1.35"/>
<circle cx="611.4" cy="139.0" r="1.35"/>
<circle cx="605.4" cy="151.6" r="1.35"/>
<circle cx="595.2" cy="143.7" r="1.35"/>
<circle cx="602.9" cy="151.9" r="1.35"/>
<circle cx="609.0" cy="147.9" r="1.35"/>
<circle cx="606.0" cy="152.2" r="1.35"/>
<circle cx="602.4" cy="151.8" r="1.35"/>
<circle cx="600.3" cy="150.2" r="1.35"/>
<circle cx="607.9" cy="148.8" r="1.35"/>
<circle cx="603.1" cy="152.5" r="1.35"/>
<circle cx="605.6" cy="152.1" r="1.35"/>
<circle cx="606.4" cy="151.6" r="1.35"/>
<circle cx="611.6" cy="139.2" r="1.35"/>
<circle cx="605.0" cy="152.7" r="1.35"/>
<circle cx="605.4" cy="152.0" r="1.35"/>
<circle cx="609.2" cy="147.1" r="1.35"/>
<circle cx="608.2" cy="149.6" r="1.35"/>
<circle cx="604.1" cy="153.4" r="1.35"/>
<circle cx="592.1" cy="137.7" r="1.35"/>
<circle cx="601.2" cy="151.1" r="1.35"/>
<circle cx="604.5" cy="153.0" r="1.35"/>
<circle cx="613.7" cy="141.5" r="1.35"/>
<circle cx="606.9" cy="150.2" r="1.35"/>
<circle cx="607.8" cy="150.7" r="1.35"/>
<circle cx="607.9" cy="150.0" r="1.35"/>
<circle cx="610.3" cy="139.0" r="1.35"/>
<circle cx="598.1" cy="148.4" r="1.35"/>
<circle cx="599.7" cy="149.9" r="1.35"/>
<circle cx="597.9" cy="148.2" r="1.35"/>
<circle cx="602.7" cy="152.3" r="1.35"/>
<circle cx="602.3" cy="151.0" r="1.35"/>
<circle cx="604.6" cy="153.0" r="1.35"/>
<circle cx="598.7" cy="146.8" r="1.35"/>
<circle cx="604.6" cy="153.0" r="1.35"/>
<circle cx="599.6" cy="146.6" r="1.35"/>
<circle cx="613.8" cy="144.6" r="1.35"/>
<circle cx="601.3" cy="150.7" r="1.35"/>
<circle cx="611.6" cy="143.8" r="1.35"/>
<circle cx="597.8" cy="148.0" r="1.35"/>
<circle cx="608.5" cy="149.3" r="1.35"/>
<circle cx="606.9" cy="151.3" r="1.35"/>
<circle cx="595.9" cy="146.1" r="1.35"/>
<circle cx="606.9" cy="151.4" r="1.35"/>
<circle cx="603.7" cy="153.3" r="1.35"/>
<circle cx="605.7" cy="152.2" r="1.35"/>
<circle cx="599.6" cy="149.0" r="1.35"/>
<circle cx="603.8" cy="153.4" r="1.35"/>
<circle cx="606.0" cy="151.6" r="1.35"/>
<circle cx="603.2" cy="152.7" r="1.35"/>
<circle cx="600.9" cy="151.0" r="1.35"/>
<circle cx="603.3" cy="152.6" r="1.35"/>
<circle cx="598.9" cy="149.3" r="1.35"/>
<circle cx="605.7" cy="150.9" r="1.35"/>
<circle cx="611.0" cy="144.4" r="1.35"/>
<circle cx="604.4" cy="153.2" r="1.35"/>
<circle cx="606.3" cy="151.6" r="1.35"/>
<circle cx="608.0" cy="148.1" r="1.35"/>
<circle cx="597.5" cy="147.8" r="1.35"/>
<circle cx="614.5" cy="143.0" r="1.35"/>
<circle cx="598.1" cy="146.2" r="1.35"/>
<circle cx="606.2" cy="151.5" r="1.35"/>
<circle cx="605.6" cy="152.4" r="1.35"/>
<circle cx="610.1" cy="146.7" r="1.35"/>
<circle cx="604.1" cy="153.5" r="1.35"/>
<circle cx="596.6" cy="135.5" r="1.35"/>
<circle cx="605.6" cy="151.3" r="1.35"/>
<circle cx="590.9" cy="138.9" r="1.35"/>
<circle cx="603.0" cy="152.6" r="1.35"/>
<circle cx="601.7" cy="151.2" r="1.35"/>
<circle cx="611.2" cy="143.8" r="1.35"/>
<circle cx="602.6" cy="151.9" r="1.35"/>
<circle cx="601.7" cy="151.2" r="1.35"/>
<circle cx="600.0" cy="150.6" r="1.35"/>
<circle cx="599.5" cy="150.1" r="1.35"/>
<circle cx="601.1" cy="149.1" r="1.35"/>
<circle cx="606.8" cy="150.8" r="1.35"/>
<circle cx="597.0" cy="144.8" r="1.35"/>
<circle cx="603.0" cy="152.2" r="1.35"/>
<circle cx="596.2" cy="139.9" r="1.35"/>
<circle cx="603.2" cy="152.6" r="1.35"/>
<circle cx="604.8" cy="152.5" r="1.35"/>
<circle cx="597.4" cy="147.3" r="1.35"/>
<circle cx="601.0" cy="151.2" r="1.35"/>
<circle cx="604.5" cy="153.1" r="1.35"/>
<circle cx="607.5" cy="150.9" r="1.35"/>
<circle cx="608.4" cy="150.2" r="1.35"/>
<circle cx="603.4" cy="152.8" r="1.35"/>
<circle cx="598.7" cy="148.0" r="1.35"/>
<circle cx="595.3" cy="137.6" r="1.35"/>
<circle cx="607.6" cy="150.0" r="1.35"/>
<circle cx="610.4" cy="145.5" r="1.35"/>
<circle cx="605.7" cy="152.0" r="1.35"/>
<circle cx="611.1" cy="147.4" r="1.35"/>
<circle cx="601.6" cy="151.7" r="1.35"/>
<circle cx="601.9" cy="151.1" r="1.35"/>
<circle cx="611.2" cy="136.7" r="1.35"/>
<circle cx="598.6" cy="148.1" r="1.35"/>
<circle cx="606.8" cy="150.5" r="1.35"/>
<circle cx="605.8" cy="152.0" r="1.35"/>
<circle cx="604.7" cy="152.8" r="1.35"/>
<circle cx="611.9" cy="137.2" r="1.35"/>
<circle cx="599.3" cy="145.9" r="1.35"/>
<circle cx="601.7" cy="150.7" r="1.35"/>
<circle cx="592.8" cy="140.6" r="1.35"/>
<circle cx="598.4" cy="145.5" r="1.35"/>
<circle cx="601.2" cy="151.6" r="1.35"/>
<circle cx="601.9" cy="151.9" r="1.35"/>
<circle cx="602.9" cy="152.7" r="1.35"/>
<circle cx="605.4" cy="152.2" r="1.35"/>
<circle cx="600.4" cy="149.6" r="1.35"/>
<circle cx="604.7" cy="152.9" r="1.35"/>
<circle cx="605.9" cy="152.1" r="1.35"/>
<circle cx="597.8" cy="140.9" r="1.35"/>
<circle cx="599.8" cy="148.9" r="1.35"/>
<circle cx="612.0" cy="145.7" r="1.35"/>
<circle cx="608.7" cy="149.5" r="1.35"/>
<circle cx="609.0" cy="148.8" r="1.35"/>
<circle cx="607.1" cy="150.1" r="1.35"/>
<circle cx="604.7" cy="152.8" r="1.35"/>
<circle cx="601.3" cy="150.0" r="1.35"/>
<circle cx="606.6" cy="149.5" r="1.35"/>
<circle cx="602.9" cy="152.6" r="1.35"/>
<circle cx="601.6" cy="150.9" r="1.35"/>
<circle cx="603.9" cy="153.5" r="1.35"/>
<circle cx="603.6" cy="153.2" r="1.35"/>
<circle cx="608.1" cy="145.5" r="1.35"/>
<circle cx="598.8" cy="146.1" r="1.35"/>
<circle cx="615.4" cy="137.7" r="1.35"/>
<circle cx="598.6" cy="147.3" r="1.35"/>
<circle cx="601.7" cy="151.5" r="1.35"/>
<circle cx="608.3" cy="150.1" r="1.35"/>
<circle cx="599.5" cy="146.6" r="1.35"/>
<circle cx="601.4" cy="150.9" r="1.35"/>
<circle cx="604.1" cy="153.3" r="1.35"/>
<circle cx="601.3" cy="150.6" r="1.35"/>
<circle cx="598.8" cy="142.4" r="1.35"/>
<circle cx="602.7" cy="152.0" r="1.35"/>
<circle cx="606.3" cy="151.8" r="1.35"/>
<circle cx="606.9" cy="150.6" r="1.35"/>
<circle cx="610.9" cy="144.4" r="1.35"/>
<circle cx="610.6" cy="145.0" r="1.35"/>
<circle cx="608.7" cy="149.3" r="1.35"/>
<circle cx="603.8" cy="153.2" r="1.35"/>
<circle cx="608.8" cy="148.3" r="1.35"/>
<circle cx="598.7" cy="142.9" r="1.35"/>
<circle cx="603.5" cy="153.1" r="1.35"/>
<circle cx="610.6" cy="144.4" r="1.35"/>
<circle cx="607.6" cy="148.6" r="1.35"/>
<circle cx="596.5" cy="142.3" r="1.35"/>
<circle cx="600.8" cy="150.7" r="1.35"/>
<circle cx="608.2" cy="150.2" r="1.35"/>
<circle cx="606.8" cy="151.2" r="1.35"/>
<circle cx="609.0" cy="149.7" r="1.35"/>
<circle cx="594.5" cy="135.9" r="1.35"/>
<circle cx="597.2" cy="141.2" r="1.35"/>
<circle cx="602.7" cy="152.4" r="1.35"/>
<circle cx="598.8" cy="144.0" r="1.35"/>
<circle cx="603.9" cy="153.4" r="1.35"/>
<circle cx="604.1" cy="153.4" r="1.35"/>
<circle cx="605.6" cy="152.3" r="1.35"/>
<circle cx="603.4" cy="153.0" r="1.35"/>
<circle cx="606.6" cy="149.1" r="1.35"/>
<circle cx="607.6" cy="150.8" r="1.35"/>
<circle cx="604.8" cy="152.9" r="1.35"/>
<circle cx="597.5" cy="146.4" r="1.35"/>
<circle cx="610.0" cy="147.1" r="1.35"/>
<circle cx="605.1" cy="152.4" r="1.35"/>
<circle cx="606.0" cy="151.1" r="1.35"/>
<circle cx="604.9" cy="152.8" r="1.35"/>
<circle cx="595.4" cy="134.9" r="1.35"/>
<circle cx="606.7" cy="151.4" r="1.35"/>
<circle cx="600.6" cy="150.0" r="1.35"/>
<circle cx="597.5" cy="146.5" r="1.35"/>
<circle cx="610.0" cy="147.4" r="1.35"/>
<circle cx="602.5" cy="152.4" r="1.35"/>
<circle cx="605.4" cy="151.3" r="1.35"/>
<circle cx="608.2" cy="149.1" r="1.35"/>
<circle cx="611.5" cy="137.0" r="1.35"/>
<circle cx="600.1" cy="150.6" r="1.35"/>
<circle cx="607.2" cy="147.8" r="1.35"/>
<circle cx="600.5" cy="147.7" r="1.35"/>
<circle cx="604.7" cy="152.9" r="1.35"/>
<circle cx="605.1" cy="152.0" r="1.35"/>
<circle cx="607.7" cy="150.7" r="1.35"/>
<circle cx="605.1" cy="152.5" r="1.35"/>
<circle cx="601.7" cy="151.9" r="1.35"/>
<circle cx="605.1" cy="152.0" r="1.35"/>
<circle cx="603.9" cy="153.4" r="1.35"/>
<circle cx="601.4" cy="149.5" r="1.35"/>
<circle cx="605.3" cy="151.9" r="1.35"/>
<circle cx="605.7" cy="151.4" r="1.35"/>
<circle cx="598.6" cy="146.1" r="1.35"/>
<circle cx="608.8" cy="147.1" r="1.35"/>
<circle cx="607.9" cy="148.2" r="1.35"/>
<circle cx="607.7" cy="148.1" r="1.35"/>
<circle cx="604.6" cy="152.9" r="1.35"/>
<circle cx="603.4" cy="152.9" r="1.35"/>
<circle cx="598.7" cy="143.0" r="1.35"/>
<circle cx="606.7" cy="149.3" r="1.35"/>
<circle cx="596.0" cy="142.7" r="1.35"/>
<circle cx="609.7" cy="144.5" r="1.35"/>
<circle cx="605.8" cy="150.9" r="1.35"/>
<circle cx="601.4" cy="151.5" r="1.35"/>
<circle cx="610.6" cy="142.2" r="1.35"/>
<circle cx="606.2" cy="151.8" r="1.35"/>
<circle cx="605.6" cy="151.7" r="1.35"/>
<circle cx="597.1" cy="137.7" r="1.35"/>
<circle cx="606.5" cy="150.9" r="1.35"/>
<circle cx="610.5" cy="143.1" r="1.35"/>
<circle cx="609.1" cy="143.0" r="1.35"/>
<circle cx="597.1" cy="137.7" r="1.35"/>
<circle cx="610.4" cy="142.5" r="1.35"/>
<circle cx="611.4" cy="146.2" r="1.35"/>
<circle cx="607.9" cy="148.6" r="1.35"/>
<circle cx="602.0" cy="151.8" r="1.35"/>
<circle cx="595.9" cy="140.2" r="1.35"/>
<circle cx="599.1" cy="146.2" r="1.35"/>
<circle cx="600.9" cy="151.1" r="1.35"/>
<circle cx="605.3" cy="152.7" r="1.35"/>
<circle cx="606.5" cy="150.4" r="1.35"/>
<circle cx="600.0" cy="150.1" r="1.35"/>
<circle cx="595.1" cy="138.3" r="1.35"/>
<circle cx="601.7" cy="150.8" r="1.35"/>
<circle cx="596.8" cy="145.9" r="1.35"/>
<circle cx="610.0" cy="147.0" r="1.35"/>
<circle cx="597.3" cy="145.9" r="1.35"/>
<circle cx="606.1" cy="151.9" r="1.35"/>
<circle cx="607.7" cy="146.4" r="1.35"/>
<circle cx="598.6" cy="149.0" r="1.35"/>
<circle cx="608.5" cy="148.6" r="1.35"/>
<circle cx="603.1" cy="152.9" r="1.35"/>
<circle cx="599.5" cy="149.8" r="1.35"/>
<circle cx="598.7" cy="147.4" r="1.35"/>
<circle cx="604.3" cy="153.2" r="1.35"/>
<circle cx="608.7" cy="149.5" r="1.35"/>
<circle cx="593.5" cy="141.9" r="1.35"/>
<circle cx="606.6" cy="149.7" r="1.35"/>
<circle cx="602.9" cy="151.9" r="1.35"/>
<circle cx="599.7" cy="147.9" r="1.35"/>
<circle cx="603.2" cy="152.7" r="1.35"/>
<circle cx="603.7" cy="153.1" r="1.35"/>
<circle cx="603.4" cy="153.1" r="1.35"/>
<circle cx="607.5" cy="150.9" r="1.35"/>
<circle cx="598.9" cy="147.9" r="1.35"/>
<circle cx="612.8" cy="139.0" r="1.35"/>
<circle cx="607.9" cy="147.3" r="1.35"/>
<circle cx="600.5" cy="147.6" r="1.35"/>
<circle cx="593.4" cy="137.4" r="1.35"/>
<circle cx="603.7" cy="153.0" r="1.35"/>
<circle cx="601.6" cy="151.3" r="1.35"/>
<circle cx="607.2" cy="147.6" r="1.35"/>
<circle cx="607.2" cy="151.0" r="1.35"/>
<circle cx="612.6" cy="138.7" r="1.35"/>
<circle cx="603.1" cy="152.7" r="1.35"/>
<circle cx="607.5" cy="150.5" r="1.35"/>
<circle cx="601.6" cy="151.7" r="1.35"/>
<circle cx="601.9" cy="150.2" r="1.35"/>
<circle cx="610.9" cy="139.9" r="1.35"/>
<circle cx="603.2" cy="152.9" r="1.35"/>
<circle cx="603.3" cy="152.7" r="1.35"/>
<circle cx="602.0" cy="151.1" r="1.35"/>
<circle cx="605.4" cy="152.1" r="1.35"/>
<circle cx="606.7" cy="151.2" r="1.35"/>
<circle cx="603.3" cy="152.9" r="1.35"/>
<circle cx="597.8" cy="146.0" r="1.35"/>
<circle cx="605.5" cy="151.5" r="1.35"/>
<circle cx="599.5" cy="149.7" r="1.35"/>
<circle cx="602.1" cy="151.8" r="1.35"/>
<circle cx="605.0" cy="152.9" r="1.35"/>
<circle cx="605.1" cy="152.5" r="1.35"/>
<circle cx="591.5" cy="137.8" r="1.35"/>
<circle cx="611.8" cy="138.9" r="1.35"/>
<circle cx="607.7" cy="149.8" r="1.35"/>
<circle cx="612.9" cy="138.0" r="1.35"/>
<circle cx="598.9" cy="149.6" r="1.35"/>
<circle cx="600.9" cy="151.3" r="1.35"/>
<circle cx="605.1" cy="152.3" r="1.35"/>
<circle cx="608.3" cy="149.4" r="1.35"/>
<circle cx="601.2" cy="151.3" r="1.35"/>
<circle cx="602.2" cy="151.3" r="1.35"/>
<circle cx="608.9" cy="146.5" r="1.35"/>
<circle cx="599.1" cy="149.5" r="1.35"/>
<circle cx="604.9" cy="152.7" r="1.35"/>
<circle cx="608.9" cy="148.2" r="1.35"/>
<circle cx="602.4" cy="152.3" r="1.35"/>
<circle cx="607.4" cy="150.0" r="1.35"/>
<circle cx="603.2" cy="152.8" r="1.35"/>
<circle cx="595.3" cy="139.4" r="1.35"/>
<circle cx="600.9" cy="151.2" r="1.35"/>
<circle cx="602.7" cy="152.6" r="1.35"/>
<circle cx="601.9" cy="151.4" r="1.35"/>
<circle cx="603.8" cy="153.4" r="1.35"/>
<circle cx="605.6" cy="152.4" r="1.35"/>
<circle cx="605.0" cy="152.8" r="1.35"/>
<circle cx="604.5" cy="152.8" r="1.35"/>
<circle cx="601.3" cy="150.9" r="1.35"/>
<circle cx="602.4" cy="152.2" r="1.35"/>
<circle cx="601.6" cy="150.7" r="1.35"/>
<circle cx="600.4" cy="149.4" r="1.35"/>
<circle cx="609.9" cy="146.3" r="1.35"/>
<circle cx="593.3" cy="138.5" r="1.35"/>
<circle cx="604.6" cy="153.0" r="1.35"/>
<circle cx="594.6" cy="144.1" r="1.35"/>
<circle cx="600.2" cy="150.5" r="1.35"/>
<circle cx="607.1" cy="151.0" r="1.35"/>
<circle cx="601.8" cy="151.7" r="1.35"/>
<circle cx="609.8" cy="144.2" r="1.35"/>
<circle cx="598.2" cy="146.8" r="1.35"/>
<circle cx="601.7" cy="149.6" r="1.35"/>
<circle cx="599.8" cy="145.2" r="1.35"/>
<circle cx="603.3" cy="152.7" r="1.35"/>
<circle cx="601.5" cy="151.1" r="1.35"/>
<circle cx="601.1" cy="150.6" r="1.35"/>
<circle cx="603.6" cy="153.1" r="1.35"/>
<circle cx="608.3" cy="150.3" r="1.35"/>
<circle cx="603.9" cy="153.4" r="1.35"/>
<circle cx="603.3" cy="152.8" r="1.35"/>
<circle cx="601.4" cy="150.5" r="1.35"/>
<circle cx="599.1" cy="148.2" r="1.35"/>
<circle cx="595.1" cy="141.0" r="1.35"/>
<circle cx="597.2" cy="144.3" r="1.35"/>
<circle cx="603.0" cy="152.8" r="1.35"/>
<circle cx="592.5" cy="139.5" r="1.35"/>
<circle cx="606.0" cy="151.3" r="1.35"/>
<circle cx="600.5" cy="148.4" r="1.35"/>
<circle cx="597.7" cy="147.1" r="1.35"/>
<circle cx="599.8" cy="149.9" r="1.35"/>
<circle cx="605.9" cy="151.7" r="1.35"/>
<circle cx="604.6" cy="153.1" r="1.35"/>
<circle cx="604.1" cy="153.4" r="1.35"/>
<circle cx="611.0" cy="145.3" r="1.35"/>
<circle cx="613.7" cy="136.1" r="1.35"/>
<circle cx="596.0" cy="142.6" r="1.35"/>
<circle cx="607.2" cy="150.6" r="1.35"/>
<circle cx="598.9" cy="149.4" r="1.35"/>
<circle cx="595.7" cy="142.6" r="1.35"/>
<circle cx="600.3" cy="147.2" r="1.35"/>
<circle cx="608.0" cy="148.4" r="1.35"/>
<circle cx="601.7" cy="151.6" r="1.35"/>
<circle cx="600.8" cy="150.7" r="1.35"/>
<circle cx="610.0" cy="144.8" r="1.35"/>
<circle cx="605.9" cy="151.8" r="1.35"/>
<circle cx="603.2" cy="153.0" r="1.35"/>
<circle cx="612.0" cy="140.1" r="1.35"/>
<circle cx="606.0" cy="151.9" r="1.35"/>
<circle cx="599.9" cy="148.9" r="1.35"/>
<circle cx="598.0" cy="144.9" r="1.35"/>
<circle cx="601.6" cy="151.8" r="1.35"/>
<circle cx="604.7" cy="152.8" r="1.35"/>
<circle cx="608.3" cy="148.1" r="1.35"/>
<circle cx="607.9" cy="150.7" r="1.35"/>
<circle cx="604.5" cy="153.0" r="1.35"/>
<circle cx="597.7" cy="142.8" r="1.35"/>
<circle cx="608.3" cy="145.9" r="1.35"/>
<circle cx="604.5" cy="153.2" r="1.35"/>
<circle cx="598.2" cy="148.0" r="1.35"/>
<circle cx="597.4" cy="143.4" r="1.35"/>
<circle cx="605.0" cy="152.7" r="1.35"/>
<circle cx="605.6" cy="152.2" r="1.35"/>
<circle cx="607.7" cy="150.5" r="1.35"/>
<circle cx="597.4" cy="138.1" r="1.35"/>
<circle cx="612.7" cy="139.3" r="1.35"/>
<circle cx="603.7" cy="153.1" r="1.35"/>
<circle cx="610.0" cy="146.5" r="1.35"/>
<circle cx="608.7" cy="148.6" r="1.35"/>
<circle cx="598.7" cy="145.9" r="1.35"/>
<circle cx="606.7" cy="149.5" r="1.35"/>
<circle cx="609.5" cy="149.1" r="1.35"/>
<circle cx="607.2" cy="149.2" r="1.35"/>
<circle cx="598.5" cy="149.1" r="1.35"/>
<circle cx="611.5" cy="147.1" r="1.35"/>
<circle cx="595.0" cy="143.7" r="1.35"/>
<circle cx="604.0" cy="153.5" r="1.35"/>
<circle cx="598.0" cy="144.5" r="1.35"/>
<circle cx="601.4" cy="149.7" r="1.35"/>
<circle cx="601.9" cy="151.8" r="1.35"/>
<circle cx="606.0" cy="151.9" r="1.35"/>
<circle cx="596.9" cy="145.8" r="1.35"/>
<circle cx="604.7" cy="152.9" r="1.35"/>
<circle cx="609.7" cy="146.5" r="1.35"/>
<circle cx="604.1" cy="153.4" r="1.35"/>
<circle cx="606.2" cy="150.7" r="1.35"/>
<circle cx="605.7" cy="152.0" r="1.35"/>
<circle cx="599.6" cy="146.6" r="1.35"/>
<circle cx="601.7" cy="151.6" r="1.35"/>
<circle cx="603.9" cy="153.4" r="1.35"/>
<circle cx="605.9" cy="152.2" r="1.35"/>
<circle cx="613.0" cy="139.5" r="1.35"/>
<circle cx="611.2" cy="146.7" r="1.35"/>
<circle cx="601.1" cy="151.0" r="1.35"/>
<circle cx="601.3" cy="150.5" r="1.35"/>
<circle cx="598.2" cy="148.6" r="1.35"/>
<circle cx="591.2" cy="137.8" r="1.35"/>
<circle cx="609.7" cy="148.8" r="1.35"/>
<circle cx="606.1" cy="151.4" r="1.35"/>
<circle cx="603.7" cy="153.1" r="1.35"/>
<circle cx="614.5" cy="139.2" r="1.35"/>
<circle cx="605.9" cy="150.8" r="1.35"/>
<circle cx="606.0" cy="152.1" r="1.35"/>
<circle cx="604.7" cy="152.6" r="1.35"/>
<circle cx="599.5" cy="149.8" r="1.35"/>
<circle cx="597.4" cy="147.4" r="1.35"/>
<circle cx="599.2" cy="148.1" r="1.35"/>
<circle cx="604.4" cy="153.2" r="1.35"/>
<circle cx="602.4" cy="151.0" r="1.35"/>
<circle cx="607.0" cy="150.8" r="1.35"/>
<circle cx="611.8" cy="144.7" r="1.35"/>
<circle cx="606.5" cy="151.2" r="1.35"/>
<circle cx="607.6" cy="150.1" r="1.35"/>
<circle cx="601.9" cy="151.2" r="1.35"/>
<circle cx="596.8" cy="144.0" r="1.35"/>
<circle cx="613.8" cy="143.9" r="1.35"/>
<circle cx="607.2" cy="151.2" r="1.35"/>
<circle cx="609.3" cy="142.4" r="1.35"/>
<circle cx="601.8" cy="150.7" r="1.35"/>
<circle cx="594.6" cy="139.4" r="1.35"/>
<circle cx="609.9" cy="145.2" r="1.35"/>
<circle cx="602.9" cy="152.6" r="1.35"/>
<circle cx="600.9" cy="149.2" r="1.35"/>
<circle cx="604.9" cy="152.9" r="1.35"/>
<circle cx="607.6" cy="150.6" r="1.35"/>
<circle cx="607.6" cy="149.1" r="1.35"/>
<circle cx="592.4" cy="139.4" r="1.35"/>
<circle cx="608.4" cy="149.0" r="1.35"/>
<circle cx="593.5" cy="136.7" r="1.35"/>
</g>
</g>
<rect x="530.5" y="25.5" width="147" height="134" fill="none" stroke="#787878" stroke-width="1"/>
<line x1="537.18" y1="159.5" x2="537.18" y2="161.7" stroke="#787878" stroke-width="0.6"/>
<text x="537.18" y="167.6" font-size="6.6" fill="#444" stroke="#444" text-anchor="middle">-2</text>
<line x1="570.59" y1="159.5" x2="570.59" y2="161.7" stroke="#787878" stroke-width="0.6"/>
<text x="570.59" y="167.6" font-size="6.6" fill="#444" stroke="#444" text-anchor="middle">-1</text>
<line x1="604" y1="159.5" x2="604" y2="161.7" stroke="#787878" stroke-width="0.6"/>
<text x="604" y="167.6" font-size="6.6" fill="#444" stroke="#444" text-anchor="middle">0</text>
<line x1="637.41" y1="159.5" x2="637.41" y2="161.7" stroke="#787878" stroke-width="0.6"/>
<text x="637.41" y="167.6" font-size="6.6" fill="#444" stroke="#444" text-anchor="middle">1</text>
<line x1="670.82" y1="159.5" x2="670.82" y2="161.7" stroke="#787878" stroke-width="0.6"/>
<text x="670.82" y="167.6" font-size="6.6" fill="#444" stroke="#444" text-anchor="middle">2</text>
<line x1="528.3" y1="153.5" x2="530.5" y2="153.5" stroke="#787878" stroke-width="0.6"/>
<text x="527.7" y="155.9" font-size="6.6" fill="#444" stroke="#444" text-anchor="end">0</text>
<line x1="528.3" y1="121.4" x2="530.5" y2="121.4" stroke="#787878" stroke-width="0.6"/>
<text x="527.7" y="123.8" font-size="6.6" fill="#444" stroke="#444" text-anchor="end">2</text>
<line x1="528.3" y1="89.3" x2="530.5" y2="89.3" stroke="#787878" stroke-width="0.6"/>
<text x="527.7" y="91.7" font-size="6.6" fill="#444" stroke="#444" text-anchor="end">4</text>
<line x1="528.3" y1="57.2" x2="530.5" y2="57.2" stroke="#787878" stroke-width="0.6"/>
<text x="527.7" y="59.6" font-size="6.6" fill="#444" stroke="#444" text-anchor="end">6</text>
<text y="176.4" font-size="8" fill="#1a1a1a" stroke="#1a1a1a"><tspan x="578.4">Log</tspan><tspan x="591.9" dy="1.4" font-size="5.4">2</tspan><tspan x="597" dy="-1.4">FoldChange</tspan></text>
<text transform="translate(520.5,104.7) rotate(-90)" font-size="7.85" fill="#1a1a1a" stroke="#1a1a1a"><tspan x="0">−</tspan><tspan x="7.2">Log</tspan><tspan x="20.6" dy="1.5" font-size="5.3">10</tspan><tspan x="29.2" dy="-1.5" font-style="italic">P</tspan></text>
<line x1="647.1" y1="62.5" x2="647.1" y2="65.1" stroke="#4682B4" stroke-width="0.6"/>
<circle cx="647.1" cy="65.1" r="1.25" fill="none" stroke="#4682B4" stroke-width="0.6"/>
<rect x="610.6" y="53.8" width="58" height="8.7" rx="1.2" fill="#fff" stroke="#4682B4" stroke-width="0.7"/>
<text x="639.6" y="60.35" font-size="6.4" fill="#4682B4" stroke="#4682B4" text-anchor="middle"><tspan font-style="italic">Bacteroides fragilis</tspan></text>
<line x1="624" y1="81.1" x2="624" y2="84" stroke="#4682B4" stroke-width="0.6"/>
<circle cx="624" cy="84" r="1.25" fill="none" stroke="#4682B4" stroke-width="0.6"/>
<rect x="609.9" y="73" width="56.5" height="8.1" rx="1.2" fill="#fff" stroke="#4682B4" stroke-width="0.7"/>
<text x="638.15" y="79.25" font-size="6.4" fill="#4682B4" stroke="#4682B4" text-anchor="middle">UMGS874 sp.</text>
<line x1="585" y1="93.2" x2="585" y2="97" stroke="#AA2020" stroke-width="0.6"/>
<circle cx="585" cy="97" r="1.25" fill="none" stroke="#AA2020" stroke-width="0.6"/>
<rect x="538.8" y="84.9" width="49.2" height="8.3" rx="1.2" fill="#fff" stroke="#AA2020" stroke-width="0.7"/>
<text x="563.4" y="91.25" font-size="6.4" fill="#AA2020" stroke="#AA2020" text-anchor="middle"><tspan font-style="italic">Veillonella sp.</tspan></text>
<line x1="626" y1="96.5" x2="626" y2="92" stroke="#4682B4" stroke-width="0.6"/>
<circle cx="626" cy="92" r="1.25" fill="none" stroke="#4682B4" stroke-width="0.6"/>
<rect x="602.7" y="96.5" width="71.8" height="8.7" rx="1.2" fill="#fff" stroke="#4682B4" stroke-width="0.7"/>
<text x="638.6" y="103.05" font-size="6.4" fill="#4682B4" stroke="#4682B4" text-anchor="middle">UBA1232 sp900544815</text>
<line x1="589" y1="108.1" x2="589" y2="112" stroke="#AA2020" stroke-width="0.6"/>
<circle cx="589" cy="112" r="1.25" fill="none" stroke="#AA2020" stroke-width="0.6"/>
<rect x="532.6" y="99.3" width="67" height="8.8" rx="1.2" fill="#fff" stroke="#AA2020" stroke-width="0.7"/>
<text x="566.1" y="105.9" font-size="6.4" fill="#AA2020" stroke="#AA2020" text-anchor="middle">Zag111 sp003258735</text>
<line x1="595" y1="115.5" x2="595" y2="113" stroke="#AA2020" stroke-width="0.6"/>
<circle cx="595" cy="113" r="1.25" fill="none" stroke="#AA2020" stroke-width="0.6"/>
<rect x="534.8" y="115.5" width="118.3" height="8.3" rx="1.2" fill="#fff" stroke="#AA2020" stroke-width="0.7"/>
<text x="593.95" y="121.85" font-size="6.4" fill="#AA2020" stroke="#AA2020" text-anchor="middle"><tspan font-style="italic">Phascolarctobacterium</tspan> A sp900551335</text>
</g>
<g>
<clipPath id="c5"><rect x="22.5" y="216.1" width="145" height="132.4"/></clipPath>
<text x="22.5" y="211.1" font-size="7.8" fill="#000" stroke="#000" text-anchor="start">Infant - Pn12  -  Interv. vs. Contr.</text>
<line x1="78.52" y1="216.1" x2="78.52" y2="348.5" stroke="#333" stroke-width="0.95" stroke-dasharray="1 2.33" fill="none"/>
<line x1="111.48" y1="216.1" x2="111.48" y2="348.5" stroke="#333" stroke-width="0.95" stroke-dasharray="1 2.33" fill="none"/>
<line x1="22.5" y1="313.22" x2="167.5" y2="313.22" stroke="#333" stroke-width="0.95" stroke-dasharray="1 2.33" fill="none"/>
<g clip-path="url(#c5)" fill="none" stroke-width="0.5">
<g stroke="#8E8E8E">
<circle cx="72.6" cy="288.2" r="1.35"/>
<circle cx="77.9" cy="298.9" r="1.35"/>
<circle cx="110.5" cy="296.3" r="1.35"/>
<circle cx="109.8" cy="304.7" r="1.35"/>
<circle cx="117.4" cy="288.2" r="1.35"/>
<circle cx="142.8" cy="222.1" r="1.35"/>
</g>
<g stroke="#000">
<circle cx="82.5" cy="322.5" r="1.35"/>
<circle cx="83.5" cy="323.7" r="1.35"/>
<circle cx="84.1" cy="322.5" r="1.35"/>
<circle cx="85.1" cy="323.0" r="1.35"/>
<circle cx="85.8" cy="322.5" r="1.35"/>
<circle cx="83.1" cy="324.4" r="1.35"/>
<circle cx="87.8" cy="333.4" r="1.35"/>
<circle cx="89.1" cy="337.6" r="1.35"/>
<circle cx="91.0" cy="342.2" r="1.35"/>
<circle cx="91.7" cy="342.5" r="1.35"/>
<circle cx="92.4" cy="342.7" r="1.35"/>
<circle cx="93.4" cy="342.5" r="1.35"/>
<circle cx="94.0" cy="342.7" r="1.35"/>
<circle cx="95.0" cy="342.7" r="1.35"/>
<circle cx="95.7" cy="342.5" r="1.35"/>
<circle cx="96.6" cy="342.7" r="1.35"/>
<circle cx="97.6" cy="341.5" r="1.35"/>
<circle cx="98.3" cy="341.1" r="1.35"/>
</g>
</g>
<rect x="22.5" y="216.1" width="145" height="132.4" fill="none" stroke="#787878" stroke-width="1"/>
<line x1="29.09" y1="348.5" x2="29.09" y2="350.7" stroke="#787878" stroke-width="0.6"/>
<text x="29.09" y="356.6" font-size="6.6" fill="#444" stroke="#444" text-anchor="middle">-2</text>
<line x1="62.05" y1="348.5" x2="62.05" y2="350.7" stroke="#787878" stroke-width="0.6"/>
<text x="62.05" y="356.6" font-size="6.6" fill="#444" stroke="#444" text-anchor="middle">-1</text>
<line x1="95" y1="348.5" x2="95" y2="350.7" stroke="#787878" stroke-width="0.6"/>
<text x="95" y="356.6" font-size="6.6" fill="#444" stroke="#444" text-anchor="middle">0</text>
<line x1="127.95" y1="348.5" x2="127.95" y2="350.7" stroke="#787878" stroke-width="0.6"/>
<text x="127.95" y="356.6" font-size="6.6" fill="#444" stroke="#444" text-anchor="middle">1</text>
<line x1="160.91" y1="348.5" x2="160.91" y2="350.7" stroke="#787878" stroke-width="0.6"/>
<text x="160.91" y="356.6" font-size="6.6" fill="#444" stroke="#444" text-anchor="middle">2</text>
<line x1="20.3" y1="343.4" x2="22.5" y2="343.4" stroke="#787878" stroke-width="0.6"/>
<text x="19.7" y="345.8" font-size="6.6" fill="#444" stroke="#444" text-anchor="end">0</text>
<line x1="20.3" y1="320.2" x2="22.5" y2="320.2" stroke="#787878" stroke-width="0.6"/>
<text x="19.7" y="322.6" font-size="6.6" fill="#444" stroke="#444" text-anchor="end">1</text>
<line x1="20.3" y1="297" x2="22.5" y2="297" stroke="#787878" stroke-width="0.6"/>
<text x="19.7" y="299.4" font-size="6.6" fill="#444" stroke="#444" text-anchor="end">2</text>
<line x1="20.3" y1="273.8" x2="22.5" y2="273.8" stroke="#787878" stroke-width="0.6"/>
<text x="19.7" y="276.2" font-size="6.6" fill="#444" stroke="#444" text-anchor="end">3</text>
<line x1="20.3" y1="250.6" x2="22.5" y2="250.6" stroke="#787878" stroke-width="0.6"/>
<text x="19.7" y="253" font-size="6.6" fill="#444" stroke="#444" text-anchor="end">4</text>
<line x1="20.3" y1="227.4" x2="22.5" y2="227.4" stroke="#787878" stroke-width="0.6"/>
<text x="19.7" y="229.8" font-size="6.6" fill="#444" stroke="#444" text-anchor="end">5</text>
<text y="365.6" font-size="8" fill="#1a1a1a" stroke="#1a1a1a"><tspan x="67.2">Log</tspan><tspan x="80.7" dy="1.4" font-size="5.4">2</tspan><tspan x="85.8" dy="-1.4">FoldChange</tspan></text>
<text transform="translate(6.9,295.2) rotate(-90)" font-size="7.85" fill="#1a1a1a" stroke="#1a1a1a"><tspan x="0">−</tspan><tspan x="7.2">Log</tspan><tspan x="20.6" dy="1.5" font-size="5.3">10</tspan><tspan x="29.2" dy="-1.5" font-style="italic">P</tspan></text>
</g>
<g>
<clipPath id="c6"><rect x="191.5" y="217.5" width="143" height="131"/></clipPath>
<text x="192.1" y="213.9" font-size="7.8" fill="#000" stroke="#000" text-anchor="start">Infant - Pn56  -  Interv. vs. Contr.</text>
<line x1="246.75" y1="217.5" x2="246.75" y2="348.5" stroke="#333" stroke-width="0.95" stroke-dasharray="1 2.33" fill="none"/>
<line x1="279.25" y1="217.5" x2="279.25" y2="348.5" stroke="#333" stroke-width="0.95" stroke-dasharray="1 2.33" fill="none"/>
<line x1="191.5" y1="306.6" x2="334.5" y2="306.6" stroke="#333" stroke-width="0.95" stroke-dasharray="1 2.33" fill="none"/>
<g clip-path="url(#c6)" fill="none" stroke-width="0.5">
<g stroke="#8E8E8E">
<circle cx="207.8" cy="223.5" r="1.35"/>
<circle cx="215.9" cy="231.3" r="1.35"/>
<circle cx="233.1" cy="231.3" r="1.35"/>
<circle cx="230.5" cy="252.8" r="1.35"/>
<circle cx="235.4" cy="253.1" r="1.35"/>
<circle cx="236.4" cy="255.6" r="1.35"/>
<circle cx="240.9" cy="274.5" r="1.35"/>
<circle cx="245.1" cy="289.9" r="1.35"/>
<circle cx="246.8" cy="297.7" r="1.35"/>
<circle cx="246.1" cy="300.5" r="1.35"/>
<circle cx="279.9" cy="293.2" r="1.35"/>
<circle cx="285.8" cy="274.5" r="1.35"/>
<circle cx="285.8" cy="277.3" r="1.35"/>
<circle cx="291.3" cy="257.8" r="1.35"/>
<circle cx="290.9" cy="260.6" r="1.35"/>
<circle cx="296.1" cy="244.7" r="1.35"/>
<circle cx="303.6" cy="231.3" r="1.35"/>
</g>
<g stroke="#000">
<circle cx="247.4" cy="307.2" r="1.35"/>
<circle cx="247.7" cy="313.6" r="1.35"/>
<circle cx="250.0" cy="319.2" r="1.35"/>
<circle cx="250.7" cy="322.0" r="1.35"/>
<circle cx="251.6" cy="321.1" r="1.35"/>
<circle cx="252.3" cy="320.6" r="1.35"/>
<circle cx="257.1" cy="337.3" r="1.35"/>
<circle cx="258.1" cy="336.5" r="1.35"/>
<circle cx="258.8" cy="336.8" r="1.35"/>
<circle cx="261.4" cy="340.7" r="1.35"/>
<circle cx="262.4" cy="342.1" r="1.35"/>
<circle cx="263.0" cy="342.3" r="1.35"/>
<circle cx="263.6" cy="342.9" r="1.35"/>
<circle cx="267.9" cy="335.9" r="1.35"/>
<circle cx="268.2" cy="333.7" r="1.35"/>
<circle cx="269.5" cy="330.3" r="1.35"/>
<circle cx="270.1" cy="328.9" r="1.35"/>
<circle cx="272.8" cy="322.0" r="1.35"/>
</g>
</g>
<rect x="191.5" y="217.5" width="143" height="131" fill="none" stroke="#787878" stroke-width="1"/>
<line x1="198" y1="348.5" x2="198" y2="350.7" stroke="#787878" stroke-width="0.6"/>
<text x="198" y="356.6" font-size="6.6" fill="#444" stroke="#444" text-anchor="middle">-2</text>
<line x1="230.5" y1="348.5" x2="230.5" y2="350.7" stroke="#787878" stroke-width="0.6"/>
<text x="230.5" y="356.6" font-size="6.6" fill="#444" stroke="#444" text-anchor="middle">-1</text>
<line x1="263" y1="348.5" x2="263" y2="350.7" stroke="#787878" stroke-width="0.6"/>
<text x="263" y="356.6" font-size="6.6" fill="#444" stroke="#444" text-anchor="middle">0</text>
<line x1="295.5" y1="348.5" x2="295.5" y2="350.7" stroke="#787878" stroke-width="0.6"/>
<text x="295.5" y="356.6" font-size="6.6" fill="#444" stroke="#444" text-anchor="middle">1</text>
<line x1="328" y1="348.5" x2="328" y2="350.7" stroke="#787878" stroke-width="0.6"/>
<text x="328" y="356.6" font-size="6.6" fill="#444" stroke="#444" text-anchor="middle">2</text>
<line x1="189.3" y1="342.9" x2="191.5" y2="342.9" stroke="#787878" stroke-width="0.6"/>
<text x="188.7" y="345.3" font-size="6.6" fill="#444" stroke="#444" text-anchor="end">0</text>
<line x1="189.3" y1="315" x2="191.5" y2="315" stroke="#787878" stroke-width="0.6"/>
<text x="188.7" y="317.4" font-size="6.6" fill="#444" stroke="#444" text-anchor="end">1</text>
<line x1="189.3" y1="287.1" x2="191.5" y2="287.1" stroke="#787878" stroke-width="0.6"/>
<text x="188.7" y="289.5" font-size="6.6" fill="#444" stroke="#444" text-anchor="end">2</text>
<line x1="189.3" y1="259.2" x2="191.5" y2="259.2" stroke="#787878" stroke-width="0.6"/>
<text x="188.7" y="261.6" font-size="6.6" fill="#444" stroke="#444" text-anchor="end">3</text>
<line x1="189.3" y1="231.3" x2="191.5" y2="231.3" stroke="#787878" stroke-width="0.6"/>
<text x="188.7" y="233.7" font-size="6.6" fill="#444" stroke="#444" text-anchor="end">4</text>
<text y="365.6" font-size="8" fill="#1a1a1a" stroke="#1a1a1a"><tspan x="236.1">Log</tspan><tspan x="249.6" dy="1.4" font-size="5.4">2</tspan><tspan x="254.7" dy="-1.4">FoldChange</tspan></text>
<text transform="translate(180.9,295.1) rotate(-90)" font-size="7.85" fill="#1a1a1a" stroke="#1a1a1a"><tspan x="0">−</tspan><tspan x="7.2">Log</tspan><tspan x="20.6" dy="1.5" font-size="5.3">10</tspan><tspan x="29.2" dy="-1.5" font-style="italic">P</tspan></text>
</g>
<g>
<clipPath id="c7"><rect x="361.5" y="214.5" width="142" height="134"/></clipPath>
<text x="361" y="209.7" font-size="7.8" fill="#000" stroke="#000" text-anchor="start">Mother - Interv. vs. Contr.</text>
<line x1="416.36" y1="214.5" x2="416.36" y2="348.5" stroke="#333" stroke-width="0.95" stroke-dasharray="1 2.33" fill="none"/>
<line x1="448.64" y1="214.5" x2="448.64" y2="348.5" stroke="#333" stroke-width="0.95" stroke-dasharray="1 2.33" fill="none"/>
<line x1="361.5" y1="220.26" x2="503.5" y2="220.26" stroke="#333" stroke-width="0.95" stroke-dasharray="1 2.33" fill="none"/>
<g clip-path="url(#c7)" fill="none" stroke-width="0.5">
<g stroke="#8E8E8E">
<circle cx="454.4" cy="342.3" r="1.35"/>
</g>
<g stroke="#8B1A1A">
<circle cx="403.5" cy="342.3" r="1.35"/>
<circle cx="411.5" cy="342.3" r="1.35"/>
<circle cx="413.8" cy="342.3" r="1.35"/>
<circle cx="414.8" cy="342.3" r="1.35"/>
</g>
<g stroke="#4682B4">
<circle cx="450.2" cy="342.3" r="1.35"/>
<circle cx="461.5" cy="342.3" r="1.35"/>
</g>
<g stroke="#000">
<circle cx="417.0" cy="342.3" r="1.35"/>
<circle cx="417.5" cy="342.3" r="1.35"/>
<circle cx="418.1" cy="342.3" r="1.35"/>
<circle cx="418.6" cy="342.3" r="1.35"/>
<circle cx="419.1" cy="342.3" r="1.35"/>
<circle cx="419.6" cy="342.3" r="1.35"/>
<circle cx="420.2" cy="342.3" r="1.35"/>
<circle cx="420.7" cy="342.3" r="1.35"/>
<circle cx="421.2" cy="342.3" r="1.35"/>
<circle cx="421.7" cy="342.3" r="1.35"/>
<circle cx="422.3" cy="342.3" r="1.35"/>
<circle cx="422.8" cy="342.3" r="1.35"/>
<circle cx="423.3" cy="342.3" r="1.35"/>
<circle cx="423.8" cy="342.3" r="1.35"/>
<circle cx="424.4" cy="342.3" r="1.35"/>
<circle cx="424.9" cy="342.3" r="1.35"/>
<circle cx="425.4" cy="342.3" r="1.35"/>
<circle cx="425.9" cy="342.3" r="1.35"/>
<circle cx="426.5" cy="342.3" r="1.35"/>
<circle cx="427.0" cy="342.3" r="1.35"/>
<circle cx="427.5" cy="342.3" r="1.35"/>
<circle cx="428.0" cy="342.3" r="1.35"/>
<circle cx="428.6" cy="342.3" r="1.35"/>
<circle cx="429.1" cy="342.3" r="1.35"/>
<circle cx="429.6" cy="342.3" r="1.35"/>
<circle cx="430.1" cy="342.3" r="1.35"/>
<circle cx="430.7" cy="342.3" r="1.35"/>
<circle cx="431.2" cy="342.3" r="1.35"/>
<circle cx="431.7" cy="342.3" r="1.35"/>
<circle cx="432.2" cy="342.3" r="1.35"/>
<circle cx="432.8" cy="342.3" r="1.35"/>
<circle cx="433.3" cy="342.3" r="1.35"/>
<circle cx="433.8" cy="342.3" r="1.35"/>
<circle cx="434.3" cy="342.3" r="1.35"/>
<circle cx="434.9" cy="342.3" r="1.35"/>
<circle cx="435.4" cy="342.3" r="1.35"/>
<circle cx="435.9" cy="342.3" r="1.35"/>
<circle cx="436.4" cy="342.3" r="1.35"/>
<circle cx="437.0" cy="342.3" r="1.35"/>
<circle cx="437.5" cy="342.3" r="1.35"/>
<circle cx="438.0" cy="342.3" r="1.35"/>
<circle cx="438.5" cy="342.3" r="1.35"/>
<circle cx="439.1" cy="342.3" r="1.35"/>
<circle cx="439.6" cy="342.3" r="1.35"/>
<circle cx="440.1" cy="342.3" r="1.35"/>
<circle cx="440.6" cy="342.3" r="1.35"/>
<circle cx="441.2" cy="342.3" r="1.35"/>
<circle cx="441.7" cy="342.3" r="1.35"/>
<circle cx="442.2" cy="342.3" r="1.35"/>
<circle cx="442.7" cy="342.3" r="1.35"/>
<circle cx="443.3" cy="342.3" r="1.35"/>
<circle cx="443.8" cy="342.3" r="1.35"/>
<circle cx="444.3" cy="342.3" r="1.35"/>
<circle cx="444.8" cy="342.3" r="1.35"/>
<circle cx="445.4" cy="342.3" r="1.35"/>
<circle cx="445.9" cy="342.3" r="1.35"/>
<circle cx="446.4" cy="342.3" r="1.35"/>
<circle cx="446.9" cy="342.3" r="1.35"/>
<circle cx="447.5" cy="342.3" r="1.35"/>
<circle cx="448.0" cy="342.3" r="1.35"/>
</g>
</g>
<rect x="361.5" y="214.5" width="142" height="134" fill="none" stroke="#787878" stroke-width="1"/>
<line x1="367.95" y1="348.5" x2="367.95" y2="350.7" stroke="#787878" stroke-width="0.6"/>
<text x="367.95" y="356.6" font-size="6.6" fill="#444" stroke="#444" text-anchor="middle">-2</text>
<line x1="400.23" y1="348.5" x2="400.23" y2="350.7" stroke="#787878" stroke-width="0.6"/>
<text x="400.23" y="356.6" font-size="6.6" fill="#444" stroke="#444" text-anchor="middle">-1</text>
<line x1="432.5" y1="348.5" x2="432.5" y2="350.7" stroke="#787878" stroke-width="0.6"/>
<text x="432.5" y="356.6" font-size="6.6" fill="#444" stroke="#444" text-anchor="middle">0</text>
<line x1="464.77" y1="348.5" x2="464.77" y2="350.7" stroke="#787878" stroke-width="0.6"/>
<text x="464.77" y="356.6" font-size="6.6" fill="#444" stroke="#444" text-anchor="middle">1</text>
<line x1="497.05" y1="348.5" x2="497.05" y2="350.7" stroke="#787878" stroke-width="0.6"/>
<text x="497.05" y="356.6" font-size="6.6" fill="#444" stroke="#444" text-anchor="middle">2</text>
<line x1="359.3" y1="342.3" x2="361.5" y2="342.3" stroke="#787878" stroke-width="0.6"/>
<text x="358.7" y="344.7" font-size="6.6" fill="#444" stroke="#444" text-anchor="end">0.0</text>
<line x1="359.3" y1="295.4" x2="361.5" y2="295.4" stroke="#787878" stroke-width="0.6"/>
<text x="358.7" y="297.8" font-size="6.6" fill="#444" stroke="#444" text-anchor="end">0.5</text>
<line x1="359.3" y1="248.5" x2="361.5" y2="248.5" stroke="#787878" stroke-width="0.6"/>
<text x="358.7" y="250.9" font-size="6.6" fill="#444" stroke="#444" text-anchor="end">1.0</text>
<text y="365.6" font-size="8" fill="#1a1a1a" stroke="#1a1a1a"><tspan x="405.3">Log</tspan><tspan x="418.8" dy="1.4" font-size="5.4">2</tspan><tspan x="423.9" dy="-1.4">FoldChange</tspan></text>
<text transform="translate(347.9,295.7) rotate(-90)" font-size="7.85" fill="#1a1a1a" stroke="#1a1a1a"><tspan x="0">−</tspan><tspan x="7.2">Log</tspan><tspan x="20.6" dy="1.5" font-size="5.3">10</tspan><tspan x="29.2" dy="-1.5" font-style="italic">P</tspan></text>
</g>
<g>
<clipPath id="c8"><rect x="530.5" y="214.8" width="142" height="133.7"/></clipPath>
<text x="530.2" y="209.9" font-size="7.8" fill="#000" stroke="#000" text-anchor="start">Infant - Interv. vs. Contr.</text>
<line x1="585.36" y1="214.8" x2="585.36" y2="348.5" stroke="#333" stroke-width="0.95" stroke-dasharray="1 2.33" fill="none"/>
<line x1="617.64" y1="214.8" x2="617.64" y2="348.5" stroke="#333" stroke-width="0.95" stroke-dasharray="1 2.33" fill="none"/>
<line x1="530.5" y1="220.26" x2="672.5" y2="220.26" stroke="#333" stroke-width="0.95" stroke-dasharray="1 2.33" fill="none"/>
<g clip-path="url(#c8)" fill="none" stroke-width="0.5">
<g stroke="#8B1A1A">
<circle cx="577.3" cy="342.3" r="1.35"/>
<circle cx="584.7" cy="342.3" r="1.35"/>
</g>
<g stroke="#4682B4">
<circle cx="617.6" cy="342.3" r="1.35"/>
<circle cx="618.6" cy="342.3" r="1.35"/>
<circle cx="628.0" cy="342.3" r="1.35"/>
<circle cx="639.6" cy="342.3" r="1.35"/>
</g>
<g stroke="#000">
<circle cx="587.0" cy="342.3" r="1.35"/>
<circle cx="588.9" cy="342.3" r="1.35"/>
<circle cx="590.9" cy="342.3" r="1.35"/>
<circle cx="592.8" cy="342.3" r="1.35"/>
<circle cx="594.7" cy="342.3" r="1.35"/>
<circle cx="596.7" cy="342.3" r="1.35"/>
<circle cx="598.9" cy="342.3" r="1.35"/>
<circle cx="599.6" cy="342.3" r="1.35"/>
<circle cx="600.3" cy="342.3" r="1.35"/>
<circle cx="601.0" cy="342.3" r="1.35"/>
<circle cx="601.7" cy="342.3" r="1.35"/>
<circle cx="602.5" cy="342.3" r="1.35"/>
<circle cx="603.2" cy="342.3" r="1.35"/>
<circle cx="603.9" cy="342.3" r="1.35"/>
<circle cx="604.6" cy="342.3" r="1.35"/>
<circle cx="605.3" cy="342.3" r="1.35"/>
<circle cx="606.0" cy="342.3" r="1.35"/>
<circle cx="606.7" cy="342.3" r="1.35"/>
<circle cx="607.4" cy="342.3" r="1.35"/>
<circle cx="608.1" cy="342.3" r="1.35"/>
<circle cx="608.8" cy="342.3" r="1.35"/>
<circle cx="609.5" cy="342.3" r="1.35"/>
<circle cx="610.2" cy="342.3" r="1.35"/>
<circle cx="610.9" cy="342.3" r="1.35"/>
<circle cx="611.6" cy="342.3" r="1.35"/>
<circle cx="612.3" cy="342.3" r="1.35"/>
<circle cx="613.1" cy="342.3" r="1.35"/>
<circle cx="613.8" cy="342.3" r="1.35"/>
</g>
</g>
<rect x="530.5" y="214.8" width="142" height="133.7" fill="none" stroke="#787878" stroke-width="1"/>
<line x1="536.95" y1="348.5" x2="536.95" y2="350.7" stroke="#787878" stroke-width="0.6"/>
<text x="536.95" y="356.6" font-size="6.6" fill="#444" stroke="#444" text-anchor="middle">-2</text>
<line x1="569.23" y1="348.5" x2="569.23" y2="350.7" stroke="#787878" stroke-width="0.6"/>
<text x="569.23" y="356.6" font-size="6.6" fill="#444" stroke="#444" text-anchor="middle">-1</text>
<line x1="601.5" y1="348.5" x2="601.5" y2="350.7" stroke="#787878" stroke-width="0.6"/>
<text x="601.5" y="356.6" font-size="6.6" fill="#444" stroke="#444" text-anchor="middle">0</text>
<line x1="633.77" y1="348.5" x2="633.77" y2="350.7" stroke="#787878" stroke-width="0.6"/>
<text x="633.77" y="356.6" font-size="6.6" fill="#444" stroke="#444" text-anchor="middle">1</text>
<line x1="666.05" y1="348.5" x2="666.05" y2="350.7" stroke="#787878" stroke-width="0.6"/>
<text x="666.05" y="356.6" font-size="6.6" fill="#444" stroke="#444" text-anchor="middle">2</text>
<line x1="528.3" y1="342.3" x2="530.5" y2="342.3" stroke="#787878" stroke-width="0.6"/>
<text x="527.7" y="344.7" font-size="6.6" fill="#444" stroke="#444" text-anchor="end">0.0</text>
<line x1="528.3" y1="295.4" x2="530.5" y2="295.4" stroke="#787878" stroke-width="0.6"/>
<text x="527.7" y="297.8" font-size="6.6" fill="#444" stroke="#444" text-anchor="end">0.5</text>
<line x1="528.3" y1="248.5" x2="530.5" y2="248.5" stroke="#787878" stroke-width="0.6"/>
<text x="527.7" y="250.9" font-size="6.6" fill="#444" stroke="#444" text-anchor="end">1.0</text>
<text y="365.6" font-size="8" fill="#1a1a1a" stroke="#1a1a1a"><tspan x="575.8">Log</tspan><tspan x="589.3" dy="1.4" font-size="5.4">2</tspan><tspan x="594.4" dy="-1.4">FoldChange</tspan></text>
<text transform="translate(516.4,295.5) rotate(-90)" font-size="7.85" fill="#1a1a1a" stroke="#1a1a1a"><tspan x="0">−</tspan><tspan x="7.2">Log</tspan><tspan x="20.6" dy="1.5" font-size="5.3">10</tspan><tspan x="29.2" dy="-1.5" font-style="italic">P</tspan></text>
</g>
<clipPath id="f1"><rect x="24.1" y="390.5" width="82.1" height="95.8"/></clipPath>
<g stroke="#E8E8E8" stroke-width="0.7">
<line x1="24.1" y1="485.2" x2="106.2" y2="485.2"/>
<line x1="24.1" y1="461.14" x2="106.2" y2="461.14"/>
<line x1="24.1" y1="437.08" x2="106.2" y2="437.08"/>
<line x1="24.1" y1="413.02" x2="106.2" y2="413.02"/>
<line x1="46.49" y1="390.5" x2="46.49" y2="486.3"/>
<line x1="83.81" y1="390.5" x2="83.81" y2="486.3"/>
</g>
<g clip-path="url(#f1)">
<line x1="46.49" y1="478.58" x2="46.49" y2="476.78" stroke="#AA2020" stroke-width="0.7"/>
<line x1="46.49" y1="444.3" x2="46.49" y2="423.85" stroke="#AA2020" stroke-width="0.7"/>
<rect x="32.5" y="444.3" width="27.99" height="32.48" fill="none" stroke="#AA2020" stroke-width="0.7"/>
<line x1="32.5" y1="471.97" x2="60.49" y2="471.97" stroke="#AA2020" stroke-width="1.3"/>
<g fill="#8B0000" fill-opacity="0.65">
<circle cx="43.2" cy="393.8" r="1.4"/>
<circle cx="46.5" cy="393.8" r="1.4"/>
<circle cx="47.4" cy="423.8" r="1.4"/>
<circle cx="42.3" cy="444.3" r="1.4"/>
<circle cx="43.3" cy="467.2" r="1.4"/>
<circle cx="50.3" cy="472.0" r="1.4"/>
<circle cx="42.6" cy="475.6" r="1.4"/>
<circle cx="43.2" cy="476.8" r="1.4"/>
<circle cx="50.5" cy="477.0" r="1.4"/>
<circle cx="47.6" cy="477.4" r="1.4"/>
<circle cx="45.3" cy="478.0" r="1.4"/>
<circle cx="46.6" cy="478.2" r="1.4"/>
</g>
<line x1="83.81" y1="478.94" x2="83.81" y2="478.58" stroke="#4682B4" stroke-width="0.7"/>
<line x1="83.81" y1="477.98" x2="83.81" y2="477.74" stroke="#4682B4" stroke-width="0.7"/>
<rect x="69.81" y="477.98" width="27.99" height="0.6" fill="none" stroke="#4682B4" stroke-width="0.7"/>
<line x1="69.81" y1="478.22" x2="97.8" y2="478.22" stroke="#4682B4" stroke-width="1.3"/>
<g fill="#4682B4" fill-opacity="0.65">
<circle cx="85.3" cy="481.6" r="1.4"/>
<circle cx="81.8" cy="481.4" r="1.4"/>
<circle cx="80.6" cy="478.2" r="1.4"/>
<circle cx="86.4" cy="478.0" r="1.4"/>
<circle cx="85.3" cy="476.8" r="1.4"/>
</g>
</g>
<rect x="24.1" y="390.5" width="82.1" height="95.8" fill="none" stroke="#333" stroke-width="0.8"/>
<rect x="24.1" y="381" width="82.1" height="9.5" fill="#C3C3C3" stroke="#666" stroke-width="1"/>
<line x1="23.6" y1="390.5" x2="106.7" y2="390.5" stroke="#383838" stroke-width="1"/>
<clipPath id="s1"><rect x="24.6" y="378" width="81.1" height="14.5"/></clipPath>
<g clip-path="url(#s1)" font-size="6.5" fill="#AA2020" stroke="#AA2020" text-anchor="middle">
<text x="65.15" y="387.85">CAG-103 sp000432375</text>
</g>
<line x1="22.1" y1="485.2" x2="24.1" y2="485.2" stroke="#333" stroke-width="0.6"/>
<text x="21.5" y="487.65" font-size="6.9" fill="#404040" stroke="#404040" text-anchor="end">0.0</text>
<line x1="22.1" y1="461.14" x2="24.1" y2="461.14" stroke="#333" stroke-width="0.6"/>
<text x="21.5" y="463.59" font-size="6.9" fill="#404040" stroke="#404040" text-anchor="end">0.2</text>
<line x1="22.1" y1="437.08" x2="24.1" y2="437.08" stroke="#333" stroke-width="0.6"/>
<text x="21.5" y="439.53" font-size="6.9" fill="#404040" stroke="#404040" text-anchor="end">0.4</text>
<line x1="22.1" y1="413.02" x2="24.1" y2="413.02" stroke="#333" stroke-width="0.6"/>
<text x="21.5" y="415.47" font-size="6.9" fill="#404040" stroke="#404040" text-anchor="end">0.6</text>
<line x1="46.49" y1="486.3" x2="46.49" y2="488.3" stroke="#333" stroke-width="0.6"/>
<text x="46.49" y="493.9" font-size="6.6" fill="#222" stroke="#222" text-anchor="middle">Control</text>
<line x1="83.81" y1="486.3" x2="83.81" y2="488.3" stroke="#333" stroke-width="0.6"/>
<text x="83.81" y="493.9" font-size="6.6" fill="#222" stroke="#222" text-anchor="middle">Intervention</text>
<clipPath id="f2"><rect x="124.7" y="390.5" width="83.9" height="95.8"/></clipPath>
<g stroke="#E8E8E8" stroke-width="0.7">
<line x1="124.7" y1="486.6" x2="208.6" y2="486.6"/>
<line x1="124.7" y1="462.4" x2="208.6" y2="462.4"/>
<line x1="124.7" y1="438.2" x2="208.6" y2="438.2"/>
<line x1="124.7" y1="414" x2="208.6" y2="414"/>
<line x1="147.58" y1="390.5" x2="147.58" y2="486.3"/>
<line x1="185.72" y1="390.5" x2="185.72" y2="486.3"/>
</g>
<g clip-path="url(#f2)">
<line x1="147.58" y1="476.92" x2="147.58" y2="469.66" stroke="#AA2020" stroke-width="0.7"/>
<line x1="147.58" y1="435.78" x2="147.58" y2="395.85" stroke="#AA2020" stroke-width="0.7"/>
<rect x="133.28" y="435.78" width="28.6" height="33.88" fill="none" stroke="#AA2020" stroke-width="0.7"/>
<line x1="133.28" y1="458.53" x2="161.88" y2="458.53" stroke="#AA2020" stroke-width="1.3"/>
<g fill="#8B0000" fill-opacity="0.65">
<circle cx="147.7" cy="395.9" r="1.4"/>
<circle cx="150.5" cy="450.3" r="1.4"/>
<circle cx="148.0" cy="467.2" r="1.4"/>
<circle cx="152.0" cy="476.9" r="1.4"/>
</g>
<line x1="185.72" y1="481.76" x2="185.72" y2="479.34" stroke="#4682B4" stroke-width="0.7"/>
<line x1="185.72" y1="469.42" x2="185.72" y2="455.14" stroke="#4682B4" stroke-width="0.7"/>
<rect x="171.42" y="469.42" width="28.6" height="9.92" fill="none" stroke="#4682B4" stroke-width="0.7"/>
<line x1="171.42" y1="476.92" x2="200.02" y2="476.92" stroke="#4682B4" stroke-width="1.3"/>
<g fill="#4682B4" fill-opacity="0.65">
<circle cx="183.0" cy="455.1" r="1.4"/>
<circle cx="186.2" cy="464.8" r="1.4"/>
<circle cx="185.6" cy="467.2" r="1.4"/>
<circle cx="184.4" cy="472.1" r="1.4"/>
<circle cx="186.6" cy="472.3" r="1.4"/>
<circle cx="183.3" cy="476.9" r="1.4"/>
<circle cx="188.5" cy="478.1" r="1.4"/>
<circle cx="189.1" cy="479.3" r="1.4"/>
<circle cx="182.3" cy="480.6" r="1.4"/>
<circle cx="185.4" cy="481.8" r="1.4"/>
</g>
</g>
<rect x="124.7" y="390.5" width="83.9" height="95.8" fill="none" stroke="#333" stroke-width="0.8"/>
<rect x="124.7" y="381" width="83.9" height="9.5" fill="#C3C3C3" stroke="#666" stroke-width="1"/>
<line x1="124.2" y1="390.5" x2="209.1" y2="390.5" stroke="#383838" stroke-width="1"/>
<clipPath id="s2"><rect x="125.2" y="378" width="82.9" height="14.5"/></clipPath>
<g clip-path="url(#s2)" font-size="6.5" fill="#AA2020" stroke="#AA2020" text-anchor="middle">
<text x="169.45" y="387.85">CAG-245 sp000434195</text>
</g>
<line x1="122.7" y1="486.6" x2="124.7" y2="486.6" stroke="#333" stroke-width="0.6"/>
<text x="122.1" y="489.05" font-size="6.9" fill="#404040" stroke="#404040" text-anchor="end">0.0</text>
<line x1="122.7" y1="462.4" x2="124.7" y2="462.4" stroke="#333" stroke-width="0.6"/>
<text x="122.1" y="464.85" font-size="6.9" fill="#404040" stroke="#404040" text-anchor="end">0.1</text>
<line x1="122.7" y1="438.2" x2="124.7" y2="438.2" stroke="#333" stroke-width="0.6"/>
<text x="122.1" y="440.65" font-size="6.9" fill="#404040" stroke="#404040" text-anchor="end">0.2</text>
<line x1="122.7" y1="414" x2="124.7" y2="414" stroke="#333" stroke-width="0.6"/>
<text x="122.1" y="416.45" font-size="6.9" fill="#404040" stroke="#404040" text-anchor="end">0.3</text>
<line x1="147.58" y1="486.3" x2="147.58" y2="488.3" stroke="#333" stroke-width="0.6"/>
<text x="147.58" y="493.9" font-size="6.6" fill="#222" stroke="#222" text-anchor="middle">Control</text>
<line x1="185.72" y1="486.3" x2="185.72" y2="488.3" stroke="#333" stroke-width="0.6"/>
<text x="185.72" y="493.9" font-size="6.6" fill="#222" stroke="#222" text-anchor="middle">Intervention</text>
<clipPath id="f3"><rect x="223.6" y="390.5" width="83.7" height="95.8"/></clipPath>
<g stroke="#E8E8E8" stroke-width="0.7">
<line x1="223.6" y1="482.3" x2="307.3" y2="482.3"/>
<line x1="223.6" y1="454" x2="307.3" y2="454"/>
<line x1="223.6" y1="425.7" x2="307.3" y2="425.7"/>
<line x1="223.6" y1="397.4" x2="307.3" y2="397.4"/>
<line x1="246.43" y1="390.5" x2="246.43" y2="486.3"/>
<line x1="284.47" y1="390.5" x2="284.47" y2="486.3"/>
</g>
<g clip-path="url(#f3)">
<line x1="246.43" y1="482.3" x2="246.43" y2="479.47" stroke="#AA2020" stroke-width="0.7"/>
<line x1="246.43" y1="469.85" x2="246.43" y2="460.79" stroke="#AA2020" stroke-width="0.7"/>
<rect x="232.16" y="469.85" width="28.53" height="9.62" fill="none" stroke="#AA2020" stroke-width="0.7"/>
<line x1="232.16" y1="476.64" x2="260.69" y2="476.64" stroke="#AA2020" stroke-width="1.3"/>
<g fill="#8B0000" fill-opacity="0.65">
<circle cx="244.4" cy="398.0" r="1.4"/>
<circle cx="242.6" cy="398.0" r="1.4"/>
<circle cx="250.0" cy="425.7" r="1.4"/>
<circle cx="245.8" cy="425.7" r="1.4"/>
<circle cx="243.2" cy="446.6" r="1.4"/>
<circle cx="248.0" cy="447.8" r="1.4"/>
<circle cx="243.7" cy="449.5" r="1.4"/>
<circle cx="250.1" cy="451.2" r="1.4"/>
<circle cx="243.8" cy="452.9" r="1.4"/>
<circle cx="242.2" cy="454.0" r="1.4"/>
<circle cx="243.7" cy="458.5" r="1.4"/>
<circle cx="245.0" cy="462.5" r="1.4"/>
<circle cx="246.1" cy="465.3" r="1.4"/>
<circle cx="250.1" cy="467.0" r="1.4"/>
<circle cx="248.2" cy="468.7" r="1.4"/>
<circle cx="245.0" cy="469.8" r="1.4"/>
<circle cx="242.0" cy="471.0" r="1.4"/>
<circle cx="243.3" cy="472.1" r="1.4"/>
<circle cx="251.0" cy="473.2" r="1.4"/>
<circle cx="246.1" cy="473.8" r="1.4"/>
<circle cx="248.2" cy="474.9" r="1.4"/>
<circle cx="242.4" cy="475.5" r="1.4"/>
<circle cx="242.2" cy="476.1" r="1.4"/>
<circle cx="249.6" cy="476.6" r="1.4"/>
<circle cx="247.2" cy="477.2" r="1.4"/>
<circle cx="244.7" cy="477.8" r="1.4"/>
<circle cx="244.8" cy="478.3" r="1.4"/>
<circle cx="242.7" cy="478.9" r="1.4"/>
<circle cx="243.4" cy="479.5" r="1.4"/>
<circle cx="242.1" cy="479.5" r="1.4"/>
<circle cx="249.5" cy="480.0" r="1.4"/>
<circle cx="246.1" cy="480.6" r="1.4"/>
<circle cx="243.0" cy="480.6" r="1.4"/>
<circle cx="248.6" cy="481.2" r="1.4"/>
<circle cx="243.6" cy="481.2" r="1.4"/>
<circle cx="242.4" cy="481.7" r="1.4"/>
<circle cx="247.3" cy="481.7" r="1.4"/>
<circle cx="250.0" cy="482.3" r="1.4"/>
</g>
<line x1="284.47" y1="482.3" x2="284.47" y2="477.77" stroke="#4682B4" stroke-width="0.7"/>
<line x1="284.47" y1="453.43" x2="284.47" y2="416.08" stroke="#4682B4" stroke-width="0.7"/>
<rect x="270.21" y="453.43" width="28.53" height="24.34" fill="none" stroke="#4682B4" stroke-width="0.7"/>
<line x1="270.21" y1="474.94" x2="298.74" y2="474.94" stroke="#4682B4" stroke-width="1.3"/>
<g fill="#4682B4" fill-opacity="0.65">
<circle cx="280.2" cy="394.6" r="1.4"/>
<circle cx="287.3" cy="394.6" r="1.4"/>
<circle cx="281.6" cy="416.1" r="1.4"/>
<circle cx="280.8" cy="417.2" r="1.4"/>
<circle cx="280.1" cy="417.8" r="1.4"/>
<circle cx="282.6" cy="428.5" r="1.4"/>
<circle cx="286.5" cy="429.7" r="1.4"/>
<circle cx="284.4" cy="431.4" r="1.4"/>
<circle cx="287.7" cy="434.2" r="1.4"/>
<circle cx="281.9" cy="439.9" r="1.4"/>
<circle cx="282.8" cy="447.2" r="1.4"/>
<circle cx="282.3" cy="450.0" r="1.4"/>
<circle cx="288.8" cy="451.2" r="1.4"/>
<circle cx="288.5" cy="454.0" r="1.4"/>
<circle cx="283.0" cy="455.1" r="1.4"/>
<circle cx="283.9" cy="461.9" r="1.4"/>
<circle cx="282.8" cy="463.6" r="1.4"/>
<circle cx="286.7" cy="466.5" r="1.4"/>
<circle cx="280.3" cy="469.3" r="1.4"/>
<circle cx="280.5" cy="471.0" r="1.4"/>
<circle cx="283.6" cy="472.1" r="1.4"/>
<circle cx="282.1" cy="472.7" r="1.4"/>
<circle cx="287.6" cy="473.8" r="1.4"/>
<circle cx="286.7" cy="474.4" r="1.4"/>
<circle cx="284.9" cy="474.9" r="1.4"/>
<circle cx="285.9" cy="475.5" r="1.4"/>
<circle cx="286.2" cy="476.1" r="1.4"/>
<circle cx="287.0" cy="476.6" r="1.4"/>
<circle cx="288.4" cy="477.2" r="1.4"/>
<circle cx="281.3" cy="477.8" r="1.4"/>
<circle cx="285.6" cy="478.3" r="1.4"/>
<circle cx="281.2" cy="478.9" r="1.4"/>
<circle cx="284.0" cy="479.5" r="1.4"/>
<circle cx="287.1" cy="480.0" r="1.4"/>
<circle cx="288.1" cy="480.6" r="1.4"/>
<circle cx="286.8" cy="481.2" r="1.4"/>
<circle cx="280.2" cy="481.7" r="1.4"/>
<circle cx="283.2" cy="482.3" r="1.4"/>
</g>
</g>
<rect x="223.6" y="390.5" width="83.7" height="95.8" fill="none" stroke="#333" stroke-width="0.8"/>
<rect x="223.6" y="381" width="83.7" height="9.5" fill="#C3C3C3" stroke="#666" stroke-width="1"/>
<line x1="223.1" y1="390.5" x2="307.8" y2="390.5" stroke="#383838" stroke-width="1"/>
<clipPath id="s3"><rect x="224.1" y="378" width="82.7" height="14.5"/></clipPath>
<g clip-path="url(#s3)" font-size="6.5" fill="#4682B4" stroke="#4682B4" text-anchor="middle">
<text x="267.35" y="387.85">Lachnospiraceae sp.</text>
</g>
<line x1="221.6" y1="482.3" x2="223.6" y2="482.3" stroke="#333" stroke-width="0.6"/>
<text x="221" y="484.75" font-size="6.9" fill="#404040" stroke="#404040" text-anchor="end">0.0</text>
<line x1="221.6" y1="454" x2="223.6" y2="454" stroke="#333" stroke-width="0.6"/>
<text x="221" y="456.45" font-size="6.9" fill="#404040" stroke="#404040" text-anchor="end">0.5</text>
<line x1="221.6" y1="425.7" x2="223.6" y2="425.7" stroke="#333" stroke-width="0.6"/>
<text x="221" y="428.15" font-size="6.9" fill="#404040" stroke="#404040" text-anchor="end">1.0</text>
<line x1="221.6" y1="397.4" x2="223.6" y2="397.4" stroke="#333" stroke-width="0.6"/>
<text x="221" y="399.85" font-size="6.9" fill="#404040" stroke="#404040" text-anchor="end">1.5</text>
<line x1="246.43" y1="486.3" x2="246.43" y2="488.3" stroke="#333" stroke-width="0.6"/>
<text x="246.43" y="493.9" font-size="6.6" fill="#222" stroke="#222" text-anchor="middle">Control</text>
<line x1="284.47" y1="486.3" x2="284.47" y2="488.3" stroke="#333" stroke-width="0.6"/>
<text x="284.47" y="493.9" font-size="6.6" fill="#222" stroke="#222" text-anchor="middle">Intervention</text>
<clipPath id="f4"><rect x="326.5" y="390.5" width="83" height="95.8"/></clipPath>
<g stroke="#E8E8E8" stroke-width="0.7">
<line x1="326.5" y1="482.8" x2="409.5" y2="482.8"/>
<line x1="326.5" y1="455.4" x2="409.5" y2="455.4"/>
<line x1="326.5" y1="428" x2="409.5" y2="428"/>
<line x1="326.5" y1="400.6" x2="409.5" y2="400.6"/>
<line x1="349.14" y1="390.5" x2="349.14" y2="486.3"/>
<line x1="386.86" y1="390.5" x2="386.86" y2="486.3"/>
</g>
<g clip-path="url(#f4)">
<line x1="349.14" y1="482.8" x2="349.14" y2="479.79" stroke="#AA2020" stroke-width="0.7"/>
<line x1="349.14" y1="464.99" x2="349.14" y2="444.03" stroke="#AA2020" stroke-width="0.7"/>
<rect x="334.99" y="464.99" width="28.3" height="14.8" fill="none" stroke="#AA2020" stroke-width="0.7"/>
<line x1="334.99" y1="475.26" x2="363.28" y2="475.26" stroke="#AA2020" stroke-width="1.3"/>
<g fill="#8B0000" fill-opacity="0.65">
<circle cx="346.1" cy="423.9" r="1.4"/>
<circle cx="353.7" cy="423.9" r="1.4"/>
<circle cx="345.9" cy="444.0" r="1.4"/>
<circle cx="346.8" cy="463.6" r="1.4"/>
<circle cx="347.8" cy="469.1" r="1.4"/>
<circle cx="345.2" cy="469.8" r="1.4"/>
<circle cx="352.5" cy="479.8" r="1.4"/>
<circle cx="350.4" cy="480.1" r="1.4"/>
<circle cx="346.1" cy="480.7" r="1.4"/>
<circle cx="349.1" cy="481.4" r="1.4"/>
<circle cx="345.3" cy="482.1" r="1.4"/>
<circle cx="350.1" cy="480.1" r="1.4"/>
</g>
<line x1="386.86" y1="481.43" x2="386.86" y2="475.26" stroke="#4682B4" stroke-width="0.7"/>
<line x1="386.86" y1="457.73" x2="386.86" y2="452.66" stroke="#4682B4" stroke-width="0.7"/>
<rect x="372.72" y="457.73" width="28.3" height="17.54" fill="none" stroke="#4682B4" stroke-width="0.7"/>
<line x1="372.72" y1="467.46" x2="401.01" y2="467.46" stroke="#4682B4" stroke-width="1.3"/>
<g fill="#4682B4" fill-opacity="0.65">
<circle cx="384.4" cy="395.1" r="1.4"/>
<circle cx="382.7" cy="395.1" r="1.4"/>
<circle cx="383.4" cy="410.2" r="1.4"/>
<circle cx="387.4" cy="410.2" r="1.4"/>
<circle cx="388.1" cy="429.4" r="1.4"/>
<circle cx="385.3" cy="429.4" r="1.4"/>
<circle cx="388.2" cy="452.7" r="1.4"/>
<circle cx="385.5" cy="456.8" r="1.4"/>
<circle cx="383.5" cy="460.9" r="1.4"/>
<circle cx="385.2" cy="462.2" r="1.4"/>
<circle cx="385.9" cy="465.0" r="1.4"/>
<circle cx="390.6" cy="466.4" r="1.4"/>
<circle cx="383.4" cy="469.1" r="1.4"/>
<circle cx="383.1" cy="471.8" r="1.4"/>
<circle cx="387.4" cy="473.2" r="1.4"/>
<circle cx="391.1" cy="475.9" r="1.4"/>
<circle cx="390.6" cy="477.3" r="1.4"/>
<circle cx="388.7" cy="478.7" r="1.4"/>
<circle cx="382.9" cy="480.1" r="1.4"/>
<circle cx="389.6" cy="481.4" r="1.4"/>
</g>
</g>
<rect x="326.5" y="390.5" width="83" height="95.8" fill="none" stroke="#333" stroke-width="0.8"/>
<rect x="326.5" y="381" width="83" height="9.5" fill="#C3C3C3" stroke="#666" stroke-width="1"/>
<line x1="326" y1="390.5" x2="410" y2="390.5" stroke="#383838" stroke-width="1"/>
<clipPath id="s4"><rect x="327" y="378" width="82" height="14.5"/></clipPath>
<g clip-path="url(#s4)" font-size="6.5" fill="#4682B4" stroke="#4682B4" text-anchor="middle">
<text x="369.3" y="387.85">UBA1436 sp.</text>
</g>
<line x1="324.5" y1="482.8" x2="326.5" y2="482.8" stroke="#333" stroke-width="0.6"/>
<text x="323.9" y="485.25" font-size="6.9" fill="#404040" stroke="#404040" text-anchor="end">0.0</text>
<line x1="324.5" y1="455.4" x2="326.5" y2="455.4" stroke="#333" stroke-width="0.6"/>
<text x="323.9" y="457.85" font-size="6.9" fill="#404040" stroke="#404040" text-anchor="end">0.2</text>
<line x1="324.5" y1="428" x2="326.5" y2="428" stroke="#333" stroke-width="0.6"/>
<text x="323.9" y="430.45" font-size="6.9" fill="#404040" stroke="#404040" text-anchor="end">0.4</text>
<line x1="324.5" y1="400.6" x2="326.5" y2="400.6" stroke="#333" stroke-width="0.6"/>
<text x="323.9" y="403.05" font-size="6.9" fill="#404040" stroke="#404040" text-anchor="end">0.6</text>
<line x1="349.14" y1="486.3" x2="349.14" y2="488.3" stroke="#333" stroke-width="0.6"/>
<text x="349.14" y="493.9" font-size="6.6" fill="#222" stroke="#222" text-anchor="middle">Control</text>
<line x1="386.86" y1="486.3" x2="386.86" y2="488.3" stroke="#333" stroke-width="0.6"/>
<text x="386.86" y="493.9" font-size="6.6" fill="#222" stroke="#222" text-anchor="middle">Intervention</text>
<clipPath id="f5"><rect x="428.9" y="390.5" width="83.6" height="95.8"/></clipPath>
<g stroke="#E8E8E8" stroke-width="0.7">
<line x1="428.9" y1="469.5" x2="512.5" y2="469.5"/>
<line x1="428.9" y1="448.8" x2="512.5" y2="448.8"/>
<line x1="428.9" y1="428.1" x2="512.5" y2="428.1"/>
<line x1="428.9" y1="407.4" x2="512.5" y2="407.4"/>
<line x1="451.7" y1="390.5" x2="451.7" y2="486.3"/>
<line x1="489.7" y1="390.5" x2="489.7" y2="486.3"/>
</g>
<g clip-path="url(#f5)">
<line x1="451.7" y1="481.92" x2="451.7" y2="480.51" stroke="#AA2020" stroke-width="0.7"/>
<line x1="451.7" y1="474.59" x2="451.7" y2="469.91" stroke="#AA2020" stroke-width="0.7"/>
<rect x="437.45" y="474.59" width="28.5" height="5.92" fill="none" stroke="#AA2020" stroke-width="0.7"/>
<line x1="437.45" y1="477.49" x2="465.95" y2="477.49" stroke="#AA2020" stroke-width="1.3"/>
<g fill="#8B0000" fill-opacity="0.65">
<circle cx="453.4" cy="467.4" r="1.4"/>
<circle cx="448.5" cy="474.5" r="1.4"/>
<circle cx="451.4" cy="477.8" r="1.4"/>
<circle cx="447.6" cy="481.1" r="1.4"/>
<circle cx="454.5" cy="481.9" r="1.4"/>
<circle cx="453.7" cy="479.8" r="1.4"/>
</g>
<line x1="489.7" y1="481.09" x2="489.7" y2="477.49" stroke="#4682B4" stroke-width="0.7"/>
<line x1="489.7" y1="440.52" x2="489.7" y2="395.1" stroke="#4682B4" stroke-width="0.7"/>
<rect x="475.45" y="440.52" width="28.5" height="36.97" fill="none" stroke="#4682B4" stroke-width="0.7"/>
<line x1="475.45" y1="461.39" x2="503.95" y2="461.39" stroke="#4682B4" stroke-width="1.3"/>
<g fill="#4682B4" fill-opacity="0.65">
<circle cx="492.5" cy="395.0" r="1.4"/>
<circle cx="492.1" cy="418.6" r="1.4"/>
<circle cx="487.6" cy="423.1" r="1.4"/>
<circle cx="492.3" cy="432.2" r="1.4"/>
<circle cx="487.4" cy="448.8" r="1.4"/>
<circle cx="486.4" cy="450.0" r="1.4"/>
<circle cx="488.7" cy="455.8" r="1.4"/>
<circle cx="489.7" cy="461.2" r="1.4"/>
<circle cx="487.7" cy="462.5" r="1.4"/>
<circle cx="490.7" cy="477.8" r="1.4"/>
<circle cx="490.6" cy="477.8" r="1.4"/>
<circle cx="487.3" cy="477.8" r="1.4"/>
<circle cx="490.8" cy="477.8" r="1.4"/>
<circle cx="488.4" cy="479.8" r="1.4"/>
<circle cx="491.8" cy="481.1" r="1.4"/>
</g>
</g>
<rect x="428.9" y="390.5" width="83.6" height="95.8" fill="none" stroke="#333" stroke-width="0.8"/>
<rect x="428.9" y="381" width="83.6" height="9.5" fill="#C3C3C3" stroke="#666" stroke-width="1"/>
<line x1="428.4" y1="390.5" x2="513" y2="390.5" stroke="#383838" stroke-width="1"/>
<clipPath id="s5"><rect x="429.4" y="378" width="82.6" height="14.5"/></clipPath>
<g clip-path="url(#s5)" font-size="6.5" fill="#4682B4" stroke="#4682B4" text-anchor="middle">
<text x="471.3" y="387.85">UMGS882 sp.</text>
</g>
<line x1="426.9" y1="469.5" x2="428.9" y2="469.5" stroke="#333" stroke-width="0.6"/>
<text x="426.3" y="471.95" font-size="6.9" fill="#404040" stroke="#404040" text-anchor="end">0.05</text>
<line x1="426.9" y1="448.8" x2="428.9" y2="448.8" stroke="#333" stroke-width="0.6"/>
<text x="426.3" y="451.25" font-size="6.9" fill="#404040" stroke="#404040" text-anchor="end">0.10</text>
<line x1="426.9" y1="428.1" x2="428.9" y2="428.1" stroke="#333" stroke-width="0.6"/>
<text x="426.3" y="430.55" font-size="6.9" fill="#404040" stroke="#404040" text-anchor="end">0.15</text>
<line x1="426.9" y1="407.4" x2="428.9" y2="407.4" stroke="#333" stroke-width="0.6"/>
<text x="426.3" y="409.85" font-size="6.9" fill="#404040" stroke="#404040" text-anchor="end">0.20</text>
<line x1="451.7" y1="486.3" x2="451.7" y2="488.3" stroke="#333" stroke-width="0.6"/>
<text x="451.7" y="493.9" font-size="6.6" fill="#222" stroke="#222" text-anchor="middle">Control</text>
<line x1="489.7" y1="486.3" x2="489.7" y2="488.3" stroke="#333" stroke-width="0.6"/>
<text x="489.7" y="493.9" font-size="6.6" fill="#222" stroke="#222" text-anchor="middle">Intervention</text>
<clipPath id="f6"><rect x="24.1" y="513.5" width="81.9" height="94.8"/></clipPath>
<g stroke="#E8E8E8" stroke-width="0.7">
<line x1="24.1" y1="605" x2="106" y2="605"/>
<line x1="24.1" y1="587.6" x2="106" y2="587.6"/>
<line x1="24.1" y1="570.2" x2="106" y2="570.2"/>
<line x1="24.1" y1="552.8" x2="106" y2="552.8"/>
<line x1="24.1" y1="535.4" x2="106" y2="535.4"/>
<line x1="24.1" y1="518" x2="106" y2="518"/>
<line x1="46.44" y1="513.5" x2="46.44" y2="608.3"/>
<line x1="83.66" y1="513.5" x2="83.66" y2="608.3"/>
</g>
<g clip-path="url(#f6)">
<line x1="46.44" y1="602.56" x2="46.44" y2="598.39" stroke="#AA2020" stroke-width="0.7"/>
<line x1="46.44" y1="586.9" x2="46.44" y2="574.03" stroke="#AA2020" stroke-width="0.7"/>
<rect x="32.48" y="586.9" width="27.92" height="11.48" fill="none" stroke="#AA2020" stroke-width="0.7"/>
<line x1="32.48" y1="593.17" x2="60.4" y2="593.17" stroke="#AA2020" stroke-width="1.3"/>
<g fill="#8B0000" fill-opacity="0.65">
<circle cx="44.6" cy="555.9" r="1.4"/>
<circle cx="49.1" cy="555.9" r="1.4"/>
<circle cx="45.7" cy="561.2" r="1.4"/>
<circle cx="46.9" cy="561.2" r="1.4"/>
<circle cx="48.0" cy="574.0" r="1.4"/>
<circle cx="46.6" cy="586.9" r="1.4"/>
<circle cx="44.3" cy="587.6" r="1.4"/>
<circle cx="50.7" cy="588.3" r="1.4"/>
<circle cx="42.8" cy="592.1" r="1.4"/>
<circle cx="44.9" cy="593.5" r="1.4"/>
<circle cx="46.9" cy="596.3" r="1.4"/>
<circle cx="42.2" cy="596.6" r="1.4"/>
<circle cx="43.4" cy="600.1" r="1.4"/>
<circle cx="49.1" cy="600.8" r="1.4"/>
<circle cx="49.0" cy="601.5" r="1.4"/>
<circle cx="47.7" cy="602.2" r="1.4"/>
</g>
<line x1="83.66" y1="604.3" x2="83.66" y2="601.28" stroke="#4682B4" stroke-width="0.7"/>
<line x1="83.66" y1="591.43" x2="83.66" y2="578.2" stroke="#4682B4" stroke-width="0.7"/>
<rect x="69.7" y="591.43" width="27.92" height="9.85" fill="none" stroke="#4682B4" stroke-width="0.7"/>
<line x1="69.7" y1="598.39" x2="97.62" y2="598.39" stroke="#4682B4" stroke-width="1.3"/>
<g fill="#4682B4" fill-opacity="0.65">
<circle cx="87.3" cy="518.0" r="1.4"/>
<circle cx="85.9" cy="518.0" r="1.4"/>
<circle cx="81.9" cy="525.0" r="1.4"/>
<circle cx="85.0" cy="525.0" r="1.4"/>
<circle cx="82.2" cy="536.8" r="1.4"/>
<circle cx="85.9" cy="536.8" r="1.4"/>
<circle cx="82.6" cy="570.2" r="1.4"/>
<circle cx="80.6" cy="570.2" r="1.4"/>
<circle cx="87.0" cy="578.2" r="1.4"/>
<circle cx="85.4" cy="579.9" r="1.4"/>
<circle cx="85.8" cy="591.4" r="1.4"/>
<circle cx="84.2" cy="595.3" r="1.4"/>
<circle cx="86.2" cy="596.3" r="1.4"/>
<circle cx="83.2" cy="597.3" r="1.4"/>
<circle cx="84.3" cy="598.0" r="1.4"/>
<circle cx="79.8" cy="598.7" r="1.4"/>
<circle cx="84.2" cy="599.8" r="1.4"/>
<circle cx="86.5" cy="601.5" r="1.4"/>
<circle cx="85.5" cy="602.2" r="1.4"/>
<circle cx="86.4" cy="602.9" r="1.4"/>
<circle cx="83.6" cy="603.3" r="1.4"/>
<circle cx="87.1" cy="603.6" r="1.4"/>
<circle cx="80.2" cy="604.0" r="1.4"/>
</g>
</g>
<rect x="24.1" y="513.5" width="81.9" height="94.8" fill="none" stroke="#333" stroke-width="0.8"/>
<rect x="24.1" y="504.4" width="81.9" height="9.1" fill="#C3C3C3" stroke="#666" stroke-width="1"/>
<line x1="23.6" y1="513.5" x2="106.5" y2="513.5" stroke="#383838" stroke-width="1"/>
<clipPath id="s6"><rect x="24.6" y="501.4" width="80.9" height="14.1"/></clipPath>
<g clip-path="url(#s6)" font-size="6.5" fill="#AA2020" stroke="#AA2020" text-anchor="middle" font-style="italic">
<text x="65.55" y="511.05">Agathobacter sp900546625</text>
</g>
<line x1="22.1" y1="605" x2="24.1" y2="605" stroke="#333" stroke-width="0.6"/>
<text x="21.5" y="607.45" font-size="6.9" fill="#404040" stroke="#404040" text-anchor="end">0.0</text>
<line x1="22.1" y1="587.6" x2="24.1" y2="587.6" stroke="#333" stroke-width="0.6"/>
<text x="21.5" y="590.05" font-size="6.9" fill="#404040" stroke="#404040" text-anchor="end">0.5</text>
<line x1="22.1" y1="570.2" x2="24.1" y2="570.2" stroke="#333" stroke-width="0.6"/>
<text x="21.5" y="572.65" font-size="6.9" fill="#404040" stroke="#404040" text-anchor="end">1.0</text>
<line x1="22.1" y1="552.8" x2="24.1" y2="552.8" stroke="#333" stroke-width="0.6"/>
<text x="21.5" y="555.25" font-size="6.9" fill="#404040" stroke="#404040" text-anchor="end">1.5</text>
<line x1="22.1" y1="535.4" x2="24.1" y2="535.4" stroke="#333" stroke-width="0.6"/>
<text x="21.5" y="537.85" font-size="6.9" fill="#404040" stroke="#404040" text-anchor="end">2.0</text>
<line x1="22.1" y1="518" x2="24.1" y2="518" stroke="#333" stroke-width="0.6"/>
<text x="21.5" y="520.45" font-size="6.9" fill="#404040" stroke="#404040" text-anchor="end">2.5</text>
<line x1="46.44" y1="608.3" x2="46.44" y2="610.3" stroke="#333" stroke-width="0.6"/>
<text x="46.44" y="615.9" font-size="6.6" fill="#222" stroke="#222" text-anchor="middle">Control</text>
<line x1="83.66" y1="608.3" x2="83.66" y2="610.3" stroke="#333" stroke-width="0.6"/>
<text x="83.66" y="615.9" font-size="6.6" fill="#222" stroke="#222" text-anchor="middle">Intervention</text>
<clipPath id="f7"><rect x="125" y="513.5" width="82.4" height="94.8"/></clipPath>
<g stroke="#E8E8E8" stroke-width="0.7">
<line x1="125" y1="605.7" x2="207.4" y2="605.7"/>
<line x1="125" y1="576.5" x2="207.4" y2="576.5"/>
<line x1="125" y1="547.3" x2="207.4" y2="547.3"/>
<line x1="125" y1="518.1" x2="207.4" y2="518.1"/>
<line x1="147.47" y1="513.5" x2="147.47" y2="608.3"/>
<line x1="184.93" y1="513.5" x2="184.93" y2="608.3"/>
</g>
<g clip-path="url(#f7)">
<line x1="147.47" y1="600.59" x2="147.47" y2="594.31" stroke="#AA2020" stroke-width="0.7"/>
<line x1="147.47" y1="563.36" x2="147.47" y2="518.1" stroke="#AA2020" stroke-width="0.7"/>
<rect x="133.43" y="563.36" width="28.09" height="30.95" fill="none" stroke="#AA2020" stroke-width="0.7"/>
<line x1="133.43" y1="576.5" x2="161.52" y2="576.5" stroke="#AA2020" stroke-width="1.3"/>
<g fill="#8B0000" fill-opacity="0.65">
<circle cx="150.8" cy="518.1" r="1.4"/>
<circle cx="146.3" cy="527.6" r="1.4"/>
<circle cx="143.8" cy="563.4" r="1.4"/>
<circle cx="148.5" cy="573.6" r="1.4"/>
<circle cx="147.1" cy="576.5" r="1.4"/>
<circle cx="146.8" cy="583.8" r="1.4"/>
<circle cx="150.6" cy="594.0" r="1.4"/>
<circle cx="144.2" cy="595.5" r="1.4"/>
<circle cx="148.5" cy="600.6" r="1.4"/>
</g>
<line x1="184.93" y1="604.24" x2="184.93" y2="599.86" stroke="#4682B4" stroke-width="0.7"/>
<line x1="184.93" y1="579.42" x2="184.93" y2="567.74" stroke="#4682B4" stroke-width="0.7"/>
<rect x="170.88" y="579.42" width="28.09" height="20.44" fill="none" stroke="#4682B4" stroke-width="0.7"/>
<line x1="170.88" y1="598.69" x2="198.97" y2="598.69" stroke="#4682B4" stroke-width="1.3"/>
<g fill="#4682B4" fill-opacity="0.65">
<circle cx="184.2" cy="540.0" r="1.4"/>
<circle cx="185.2" cy="540.0" r="1.4"/>
<circle cx="184.9" cy="541.5" r="1.4"/>
<circle cx="181.6" cy="542.9" r="1.4"/>
<circle cx="185.0" cy="567.7" r="1.4"/>
<circle cx="188.2" cy="569.2" r="1.4"/>
<circle cx="182.0" cy="579.4" r="1.4"/>
<circle cx="180.5" cy="588.2" r="1.4"/>
<circle cx="181.0" cy="589.6" r="1.4"/>
<circle cx="184.6" cy="592.6" r="1.4"/>
<circle cx="189.2" cy="598.4" r="1.4"/>
<circle cx="180.8" cy="599.1" r="1.4"/>
<circle cx="189.3" cy="599.9" r="1.4"/>
<circle cx="185.3" cy="601.3" r="1.4"/>
<circle cx="181.5" cy="602.8" r="1.4"/>
<circle cx="184.2" cy="603.5" r="1.4"/>
<circle cx="182.3" cy="604.2" r="1.4"/>
</g>
</g>
<rect x="125" y="513.5" width="82.4" height="94.8" fill="none" stroke="#333" stroke-width="0.8"/>
<rect x="125" y="504.4" width="82.4" height="9.1" fill="#C3C3C3" stroke="#666" stroke-width="1"/>
<line x1="124.5" y1="513.5" x2="207.9" y2="513.5" stroke="#383838" stroke-width="1"/>
<clipPath id="s7"><rect x="125.5" y="501.4" width="81.4" height="14.1"/></clipPath>
<g clip-path="url(#s7)" font-size="6.5" fill="#AA2020" stroke="#AA2020" text-anchor="middle">
<text x="166.2" y="511.05">CAG-452 sp000434035</text>
</g>
<line x1="123" y1="605.7" x2="125" y2="605.7" stroke="#333" stroke-width="0.6"/>
<text x="122.4" y="608.15" font-size="6.9" fill="#404040" stroke="#404040" text-anchor="end">0.0</text>
<line x1="123" y1="576.5" x2="125" y2="576.5" stroke="#333" stroke-width="0.6"/>
<text x="122.4" y="578.95" font-size="6.9" fill="#404040" stroke="#404040" text-anchor="end">0.2</text>
<line x1="123" y1="547.3" x2="125" y2="547.3" stroke="#333" stroke-width="0.6"/>
<text x="122.4" y="549.75" font-size="6.9" fill="#404040" stroke="#404040" text-anchor="end">0.4</text>
<line x1="123" y1="518.1" x2="125" y2="518.1" stroke="#333" stroke-width="0.6"/>
<text x="122.4" y="520.55" font-size="6.9" fill="#404040" stroke="#404040" text-anchor="end">0.6</text>
<line x1="147.47" y1="608.3" x2="147.47" y2="610.3" stroke="#333" stroke-width="0.6"/>
<text x="147.47" y="615.9" font-size="6.6" fill="#222" stroke="#222" text-anchor="middle">Control</text>
<line x1="184.93" y1="608.3" x2="184.93" y2="610.3" stroke="#333" stroke-width="0.6"/>
<text x="184.93" y="615.9" font-size="6.6" fill="#222" stroke="#222" text-anchor="middle">Intervention</text>
<clipPath id="f8"><rect x="225.2" y="513.5" width="82.2" height="94.8"/></clipPath>
<g stroke="#E8E8E8" stroke-width="0.7">
<line x1="225.2" y1="605.3" x2="307.4" y2="605.3"/>
<line x1="225.2" y1="582.2" x2="307.4" y2="582.2"/>
<line x1="225.2" y1="559.1" x2="307.4" y2="559.1"/>
<line x1="225.2" y1="536" x2="307.4" y2="536"/>
<line x1="247.62" y1="513.5" x2="247.62" y2="608.3"/>
<line x1="284.98" y1="513.5" x2="284.98" y2="608.3"/>
</g>
<g clip-path="url(#f8)">
<line x1="247.62" y1="604.84" x2="247.62" y2="601.28" stroke="#AA2020" stroke-width="0.7"/>
<line x1="247.62" y1="576.19" x2="247.62" y2="544.32" stroke="#AA2020" stroke-width="0.7"/>
<rect x="233.61" y="576.19" width="28.02" height="25.09" fill="none" stroke="#AA2020" stroke-width="0.7"/>
<line x1="233.61" y1="594.21" x2="261.63" y2="594.21" stroke="#AA2020" stroke-width="1.3"/>
<g fill="#8B0000" fill-opacity="0.65">
<circle cx="249.5" cy="522.1" r="1.4"/>
<circle cx="248.0" cy="522.1" r="1.4"/>
<circle cx="245.7" cy="544.3" r="1.4"/>
<circle cx="245.4" cy="568.3" r="1.4"/>
<circle cx="250.9" cy="573.9" r="1.4"/>
<circle cx="250.0" cy="574.3" r="1.4"/>
<circle cx="247.0" cy="577.6" r="1.4"/>
<circle cx="246.8" cy="579.4" r="1.4"/>
<circle cx="249.7" cy="588.2" r="1.4"/>
<circle cx="251.8" cy="592.4" r="1.4"/>
<circle cx="243.8" cy="594.2" r="1.4"/>
<circle cx="244.6" cy="598.4" r="1.4"/>
<circle cx="246.4" cy="600.7" r="1.4"/>
<circle cx="247.7" cy="601.6" r="1.4"/>
<circle cx="243.8" cy="603.0" r="1.4"/>
<circle cx="243.6" cy="603.9" r="1.4"/>
<circle cx="245.1" cy="604.4" r="1.4"/>
</g>
<line x1="284.98" y1="605.3" x2="284.98" y2="602.53" stroke="#4682B4" stroke-width="0.7"/>
<line x1="284.98" y1="596.29" x2="284.98" y2="593.75" stroke="#4682B4" stroke-width="0.7"/>
<rect x="270.97" y="596.29" width="28.02" height="6.24" fill="none" stroke="#4682B4" stroke-width="0.7"/>
<line x1="270.97" y1="601.14" x2="298.99" y2="601.14" stroke="#4682B4" stroke-width="1.3"/>
<g fill="#4682B4" fill-opacity="0.65">
<circle cx="284.0" cy="517.5" r="1.4"/>
<circle cx="287.1" cy="517.5" r="1.4"/>
<circle cx="286.0" cy="546.2" r="1.4"/>
<circle cx="280.8" cy="546.2" r="1.4"/>
<circle cx="280.9" cy="548.9" r="1.4"/>
<circle cx="284.6" cy="548.9" r="1.4"/>
<circle cx="288.3" cy="561.9" r="1.4"/>
<circle cx="288.7" cy="561.9" r="1.4"/>
<circle cx="283.8" cy="580.4" r="1.4"/>
<circle cx="288.5" cy="580.4" r="1.4"/>
<circle cx="288.8" cy="585.0" r="1.4"/>
<circle cx="284.1" cy="585.0" r="1.4"/>
<circle cx="287.2" cy="593.8" r="1.4"/>
<circle cx="283.8" cy="596.1" r="1.4"/>
<circle cx="281.9" cy="598.4" r="1.4"/>
<circle cx="285.7" cy="599.8" r="1.4"/>
<circle cx="281.3" cy="600.7" r="1.4"/>
<circle cx="286.4" cy="601.1" r="1.4"/>
<circle cx="287.8" cy="601.6" r="1.4"/>
<circle cx="288.7" cy="602.1" r="1.4"/>
<circle cx="284.5" cy="602.5" r="1.4"/>
<circle cx="281.6" cy="603.0" r="1.4"/>
<circle cx="288.6" cy="603.5" r="1.4"/>
<circle cx="288.3" cy="603.9" r="1.4"/>
<circle cx="289.2" cy="604.4" r="1.4"/>
<circle cx="285.8" cy="604.8" r="1.4"/>
</g>
</g>
<rect x="225.2" y="513.5" width="82.2" height="94.8" fill="none" stroke="#333" stroke-width="0.8"/>
<rect x="225.2" y="504.4" width="82.2" height="9.1" fill="#C3C3C3" stroke="#666" stroke-width="1"/>
<line x1="224.7" y1="513.5" x2="307.9" y2="513.5" stroke="#383838" stroke-width="1"/>
<clipPath id="s8"><rect x="225.7" y="501.4" width="81.2" height="14.1"/></clipPath>
<g clip-path="url(#s8)" font-size="6.5" fill="#AA2020" stroke="#AA2020" text-anchor="middle" font-style="italic">
<text x="266.3" y="511.05">Agathobacter sp.</text>
</g>
<line x1="223.2" y1="605.3" x2="225.2" y2="605.3" stroke="#333" stroke-width="0.6"/>
<text x="222.6" y="607.75" font-size="6.9" fill="#404040" stroke="#404040" text-anchor="end">0.0</text>
<line x1="223.2" y1="582.2" x2="225.2" y2="582.2" stroke="#333" stroke-width="0.6"/>
<text x="222.6" y="584.65" font-size="6.9" fill="#404040" stroke="#404040" text-anchor="end">0.5</text>
<line x1="223.2" y1="559.1" x2="225.2" y2="559.1" stroke="#333" stroke-width="0.6"/>
<text x="222.6" y="561.55" font-size="6.9" fill="#404040" stroke="#404040" text-anchor="end">1.0</text>
<line x1="223.2" y1="536" x2="225.2" y2="536" stroke="#333" stroke-width="0.6"/>
<text x="222.6" y="538.45" font-size="6.9" fill="#404040" stroke="#404040" text-anchor="end">1.5</text>
<line x1="247.62" y1="608.3" x2="247.62" y2="610.3" stroke="#333" stroke-width="0.6"/>
<text x="247.62" y="615.9" font-size="6.6" fill="#222" stroke="#222" text-anchor="middle">Control</text>
<line x1="284.98" y1="608.3" x2="284.98" y2="610.3" stroke="#333" stroke-width="0.6"/>
<text x="284.98" y="615.9" font-size="6.6" fill="#222" stroke="#222" text-anchor="middle">Intervention</text>
<clipPath id="f9"><rect x="327.4" y="513.5" width="81.6" height="94.8"/></clipPath>
<g stroke="#E8E8E8" stroke-width="0.7">
<line x1="327.4" y1="605.6" x2="409" y2="605.6"/>
<line x1="327.4" y1="584.95" x2="409" y2="584.95"/>
<line x1="327.4" y1="564.3" x2="409" y2="564.3"/>
<line x1="327.4" y1="543.65" x2="409" y2="543.65"/>
<line x1="327.4" y1="523" x2="409" y2="523"/>
<line x1="349.65" y1="513.5" x2="349.65" y2="608.3"/>
<line x1="386.75" y1="513.5" x2="386.75" y2="608.3"/>
</g>
<g clip-path="url(#f9)">
<line x1="349.65" y1="603.95" x2="349.65" y2="601.68" stroke="#AA2020" stroke-width="0.7"/>
<line x1="349.65" y1="582.06" x2="349.65" y2="575.04" stroke="#AA2020" stroke-width="0.7"/>
<rect x="335.75" y="582.06" width="27.82" height="19.62" fill="none" stroke="#AA2020" stroke-width="0.7"/>
<line x1="335.75" y1="599.4" x2="363.56" y2="599.4" stroke="#AA2020" stroke-width="1.3"/>
<g fill="#8B0000" fill-opacity="0.65">
<circle cx="351.2" cy="575.0" r="1.4"/>
<circle cx="348.5" cy="575.7" r="1.4"/>
<circle cx="346.8" cy="596.3" r="1.4"/>
<circle cx="347.8" cy="599.4" r="1.4"/>
<circle cx="351.6" cy="601.5" r="1.4"/>
<circle cx="348.1" cy="602.5" r="1.4"/>
<circle cx="351.4" cy="603.9" r="1.4"/>
</g>
<line x1="386.75" y1="602.5" x2="386.75" y2="597.34" stroke="#4682B4" stroke-width="0.7"/>
<line x1="386.75" y1="570.5" x2="386.75" y2="531.26" stroke="#4682B4" stroke-width="0.7"/>
<rect x="372.84" y="570.5" width="27.82" height="26.85" fill="none" stroke="#4682B4" stroke-width="0.7"/>
<line x1="372.84" y1="584.95" x2="400.65" y2="584.95" stroke="#4682B4" stroke-width="1.3"/>
<g fill="#4682B4" fill-opacity="0.65">
<circle cx="386.8" cy="518.9" r="1.4"/>
<circle cx="386.3" cy="518.9" r="1.4"/>
<circle cx="390.9" cy="531.3" r="1.4"/>
<circle cx="383.8" cy="533.3" r="1.4"/>
<circle cx="386.6" cy="570.5" r="1.4"/>
<circle cx="383.7" cy="578.8" r="1.4"/>
<circle cx="390.6" cy="580.8" r="1.4"/>
<circle cx="386.6" cy="585.0" r="1.4"/>
<circle cx="385.2" cy="591.1" r="1.4"/>
<circle cx="383.8" cy="593.2" r="1.4"/>
<circle cx="387.6" cy="597.3" r="1.4"/>
<circle cx="385.8" cy="598.4" r="1.4"/>
<circle cx="383.4" cy="601.5" r="1.4"/>
<circle cx="382.6" cy="602.5" r="1.4"/>
</g>
</g>
<rect x="327.4" y="513.5" width="81.6" height="94.8" fill="none" stroke="#333" stroke-width="0.8"/>
<rect x="327.4" y="504.4" width="81.6" height="9.1" fill="#C3C3C3" stroke="#666" stroke-width="1"/>
<line x1="326.9" y1="513.5" x2="409.5" y2="513.5" stroke="#383838" stroke-width="1"/>
<clipPath id="s9"><rect x="327.9" y="501.4" width="80.6" height="14.1"/></clipPath>
<g clip-path="url(#s9)" font-size="6.5" fill="#4682B4" stroke="#4682B4" text-anchor="middle">
<text x="369.2" y="511.05">CAG-533 sp900551105</text>
</g>
<line x1="325.4" y1="605.6" x2="327.4" y2="605.6" stroke="#333" stroke-width="0.6"/>
<text x="324.8" y="608.05" font-size="6.9" fill="#404040" stroke="#404040" text-anchor="end">0.0</text>
<line x1="325.4" y1="584.95" x2="327.4" y2="584.95" stroke="#333" stroke-width="0.6"/>
<text x="324.8" y="587.4" font-size="6.9" fill="#404040" stroke="#404040" text-anchor="end">0.1</text>
<line x1="325.4" y1="564.3" x2="327.4" y2="564.3" stroke="#333" stroke-width="0.6"/>
<text x="324.8" y="566.75" font-size="6.9" fill="#404040" stroke="#404040" text-anchor="end">0.2</text>
<line x1="325.4" y1="543.65" x2="327.4" y2="543.65" stroke="#333" stroke-width="0.6"/>
<text x="324.8" y="546.1" font-size="6.9" fill="#404040" stroke="#404040" text-anchor="end">0.3</text>
<line x1="325.4" y1="523" x2="327.4" y2="523" stroke="#333" stroke-width="0.6"/>
<text x="324.8" y="525.45" font-size="6.9" fill="#404040" stroke="#404040" text-anchor="end">0.4</text>
<line x1="349.65" y1="608.3" x2="349.65" y2="610.3" stroke="#333" stroke-width="0.6"/>
<text x="349.65" y="615.9" font-size="6.6" fill="#222" stroke="#222" text-anchor="middle">Control</text>
<line x1="386.75" y1="608.3" x2="386.75" y2="610.3" stroke="#333" stroke-width="0.6"/>
<text x="386.75" y="615.9" font-size="6.6" fill="#222" stroke="#222" text-anchor="middle">Intervention</text>
<clipPath id="f10"><rect x="431.4" y="513.5" width="83" height="94.8"/></clipPath>
<g stroke="#E8E8E8" stroke-width="0.7">
<line x1="431.4" y1="589.78" x2="514.4" y2="589.78"/>
<line x1="431.4" y1="565.85" x2="514.4" y2="565.85"/>
<line x1="431.4" y1="541.93" x2="514.4" y2="541.93"/>
<line x1="431.4" y1="518" x2="514.4" y2="518"/>
<line x1="454.04" y1="513.5" x2="454.04" y2="608.3"/>
<line x1="491.76" y1="513.5" x2="491.76" y2="608.3"/>
</g>
<g clip-path="url(#f10)">
<line x1="454.04" y1="594.56" x2="454.04" y2="594.56" stroke="#AA2020" stroke-width="0.7"/>
<line x1="454.04" y1="594.56" x2="454.04" y2="594.56" stroke="#AA2020" stroke-width="0.7"/>
<rect x="439.89" y="594.56" width="28.3" height="0.01" fill="none" stroke="#AA2020" stroke-width="0.7"/>
<line x1="439.89" y1="594.56" x2="468.18" y2="594.56" stroke="#AA2020" stroke-width="1.3"/>
<g fill="#8B0000" fill-opacity="0.65">
<circle cx="453.1" cy="584.0" r="1.4"/>
<circle cx="454.8" cy="585.0" r="1.4"/>
<circle cx="454.2" cy="594.6" r="1.4"/>
<circle cx="457.7" cy="594.6" r="1.4"/>
<circle cx="457.8" cy="594.6" r="1.4"/>
<circle cx="458.0" cy="597.4" r="1.4"/>
<circle cx="456.7" cy="602.2" r="1.4"/>
<circle cx="453.8" cy="604.1" r="1.4"/>
</g>
<line x1="491.76" y1="595.52" x2="491.76" y2="594.56" stroke="#4682B4" stroke-width="0.7"/>
<line x1="491.76" y1="575.42" x2="491.76" y2="556.57" stroke="#4682B4" stroke-width="0.7"/>
<rect x="477.62" y="575.42" width="28.3" height="19.14" fill="none" stroke="#4682B4" stroke-width="0.7"/>
<line x1="477.62" y1="585.18" x2="505.91" y2="585.18" stroke="#4682B4" stroke-width="1.3"/>
<g fill="#4682B4" fill-opacity="0.65">
<circle cx="492.0" cy="518.0" r="1.4"/>
<circle cx="490.8" cy="518.0" r="1.4"/>
<circle cx="490.9" cy="560.1" r="1.4"/>
<circle cx="487.6" cy="565.9" r="1.4"/>
<circle cx="494.5" cy="572.5" r="1.4"/>
<circle cx="489.5" cy="574.5" r="1.4"/>
<circle cx="487.5" cy="582.1" r="1.4"/>
<circle cx="491.5" cy="586.9" r="1.4"/>
<circle cx="493.7" cy="587.9" r="1.4"/>
<circle cx="491.2" cy="591.7" r="1.4"/>
<circle cx="490.5" cy="594.6" r="1.4"/>
<circle cx="493.2" cy="595.5" r="1.4"/>
<circle cx="488.7" cy="596.5" r="1.4"/>
</g>
</g>
<rect x="431.4" y="513.5" width="83" height="94.8" fill="none" stroke="#333" stroke-width="0.8"/>
<rect x="431.4" y="504.4" width="83" height="9.1" fill="#C3C3C3" stroke="#666" stroke-width="1"/>
<line x1="430.9" y1="513.5" x2="514.9" y2="513.5" stroke="#383838" stroke-width="1"/>
<clipPath id="s10"><rect x="431.9" y="501.4" width="82" height="14.1"/></clipPath>
<g clip-path="url(#s10)" font-size="5.95" fill="#4682B4" stroke="#4682B4" text-anchor="middle" font-style="italic">
<text x="472" y="511.05">Ruminococcus C sp000433635</text>
</g>
<line x1="429.4" y1="589.78" x2="431.4" y2="589.78" stroke="#333" stroke-width="0.6"/>
<text x="428.8" y="592.23" font-size="6.9" fill="#404040" stroke="#404040" text-anchor="end">0.025</text>
<line x1="429.4" y1="565.85" x2="431.4" y2="565.85" stroke="#333" stroke-width="0.6"/>
<text x="428.8" y="568.3" font-size="6.9" fill="#404040" stroke="#404040" text-anchor="end">0.050</text>
<line x1="429.4" y1="541.93" x2="431.4" y2="541.93" stroke="#333" stroke-width="0.6"/>
<text x="428.8" y="544.38" font-size="6.9" fill="#404040" stroke="#404040" text-anchor="end">0.075</text>
<line x1="429.4" y1="518" x2="431.4" y2="518" stroke="#333" stroke-width="0.6"/>
<text x="428.8" y="520.45" font-size="6.9" fill="#404040" stroke="#404040" text-anchor="end">0.100</text>
<line x1="454.04" y1="608.3" x2="454.04" y2="610.3" stroke="#333" stroke-width="0.6"/>
<text x="454.04" y="615.9" font-size="6.6" fill="#222" stroke="#222" text-anchor="middle">Control</text>
<line x1="491.76" y1="608.3" x2="491.76" y2="610.3" stroke="#333" stroke-width="0.6"/>
<text x="491.76" y="615.9" font-size="6.6" fill="#222" stroke="#222" text-anchor="middle">Intervention</text>
<clipPath id="f11"><rect x="23.4" y="636.5" width="82.2" height="91.7"/></clipPath>
<g stroke="#E8E8E8" stroke-width="0.7">
<line x1="23.4" y1="725.4" x2="105.6" y2="725.4"/>
<line x1="23.4" y1="707.85" x2="105.6" y2="707.85"/>
<line x1="23.4" y1="690.3" x2="105.6" y2="690.3"/>
<line x1="23.4" y1="672.75" x2="105.6" y2="672.75"/>
<line x1="23.4" y1="655.2" x2="105.6" y2="655.2"/>
<line x1="23.4" y1="637.65" x2="105.6" y2="637.65"/>
<line x1="45.82" y1="636.5" x2="45.82" y2="728.2"/>
<line x1="83.18" y1="636.5" x2="83.18" y2="728.2"/>
</g>
<g clip-path="url(#f11)">
<line x1="45.82" y1="722.94" x2="45.82" y2="715.57" stroke="#AA2020" stroke-width="0.7"/>
<line x1="45.82" y1="699.43" x2="45.82" y2="674.5" stroke="#AA2020" stroke-width="0.7"/>
<rect x="31.81" y="699.43" width="28.02" height="16.15" fill="none" stroke="#AA2020" stroke-width="0.7"/>
<line x1="31.81" y1="707.6" x2="59.83" y2="707.6" stroke="#AA2020" stroke-width="1.3"/>
<g fill="#8B0000" fill-opacity="0.65">
<circle cx="41.4" cy="641.2" r="1.4"/>
<circle cx="46.6" cy="641.2" r="1.4"/>
<circle cx="46.1" cy="674.5" r="1.4"/>
<circle cx="49.1" cy="674.5" r="1.4"/>
<circle cx="45.1" cy="674.9" r="1.4"/>
<circle cx="48.4" cy="693.1" r="1.4"/>
<circle cx="41.5" cy="695.6" r="1.4"/>
<circle cx="41.6" cy="699.1" r="1.4"/>
<circle cx="46.7" cy="699.4" r="1.4"/>
<circle cx="43.4" cy="700.1" r="1.4"/>
<circle cx="41.9" cy="700.8" r="1.4"/>
<circle cx="42.5" cy="701.5" r="1.4"/>
<circle cx="44.7" cy="707.9" r="1.4"/>
<circle cx="44.4" cy="707.9" r="1.4"/>
<circle cx="46.4" cy="708.2" r="1.4"/>
<circle cx="49.3" cy="709.6" r="1.4"/>
<circle cx="44.6" cy="714.9" r="1.4"/>
<circle cx="43.0" cy="715.6" r="1.4"/>
<circle cx="46.5" cy="716.6" r="1.4"/>
<circle cx="41.4" cy="718.4" r="1.4"/>
<circle cx="44.8" cy="720.1" r="1.4"/>
<circle cx="44.2" cy="721.9" r="1.4"/>
<circle cx="44.8" cy="722.9" r="1.4"/>
</g>
<line x1="83.18" y1="724.7" x2="83.18" y2="719.99" stroke="#4682B4" stroke-width="0.7"/>
<line x1="83.18" y1="702.58" x2="83.18" y2="690.3" stroke="#4682B4" stroke-width="0.7"/>
<rect x="69.17" y="702.58" width="28.02" height="17.41" fill="none" stroke="#4682B4" stroke-width="0.7"/>
<line x1="69.17" y1="710.31" x2="97.19" y2="710.31" stroke="#4682B4" stroke-width="1.3"/>
<g fill="#4682B4" fill-opacity="0.65">
<circle cx="79.2" cy="644.3" r="1.4"/>
<circle cx="83.7" cy="644.3" r="1.4"/>
<circle cx="84.3" cy="690.3" r="1.4"/>
<circle cx="85.4" cy="697.3" r="1.4"/>
<circle cx="87.3" cy="699.8" r="1.4"/>
<circle cx="81.9" cy="704.3" r="1.4"/>
<circle cx="84.6" cy="707.9" r="1.4"/>
<circle cx="82.7" cy="708.6" r="1.4"/>
<circle cx="80.6" cy="709.6" r="1.4"/>
<circle cx="86.7" cy="713.1" r="1.4"/>
<circle cx="85.4" cy="714.9" r="1.4"/>
<circle cx="87.2" cy="724.7" r="1.4"/>
<circle cx="86.1" cy="724.7" r="1.4"/>
</g>
</g>
<rect x="23.4" y="636.5" width="82.2" height="91.7" fill="none" stroke="#333" stroke-width="0.8"/>
<rect x="23.4" y="623.4" width="82.2" height="13.1" fill="#C3C3C3" stroke="#666" stroke-width="1"/>
<line x1="22.9" y1="636.5" x2="106.1" y2="636.5" stroke="#383838" stroke-width="1"/>
<clipPath id="s11"><rect x="23.9" y="620.4" width="81.2" height="18.1"/></clipPath>
<g clip-path="url(#s11)" font-size="6.5" fill="#AA2020" stroke="#AA2020" text-anchor="middle" font-style="italic">
<text x="65.1" y="628.3">Phascolarctobacterium A</text>
<text x="65.1" y="634.5">sp900551335</text>
</g>
<line x1="21.4" y1="725.4" x2="23.4" y2="725.4" stroke="#333" stroke-width="0.6"/>
<text x="20.8" y="727.85" font-size="6.9" fill="#404040" stroke="#404040" text-anchor="end">0.0</text>
<line x1="21.4" y1="707.85" x2="23.4" y2="707.85" stroke="#333" stroke-width="0.6"/>
<text x="20.8" y="710.3" font-size="6.9" fill="#404040" stroke="#404040" text-anchor="end">0.5</text>
<line x1="21.4" y1="690.3" x2="23.4" y2="690.3" stroke="#333" stroke-width="0.6"/>
<text x="20.8" y="692.75" font-size="6.9" fill="#404040" stroke="#404040" text-anchor="end">1.0</text>
<line x1="21.4" y1="672.75" x2="23.4" y2="672.75" stroke="#333" stroke-width="0.6"/>
<text x="20.8" y="675.2" font-size="6.9" fill="#404040" stroke="#404040" text-anchor="end">1.5</text>
<line x1="21.4" y1="655.2" x2="23.4" y2="655.2" stroke="#333" stroke-width="0.6"/>
<text x="20.8" y="657.65" font-size="6.9" fill="#404040" stroke="#404040" text-anchor="end">2.0</text>
<line x1="21.4" y1="637.65" x2="23.4" y2="637.65" stroke="#333" stroke-width="0.6"/>
<text x="20.8" y="640.1" font-size="6.9" fill="#404040" stroke="#404040" text-anchor="end">2.5</text>
<line x1="45.82" y1="728.2" x2="45.82" y2="730.2" stroke="#333" stroke-width="0.6"/>
<text x="45.82" y="735.8" font-size="6.6" fill="#222" stroke="#222" text-anchor="middle">Control</text>
<line x1="83.18" y1="728.2" x2="83.18" y2="730.2" stroke="#333" stroke-width="0.6"/>
<text x="83.18" y="735.8" font-size="6.6" fill="#222" stroke="#222" text-anchor="middle">Intervention</text>
<clipPath id="f12"><rect x="125.4" y="636.5" width="82.2" height="91.7"/></clipPath>
<g stroke="#E8E8E8" stroke-width="0.7">
<line x1="125.4" y1="725.7" x2="207.6" y2="725.7"/>
<line x1="125.4" y1="704" x2="207.6" y2="704"/>
<line x1="125.4" y1="682.3" x2="207.6" y2="682.3"/>
<line x1="125.4" y1="660.6" x2="207.6" y2="660.6"/>
<line x1="125.4" y1="638.9" x2="207.6" y2="638.9"/>
<line x1="147.82" y1="636.5" x2="147.82" y2="728.2"/>
<line x1="185.18" y1="636.5" x2="185.18" y2="728.2"/>
</g>
<g clip-path="url(#f12)">
<line x1="147.82" y1="725.7" x2="147.82" y2="723.1" stroke="#AA2020" stroke-width="0.7"/>
<line x1="147.82" y1="708.34" x2="147.82" y2="698.79" stroke="#AA2020" stroke-width="0.7"/>
<rect x="133.81" y="708.34" width="28.02" height="14.76" fill="none" stroke="#AA2020" stroke-width="0.7"/>
<line x1="133.81" y1="720.49" x2="161.83" y2="720.49" stroke="#AA2020" stroke-width="1.3"/>
<g fill="#8B0000" fill-opacity="0.65">
<circle cx="151.6" cy="640.6" r="1.4"/>
<circle cx="144.5" cy="640.6" r="1.4"/>
<circle cx="143.5" cy="647.6" r="1.4"/>
<circle cx="145.1" cy="647.6" r="1.4"/>
<circle cx="147.0" cy="671.9" r="1.4"/>
<circle cx="149.5" cy="698.8" r="1.4"/>
<circle cx="147.3" cy="708.3" r="1.4"/>
<circle cx="147.9" cy="710.1" r="1.4"/>
<circle cx="150.2" cy="712.7" r="1.4"/>
<circle cx="144.0" cy="715.3" r="1.4"/>
<circle cx="149.4" cy="717.0" r="1.4"/>
<circle cx="143.8" cy="718.8" r="1.4"/>
<circle cx="145.6" cy="720.5" r="1.4"/>
<circle cx="149.8" cy="720.5" r="1.4"/>
<circle cx="149.5" cy="720.5" r="1.4"/>
<circle cx="147.0" cy="722.2" r="1.4"/>
<circle cx="146.0" cy="723.1" r="1.4"/>
<circle cx="150.8" cy="724.0" r="1.4"/>
<circle cx="145.8" cy="724.0" r="1.4"/>
<circle cx="143.6" cy="724.0" r="1.4"/>
<circle cx="145.6" cy="724.8" r="1.4"/>
</g>
<line x1="185.18" y1="724.83" x2="185.18" y2="723.96" stroke="#4682B4" stroke-width="0.7"/>
<line x1="185.18" y1="715.28" x2="185.18" y2="712.68" stroke="#4682B4" stroke-width="0.7"/>
<rect x="171.17" y="715.28" width="28.02" height="8.68" fill="none" stroke="#4682B4" stroke-width="0.7"/>
<line x1="171.17" y1="723.1" x2="199.19" y2="723.1" stroke="#4682B4" stroke-width="1.3"/>
<g fill="#4682B4" fill-opacity="0.65">
<circle cx="180.9" cy="699.7" r="1.4"/>
<circle cx="188.0" cy="712.7" r="1.4"/>
<circle cx="181.8" cy="713.5" r="1.4"/>
<circle cx="189.4" cy="714.4" r="1.4"/>
<circle cx="182.6" cy="724.0" r="1.4"/>
<circle cx="183.4" cy="724.0" r="1.4"/>
<circle cx="185.9" cy="724.0" r="1.4"/>
<circle cx="183.5" cy="724.0" r="1.4"/>
</g>
</g>
<rect x="125.4" y="636.5" width="82.2" height="91.7" fill="none" stroke="#333" stroke-width="0.8"/>
<rect x="125.4" y="627.6" width="82.2" height="8.9" fill="#C3C3C3" stroke="#666" stroke-width="1"/>
<line x1="124.9" y1="636.5" x2="208.1" y2="636.5" stroke="#383838" stroke-width="1"/>
<clipPath id="s12"><rect x="125.9" y="624.6" width="81.2" height="13.9"/></clipPath>
<g clip-path="url(#s12)" font-size="6.5" fill="#AA2020" stroke="#AA2020" text-anchor="middle">
<text x="166.5" y="634.15">Zag111 sp003258735</text>
</g>
<line x1="123.4" y1="725.7" x2="125.4" y2="725.7" stroke="#333" stroke-width="0.6"/>
<text x="122.8" y="728.15" font-size="6.9" fill="#404040" stroke="#404040" text-anchor="end">0.00</text>
<line x1="123.4" y1="704" x2="125.4" y2="704" stroke="#333" stroke-width="0.6"/>
<text x="122.8" y="706.45" font-size="6.9" fill="#404040" stroke="#404040" text-anchor="end">0.25</text>
<line x1="123.4" y1="682.3" x2="125.4" y2="682.3" stroke="#333" stroke-width="0.6"/>
<text x="122.8" y="684.75" font-size="6.9" fill="#404040" stroke="#404040" text-anchor="end">0.50</text>
<line x1="123.4" y1="660.6" x2="125.4" y2="660.6" stroke="#333" stroke-width="0.6"/>
<text x="122.8" y="663.05" font-size="6.9" fill="#404040" stroke="#404040" text-anchor="end">0.75</text>
<line x1="123.4" y1="638.9" x2="125.4" y2="638.9" stroke="#333" stroke-width="0.6"/>
<text x="122.8" y="641.35" font-size="6.9" fill="#404040" stroke="#404040" text-anchor="end">1.00</text>
<line x1="147.82" y1="728.2" x2="147.82" y2="730.2" stroke="#333" stroke-width="0.6"/>
<text x="147.82" y="735.8" font-size="6.6" fill="#222" stroke="#222" text-anchor="middle">Control</text>
<line x1="185.18" y1="728.2" x2="185.18" y2="730.2" stroke="#333" stroke-width="0.6"/>
<text x="185.18" y="735.8" font-size="6.6" fill="#222" stroke="#222" text-anchor="middle">Intervention</text>
<clipPath id="f13"><rect x="225.4" y="636.5" width="82" height="91.7"/></clipPath>
<g stroke="#E8E8E8" stroke-width="0.7">
<line x1="225.4" y1="725.6" x2="307.4" y2="725.6"/>
<line x1="225.4" y1="706.2" x2="307.4" y2="706.2"/>
<line x1="225.4" y1="686.8" x2="307.4" y2="686.8"/>
<line x1="225.4" y1="667.4" x2="307.4" y2="667.4"/>
<line x1="225.4" y1="648" x2="307.4" y2="648"/>
<line x1="247.76" y1="636.5" x2="247.76" y2="728.2"/>
<line x1="285.04" y1="636.5" x2="285.04" y2="728.2"/>
</g>
<g clip-path="url(#f13)">
<line x1="247.76" y1="725.6" x2="247.76" y2="721.72" stroke="#AA2020" stroke-width="0.7"/>
<line x1="247.76" y1="716.87" x2="247.76" y2="712.02" stroke="#AA2020" stroke-width="0.7"/>
<rect x="233.79" y="716.87" width="27.95" height="4.85" fill="none" stroke="#AA2020" stroke-width="0.7"/>
<line x1="233.79" y1="719.78" x2="261.74" y2="719.78" stroke="#AA2020" stroke-width="1.3"/>
<g fill="#8B0000" fill-opacity="0.65">
<circle cx="246.7" cy="640.2" r="1.4"/>
<circle cx="244.2" cy="706.2" r="1.4"/>
<circle cx="246.8" cy="706.2" r="1.4"/>
<circle cx="243.5" cy="707.2" r="1.4"/>
<circle cx="245.3" cy="713.0" r="1.4"/>
<circle cx="251.4" cy="715.9" r="1.4"/>
<circle cx="245.8" cy="716.9" r="1.4"/>
<circle cx="245.7" cy="717.8" r="1.4"/>
<circle cx="249.4" cy="717.8" r="1.4"/>
<circle cx="251.2" cy="717.8" r="1.4"/>
<circle cx="245.9" cy="718.2" r="1.4"/>
<circle cx="246.7" cy="718.8" r="1.4"/>
<circle cx="249.7" cy="719.8" r="1.4"/>
<circle cx="250.4" cy="719.8" r="1.4"/>
<circle cx="248.8" cy="720.8" r="1.4"/>
<circle cx="244.9" cy="721.7" r="1.4"/>
<circle cx="244.9" cy="721.7" r="1.4"/>
<circle cx="250.1" cy="722.7" r="1.4"/>
<circle cx="249.6" cy="723.7" r="1.4"/>
<circle cx="251.3" cy="724.6" r="1.4"/>
</g>
<line x1="285.04" y1="724.63" x2="285.04" y2="723.66" stroke="#4682B4" stroke-width="0.7"/>
<line x1="285.04" y1="721.72" x2="285.04" y2="719.78" stroke="#4682B4" stroke-width="0.7"/>
<rect x="271.06" y="721.72" width="27.95" height="1.94" fill="none" stroke="#4682B4" stroke-width="0.7"/>
<line x1="271.06" y1="722.69" x2="299.01" y2="722.69" stroke="#4682B4" stroke-width="1.3"/>
<g fill="#4682B4" fill-opacity="0.65">
<circle cx="287.5" cy="696.5" r="1.4"/>
<circle cx="284.3" cy="696.5" r="1.4"/>
<circle cx="281.8" cy="719.8" r="1.4"/>
<circle cx="288.5" cy="721.7" r="1.4"/>
<circle cx="286.8" cy="722.1" r="1.4"/>
<circle cx="285.7" cy="722.7" r="1.4"/>
<circle cx="286.7" cy="722.7" r="1.4"/>
<circle cx="284.0" cy="722.7" r="1.4"/>
<circle cx="283.6" cy="723.1" r="1.4"/>
<circle cx="285.7" cy="723.3" r="1.4"/>
<circle cx="284.9" cy="723.7" r="1.4"/>
<circle cx="286.9" cy="723.7" r="1.4"/>
</g>
</g>
<rect x="225.4" y="636.5" width="82" height="91.7" fill="none" stroke="#333" stroke-width="0.8"/>
<rect x="225.4" y="627.6" width="82" height="8.9" fill="#C3C3C3" stroke="#666" stroke-width="1"/>
<line x1="224.9" y1="636.5" x2="307.9" y2="636.5" stroke="#383838" stroke-width="1"/>
<clipPath id="s13"><rect x="225.9" y="624.6" width="81" height="13.9"/></clipPath>
<g clip-path="url(#s13)" font-size="6.5" fill="#AA2020" stroke="#AA2020" text-anchor="middle" font-style="italic">
<text x="269.1" y="634.15">Veillonella sp.</text>
</g>
<line x1="223.4" y1="725.6" x2="225.4" y2="725.6" stroke="#333" stroke-width="0.6"/>
<text x="222.8" y="728.05" font-size="6.9" fill="#404040" stroke="#404040" text-anchor="end">0.0</text>
<line x1="223.4" y1="706.2" x2="225.4" y2="706.2" stroke="#333" stroke-width="0.6"/>
<text x="222.8" y="708.65" font-size="6.9" fill="#404040" stroke="#404040" text-anchor="end">0.1</text>
<line x1="223.4" y1="686.8" x2="225.4" y2="686.8" stroke="#333" stroke-width="0.6"/>
<text x="222.8" y="689.25" font-size="6.9" fill="#404040" stroke="#404040" text-anchor="end">0.2</text>
<line x1="223.4" y1="667.4" x2="225.4" y2="667.4" stroke="#333" stroke-width="0.6"/>
<text x="222.8" y="669.85" font-size="6.9" fill="#404040" stroke="#404040" text-anchor="end">0.3</text>
<line x1="223.4" y1="648" x2="225.4" y2="648" stroke="#333" stroke-width="0.6"/>
<text x="222.8" y="650.45" font-size="6.9" fill="#404040" stroke="#404040" text-anchor="end">0.4</text>
<line x1="247.76" y1="728.2" x2="247.76" y2="730.2" stroke="#333" stroke-width="0.6"/>
<text x="247.76" y="735.8" font-size="6.6" fill="#222" stroke="#222" text-anchor="middle">Control</text>
<line x1="285.04" y1="728.2" x2="285.04" y2="730.2" stroke="#333" stroke-width="0.6"/>
<text x="285.04" y="735.8" font-size="6.6" fill="#222" stroke="#222" text-anchor="middle">Intervention</text>
<clipPath id="f14"><rect x="327" y="636.5" width="83.2" height="91.7"/></clipPath>
<g stroke="#E8E8E8" stroke-width="0.7">
<line x1="327" y1="724.4" x2="410.2" y2="724.4"/>
<line x1="327" y1="698.4" x2="410.2" y2="698.4"/>
<line x1="327" y1="672.4" x2="410.2" y2="672.4"/>
<line x1="327" y1="646.4" x2="410.2" y2="646.4"/>
<line x1="349.69" y1="636.5" x2="349.69" y2="728.2"/>
<line x1="387.51" y1="636.5" x2="387.51" y2="728.2"/>
</g>
<g clip-path="url(#f14)">
<line x1="349.69" y1="724.4" x2="349.69" y2="723.1" stroke="#AA2020" stroke-width="0.7"/>
<line x1="349.69" y1="722.58" x2="349.69" y2="722.32" stroke="#AA2020" stroke-width="0.7"/>
<rect x="335.51" y="722.58" width="28.36" height="0.52" fill="none" stroke="#AA2020" stroke-width="0.7"/>
<line x1="335.51" y1="722.84" x2="363.87" y2="722.84" stroke="#AA2020" stroke-width="1.3"/>
<g fill="#8B0000" fill-opacity="0.65">
<circle cx="353.6" cy="698.9" r="1.4"/>
<circle cx="352.8" cy="698.9" r="1.4"/>
<circle cx="348.7" cy="722.8" r="1.4"/>
<circle cx="348.5" cy="722.8" r="1.4"/>
<circle cx="353.6" cy="722.8" r="1.4"/>
<circle cx="348.7" cy="722.8" r="1.4"/>
<circle cx="352.4" cy="724.4" r="1.4"/>
<circle cx="346.0" cy="724.4" r="1.4"/>
<circle cx="349.2" cy="724.4" r="1.4"/>
</g>
<line x1="387.51" y1="724.4" x2="387.51" y2="722.84" stroke="#4682B4" stroke-width="0.7"/>
<line x1="387.51" y1="691.64" x2="387.51" y2="662" stroke="#4682B4" stroke-width="0.7"/>
<rect x="373.33" y="691.64" width="28.36" height="31.2" fill="none" stroke="#4682B4" stroke-width="0.7"/>
<line x1="373.33" y1="717.12" x2="401.69" y2="717.12" stroke="#4682B4" stroke-width="1.3"/>
<g fill="#4682B4" fill-opacity="0.65">
<circle cx="387.7" cy="640.2" r="1.4"/>
<circle cx="390.3" cy="640.2" r="1.4"/>
<circle cx="390.9" cy="661.5" r="1.4"/>
<circle cx="384.4" cy="675.5" r="1.4"/>
<circle cx="388.6" cy="682.8" r="1.4"/>
<circle cx="388.7" cy="694.8" r="1.4"/>
<circle cx="384.3" cy="697.4" r="1.4"/>
<circle cx="390.5" cy="708.8" r="1.4"/>
<circle cx="388.0" cy="717.1" r="1.4"/>
<circle cx="391.7" cy="717.6" r="1.4"/>
<circle cx="384.7" cy="722.8" r="1.4"/>
<circle cx="387.7" cy="723.4" r="1.4"/>
<circle cx="385.9" cy="723.9" r="1.4"/>
<circle cx="388.8" cy="724.4" r="1.4"/>
<circle cx="388.5" cy="724.4" r="1.4"/>
<circle cx="387.6" cy="724.4" r="1.4"/>
</g>
</g>
<rect x="327" y="636.5" width="83.2" height="91.7" fill="none" stroke="#333" stroke-width="0.8"/>
<rect x="327" y="627.6" width="83.2" height="8.9" fill="#C3C3C3" stroke="#666" stroke-width="1"/>
<line x1="326.5" y1="636.5" x2="410.7" y2="636.5" stroke="#383838" stroke-width="1"/>
<clipPath id="s14"><rect x="327.5" y="624.6" width="82.2" height="13.9"/></clipPath>
<g clip-path="url(#s14)" font-size="6.5" fill="#4682B4" stroke="#4682B4" text-anchor="middle" font-style="italic">
<text x="368" y="634.15">Bacteroides fragilis</text>
</g>
<line x1="325" y1="724.4" x2="327" y2="724.4" stroke="#333" stroke-width="0.6"/>
<text x="324.4" y="726.85" font-size="6.9" fill="#404040" stroke="#404040" text-anchor="end">0</text>
<line x1="325" y1="698.4" x2="327" y2="698.4" stroke="#333" stroke-width="0.6"/>
<text x="324.4" y="700.85" font-size="6.9" fill="#404040" stroke="#404040" text-anchor="end">5</text>
<line x1="325" y1="672.4" x2="327" y2="672.4" stroke="#333" stroke-width="0.6"/>
<text x="324.4" y="674.85" font-size="6.9" fill="#404040" stroke="#404040" text-anchor="end">10</text>
<line x1="325" y1="646.4" x2="327" y2="646.4" stroke="#333" stroke-width="0.6"/>
<text x="324.4" y="648.85" font-size="6.9" fill="#404040" stroke="#404040" text-anchor="end">15</text>
<line x1="349.69" y1="728.2" x2="349.69" y2="730.2" stroke="#333" stroke-width="0.6"/>
<text x="349.69" y="735.8" font-size="6.6" fill="#222" stroke="#222" text-anchor="middle">Control</text>
<line x1="387.51" y1="728.2" x2="387.51" y2="730.2" stroke="#333" stroke-width="0.6"/>
<text x="387.51" y="735.8" font-size="6.6" fill="#222" stroke="#222" text-anchor="middle">Intervention</text>
<clipPath id="f15"><rect x="433.2" y="636.5" width="82.2" height="91.7"/></clipPath>
<g stroke="#E8E8E8" stroke-width="0.7">
<line x1="433.2" y1="698" x2="515.4" y2="698"/>
<line x1="433.2" y1="665.4" x2="515.4" y2="665.4"/>
<line x1="455.62" y1="636.5" x2="455.62" y2="728.2"/>
<line x1="492.98" y1="636.5" x2="492.98" y2="728.2"/>
</g>
<g clip-path="url(#f15)">
<line x1="455.62" y1="723.43" x2="455.62" y2="720.49" stroke="#AA2020" stroke-width="0.7"/>
<line x1="455.62" y1="710.71" x2="455.62" y2="703.54" stroke="#AA2020" stroke-width="0.7"/>
<rect x="441.61" y="710.71" width="28.02" height="9.78" fill="none" stroke="#AA2020" stroke-width="0.7"/>
<line x1="441.61" y1="716.91" x2="469.63" y2="716.91" stroke="#AA2020" stroke-width="1.3"/>
<g fill="#8B0000" fill-opacity="0.65">
<circle cx="454.0" cy="694.7" r="1.4"/>
<circle cx="455.7" cy="694.7" r="1.4"/>
<circle cx="454.5" cy="703.5" r="1.4"/>
<circle cx="459.1" cy="707.8" r="1.4"/>
<circle cx="455.3" cy="710.4" r="1.4"/>
<circle cx="455.4" cy="711.0" r="1.4"/>
<circle cx="453.5" cy="712.7" r="1.4"/>
<circle cx="453.4" cy="714.3" r="1.4"/>
<circle cx="459.7" cy="715.9" r="1.4"/>
<circle cx="454.0" cy="716.9" r="1.4"/>
<circle cx="458.9" cy="716.9" r="1.4"/>
<circle cx="456.5" cy="716.9" r="1.4"/>
<circle cx="459.9" cy="719.2" r="1.4"/>
<circle cx="452.6" cy="720.8" r="1.4"/>
<circle cx="459.6" cy="722.5" r="1.4"/>
<circle cx="458.1" cy="723.4" r="1.4"/>
</g>
<line x1="492.98" y1="723.43" x2="492.98" y2="718.99" stroke="#4682B4" stroke-width="0.7"/>
<line x1="492.98" y1="683.33" x2="492.98" y2="642.58" stroke="#4682B4" stroke-width="0.7"/>
<rect x="478.97" y="683.33" width="28.02" height="35.66" fill="none" stroke="#4682B4" stroke-width="0.7"/>
<line x1="478.97" y1="707.45" x2="506.99" y2="707.45" stroke="#4682B4" stroke-width="1.3"/>
<g fill="#4682B4" fill-opacity="0.65">
<circle cx="493.6" cy="641.0" r="1.4"/>
<circle cx="494.9" cy="699.6" r="1.4"/>
<circle cx="495.0" cy="717.6" r="1.4"/>
<circle cx="492.5" cy="722.5" r="1.4"/>
</g>
</g>
<rect x="433.2" y="636.5" width="82.2" height="91.7" fill="none" stroke="#333" stroke-width="0.8"/>
<rect x="433.2" y="627.6" width="82.2" height="8.9" fill="#C3C3C3" stroke="#666" stroke-width="1"/>
<line x1="432.7" y1="636.5" x2="515.9" y2="636.5" stroke="#383838" stroke-width="1"/>
<clipPath id="s15"><rect x="433.7" y="624.6" width="81.2" height="13.9"/></clipPath>
<g clip-path="url(#s15)" font-size="6.5" fill="#4682B4" stroke="#4682B4" text-anchor="middle">
<text x="474.3" y="634.15">UMGS874 sp.</text>
</g>
<line x1="431.2" y1="698" x2="433.2" y2="698" stroke="#333" stroke-width="0.6"/>
<text x="430.6" y="700.45" font-size="6.9" fill="#404040" stroke="#404040" text-anchor="end">0.1</text>
<line x1="431.2" y1="665.4" x2="433.2" y2="665.4" stroke="#333" stroke-width="0.6"/>
<text x="430.6" y="667.85" font-size="6.9" fill="#404040" stroke="#404040" text-anchor="end">0.2</text>
<line x1="455.62" y1="728.2" x2="455.62" y2="730.2" stroke="#333" stroke-width="0.6"/>
<text x="455.62" y="735.8" font-size="6.6" fill="#222" stroke="#222" text-anchor="middle">Control</text>
<line x1="492.98" y1="728.2" x2="492.98" y2="730.2" stroke="#333" stroke-width="0.6"/>
<text x="492.98" y="735.8" font-size="6.6" fill="#222" stroke="#222" text-anchor="middle">Intervention</text>
<clipPath id="f16"><rect x="530.4" y="636.5" width="81.9" height="91.7"/></clipPath>
<g stroke="#E8E8E8" stroke-width="0.7">
<line x1="530.4" y1="725.3" x2="612.3" y2="725.3"/>
<line x1="530.4" y1="695.93" x2="612.3" y2="695.93"/>
<line x1="530.4" y1="666.56" x2="612.3" y2="666.56"/>
<line x1="530.4" y1="637.19" x2="612.3" y2="637.19"/>
<line x1="552.74" y1="636.5" x2="552.74" y2="728.2"/>
<line x1="589.96" y1="636.5" x2="589.96" y2="728.2"/>
</g>
<g clip-path="url(#f16)">
<line x1="552.74" y1="724.71" x2="552.74" y2="723.83" stroke="#AA2020" stroke-width="0.7"/>
<line x1="552.74" y1="720.01" x2="552.74" y2="715.61" stroke="#AA2020" stroke-width="0.7"/>
<rect x="538.78" y="720.01" width="27.92" height="3.82" fill="none" stroke="#AA2020" stroke-width="0.7"/>
<line x1="538.78" y1="721.78" x2="566.7" y2="721.78" stroke="#AA2020" stroke-width="1.3"/>
<g fill="#8B0000" fill-opacity="0.65">
<circle cx="553.9" cy="715.0" r="1.4"/>
<circle cx="550.3" cy="716.5" r="1.4"/>
<circle cx="548.5" cy="719.4" r="1.4"/>
<circle cx="554.3" cy="720.9" r="1.4"/>
<circle cx="552.5" cy="721.8" r="1.4"/>
<circle cx="556.4" cy="722.4" r="1.4"/>
<circle cx="550.6" cy="723.0" r="1.4"/>
<circle cx="555.6" cy="723.8" r="1.4"/>
<circle cx="557.1" cy="724.4" r="1.4"/>
<circle cx="556.3" cy="724.7" r="1.4"/>
</g>
<line x1="589.96" y1="724.71" x2="589.96" y2="721.78" stroke="#4682B4" stroke-width="0.7"/>
<line x1="589.96" y1="713.55" x2="589.96" y2="706.8" stroke="#4682B4" stroke-width="0.7"/>
<rect x="576" y="713.55" width="27.92" height="8.22" fill="none" stroke="#4682B4" stroke-width="0.7"/>
<line x1="576" y1="719.43" x2="603.92" y2="719.43" stroke="#4682B4" stroke-width="1.3"/>
<g fill="#4682B4" fill-opacity="0.65">
<circle cx="594.1" cy="640.1" r="1.4"/>
<circle cx="586.9" cy="640.1" r="1.4"/>
<circle cx="587.0" cy="706.8" r="1.4"/>
<circle cx="587.5" cy="713.6" r="1.4"/>
<circle cx="588.7" cy="714.1" r="1.4"/>
<circle cx="586.5" cy="718.0" r="1.4"/>
<circle cx="586.8" cy="719.4" r="1.4"/>
<circle cx="585.7" cy="720.0" r="1.4"/>
<circle cx="593.8" cy="721.8" r="1.4"/>
<circle cx="588.7" cy="722.4" r="1.4"/>
<circle cx="591.1" cy="723.8" r="1.4"/>
<circle cx="589.6" cy="724.4" r="1.4"/>
</g>
</g>
<rect x="530.4" y="636.5" width="81.9" height="91.7" fill="none" stroke="#333" stroke-width="0.8"/>
<rect x="530.4" y="627.6" width="81.9" height="8.9" fill="#C3C3C3" stroke="#666" stroke-width="1"/>
<line x1="529.9" y1="636.5" x2="612.8" y2="636.5" stroke="#383838" stroke-width="1"/>
<clipPath id="s16"><rect x="530.9" y="624.6" width="80.9" height="13.9"/></clipPath>
<g clip-path="url(#s16)" font-size="6.5" fill="#4682B4" stroke="#4682B4" text-anchor="middle">
<text x="571.35" y="634.15">UBA1232 sp900544815</text>
</g>
<line x1="528.4" y1="725.3" x2="530.4" y2="725.3" stroke="#333" stroke-width="0.6"/>
<text x="527.8" y="727.75" font-size="6.9" fill="#404040" stroke="#404040" text-anchor="end">0</text>
<line x1="528.4" y1="695.93" x2="530.4" y2="695.93" stroke="#333" stroke-width="0.6"/>
<text x="527.8" y="698.38" font-size="6.9" fill="#404040" stroke="#404040" text-anchor="end">1</text>
<line x1="528.4" y1="666.56" x2="530.4" y2="666.56" stroke="#333" stroke-width="0.6"/>
<text x="527.8" y="669.01" font-size="6.9" fill="#404040" stroke="#404040" text-anchor="end">2</text>
<line x1="528.4" y1="637.19" x2="530.4" y2="637.19" stroke="#333" stroke-width="0.6"/>
<text x="527.8" y="639.64" font-size="6.9" fill="#404040" stroke="#404040" text-anchor="end">3</text>
<line x1="552.74" y1="728.2" x2="552.74" y2="730.2" stroke="#333" stroke-width="0.6"/>
<text x="552.74" y="735.8" font-size="6.6" fill="#222" stroke="#222" text-anchor="middle">Control</text>
<line x1="589.96" y1="728.2" x2="589.96" y2="730.2" stroke="#333" stroke-width="0.6"/>
<text x="589.96" y="735.8" font-size="6.6" fill="#222" stroke="#222" text-anchor="middle">Intervention</text>
<text transform="translate(8.2,436.8) rotate(-90)" font-size="8" fill="#222" stroke="#222" text-anchor="middle">Abundance</text>
<text transform="translate(8.2,558.2) rotate(-90)" font-size="8" fill="#222" stroke="#222" text-anchor="middle">Abundance</text>
<text transform="translate(8.2,682.2) rotate(-90)" font-size="8" fill="#222" stroke="#222" text-anchor="middle">Abundance</text>
<text x="628.6" y="693.8" font-size="9" fill="#222" stroke="#222" text-anchor="start">Intervention</text>
<line x1="635.7" y1="700.8" x2="635.7" y2="712.1999999999999" stroke="#AA2020" stroke-width="0.8"/>
<rect x="629.9" y="702.3" width="11.7" height="8.2" fill="#fff" stroke="#AA2020" stroke-width="0.8"/>
<line x1="629.9" y1="706.4" x2="641.6" y2="706.4" stroke="#AA2020" stroke-width="1.3"/>
<circle cx="635.7" cy="706.4" r="1.3" fill="#AA2020"/>
<text x="647.4" y="708.95" font-size="7.2" fill="#222" stroke="#222" text-anchor="start">Control</text>
<line x1="635.7" y1="715.0" x2="635.7" y2="726.4" stroke="#4682B4" stroke-width="0.8"/>
<rect x="629.9" y="716.5" width="11.7" height="8.2" fill="#fff" stroke="#4682B4" stroke-width="0.8"/>
<line x1="629.9" y1="720.6" x2="641.6" y2="720.6" stroke="#4682B4" stroke-width="1.3"/>
<circle cx="635.7" cy="720.6" r="1.3" fill="#4682B4"/>
<text x="647.4" y="723.15" font-size="7.2" fill="#222" stroke="#222" text-anchor="start">Intervention</text>
</svg></body></html>
